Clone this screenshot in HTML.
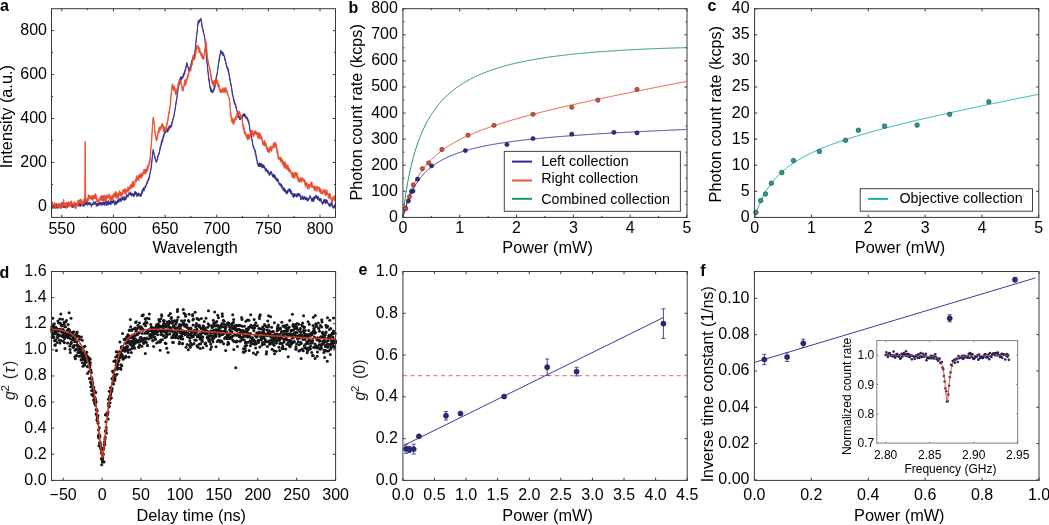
<!DOCTYPE html>
<html><head><meta charset="utf-8"><style>
html,body{margin:0;padding:0;background:#fff;}
svg{display:block;will-change:transform;}
text{font-family:"Liberation Sans", sans-serif;}
</style></head><body>
<svg width="1049" height="525" viewBox="0 0 1049 525">
<defs><clipPath id="ca"><rect x="51.5" y="8.7" width="284.0" height="208.70000000000002"/></clipPath></defs>
<rect width="1049" height="525" fill="#fff"/>
<g clip-path="url(#ca)">
<polygon points="51,205.89 51.45,206.31 51.9,206.36 52.35,205.45 52.8,204.9 53.25,204.78 53.7,204.56 54.15,206.17 54.6,206.46 55.05,206.58 55.5,205.86 55.95,204.64 56.4,205.51 56.85,204.03 57.3,204.58 57.75,205.8 58.2,204.84 58.65,203.99 59.1,203.44 59.55,205.27 60,204.33 60.45,204.95 60.9,206.09 61.35,205.01 61.8,202.07 62.25,203.07 62.7,203.84 63.15,203.94 63.6,205.99 64.05,206.03 64.5,206.33 64.95,205.7 65.4,205.72 65.85,206.11 66.3,206.51 66.75,204.55 67.2,203.62 67.65,202.76 68.1,203.96 68.55,203.29 69,203.78 69.45,203.96 69.9,203.3 70.35,202.72 70.8,203.42 71.25,204.85 71.7,205.11 72.15,204.21 72.6,204.75 73.05,204.44 73.5,205.65 73.95,203.79 74.4,204.73 74.85,205.01 75.3,204.83 75.75,203.13 76.2,203.07 76.65,204.51 77.1,203.81 77.55,202.9 78,204.25 78.45,204.07 78.9,203.66 79.35,201.91 79.8,203.43 80.25,203.84 80.7,202.95 81.15,203.87 81.6,202.82 82.05,203.88 82.5,204.22 82.95,203.9 83.4,204.13 83.85,204.45 84.3,203 84.75,202.64 85.2,202.85 85.65,201.75 86.1,201.35 86.55,202.9 87,202.31 87.45,201.72 87.9,202.47 88.35,202.6 88.8,202.08 89.25,202.58 89.7,203.59 90.15,202.32 90.6,202.75 91.05,204.15 91.5,204.17 91.95,204.2 92.4,203.3 92.85,203.48 93.3,202.25 93.75,201.58 94.2,201.56 94.65,202.55 95.1,201.79 95.55,201.84 96,203.58 96.45,203.29 96.9,203.17 97.35,204.82 97.8,203.12 98.25,202.25 98.7,202.25 99.15,201.77 99.6,203.53 100.05,202.78 100.5,201.86 100.95,203.65 101.4,202.42 101.85,203.85 102.3,202.44 102.75,202.46 103.2,201.77 103.65,202.69 104.1,202.83 104.55,201.85 105,203.17 105.45,202.2 105.9,200.27 106.35,201.4 106.8,203.65 107.25,201.32 107.7,202.29 108.15,200.6 108.6,200.51 109.05,202.32 109.5,202.6 109.95,202.48 110.4,201.08 110.85,201.27 111.3,201.81 111.75,200.27 112.2,201.25 112.65,201.05 113.1,201.21 113.55,199.56 114,200.5 114.45,201.95 114.9,202.54 115.35,200.71 115.8,201.8 116.25,201.82 116.7,201.31 117.15,200.52 117.6,200.09 118.05,201.01 118.5,198.81 118.95,198.97 119.4,199.54 119.85,198.02 120.3,198.05 120.75,198.55 121.2,199.49 121.65,197.96 122.1,197.29 122.55,196.74 123,197.95 123.45,198.42 123.9,196.36 124.35,196.42 124.8,198.01 125.25,198.9 125.7,197.01 126.15,196.25 126.6,194.47 127.05,195.7 127.5,194.79 127.95,194.76 128.4,194.48 128.85,192.62 129.3,192.98 129.75,193.1 130.2,192.88 130.65,191.73 131.1,192.92 131.55,194.26 132,193.3 132.45,194.26 132.9,193.6 133.35,194.05 133.8,194.67 134.25,192.86 134.7,191.61 135.15,191.36 135.6,191.73 136.05,191.85 136.5,192.98 136.95,192.84 137.4,193.52 137.85,193.15 138.3,192.77 138.75,193.2 139.2,194.24 139.65,194.46 140.1,193.62 140.55,194.09 141,194.1 141.45,192.51 141.9,190.82 142.35,189.37 142.8,189.49 143.25,188.09 143.7,187.39 144.15,188.48 144.6,187.66 145.05,185.87 145.5,185.73 145.95,184.78 146.4,183.35 146.85,182.61 147.3,180.78 147.75,180.1 148.2,178.8 148.65,177.78 149.1,176.32 149.55,175.07 150,172.71 150.45,170.04 150.9,168.14 151.35,163.72 151.8,160.26 152.25,156.62 152.7,152.58 153.15,149.15 153.6,151.11 154.05,153.28 154.5,155.46 154.95,155.97 155.4,158.73 155.85,159.49 156.3,160.08 156.75,159.82 157.2,159.42 157.65,156.8 158.1,155.09 158.55,153.16 159,152.65 159.45,151.05 159.9,147.43 160.35,146.16 160.8,144.41 161.25,142.09 161.7,140.13 162.15,140.16 162.6,137.99 163.05,136.69 163.5,135.21 163.95,133.37 164.4,132.82 164.85,130.53 165.3,130.92 165.75,130.81 166.2,130.63 166.65,129.63 167.1,130.43 167.55,128.42 168,129.59 168.45,128.71 168.9,126.3 169.35,126.87 169.8,125.36 170.25,125.29 170.7,126.18 171.15,125.44 171.6,124.01 172.05,121.21 172.5,120.72 172.95,118.72 173.4,117.12 173.85,115.72 174.3,112.33 174.75,111.03 175.2,108.11 175.65,103.85 176.1,101.47 176.55,99 177,96.03 177.45,93.01 177.9,89.09 178.35,84.66 178.8,83.36 179.25,81.89 179.7,79.36 180.15,78.19 180.6,76.73 181.05,76.39 181.5,77.14 181.95,77.87 182.4,76.73 182.85,76.3 183.3,73.84 183.75,73.77 184.2,72.11 184.65,70.37 185.1,70.13 185.55,67.57 186,65.99 186.45,64.13 186.9,62.3 187.35,63.75 187.8,65.64 188.25,66.82 188.7,67.41 189.15,67.93 189.6,67.67 190.05,68.05 190.5,66.73 190.95,64.02 191.4,62.05 191.85,60.03 192.3,59.37 192.75,58.14 193.2,56.17 193.65,56.19 194.1,54.55 194.55,54.7 195,49.93 195.45,47.26 195.9,42.04 196.35,36.43 196.8,33.93 197.25,29.58 197.7,23.55 198.15,20.65 198.6,20.3 199.05,20.85 199.5,19.51 199.95,19.63 200.4,19.35 200.85,18.04 201.3,19.92 201.75,22.19 202.2,25.66 202.65,28.07 203.1,29.21 203.55,32.26 204,33.84 204.45,35.05 204.9,38.42 205.35,42.45 205.8,47.58 206.25,53.77 206.7,57.9 207.15,62.16 207.6,67.24 208.05,71.71 208.5,75.47 208.95,78.33 209.4,81.06 209.85,85.93 210.3,86.15 210.75,87.19 211.2,89.29 211.65,88.96 212.1,90.29 212.55,90.96 213,90.89 213.45,89.9 213.9,87.88 214.35,87.35 214.8,85.22 215.25,83.97 215.7,80.56 216.15,76.53 216.6,75.51 217.05,73.04 217.5,70.48 217.95,67.5 218.4,63.58 218.85,60.87 219.3,57.01 219.75,55.03 220.2,52.95 220.65,49.93 221.1,51.17 221.55,51.24 222,51.1 222.45,53.15 222.9,53.39 223.35,52.48 223.8,54.16 224.25,55.61 224.7,56.08 225.15,59.69 225.6,59.73 226.05,62.62 226.5,64.69 226.95,66.02 227.4,67.41 227.85,67.28 228.3,69.11 228.75,71.56 229.2,73.78 229.65,77.07 230.1,78.18 230.55,82.14 231,83.22 231.45,86.31 231.9,88.43 232.35,92.37 232.8,94.47 233.25,96.88 233.7,98.2 234.15,99.78 234.6,101.41 235.05,103.19 235.5,103.54 235.95,105.59 236.4,107.81 236.85,109.93 237.3,111.71 237.75,112.75 238.2,115.32 238.65,115.71 239.1,115.92 239.55,116.87 240,117.23 240.45,118.01 240.9,118.1 241.35,117.82 241.8,117.12 242.25,116.02 242.7,114.48 243.15,113.96 243.6,113.94 244.05,113.84 244.5,113.83 244.95,113.57 245.4,114.66 245.85,116.36 246.3,116.33 246.75,117.72 247.2,117.26 247.65,117.95 248.1,119.45 248.55,120.12 249,122.15 249.45,124.44 249.9,128.71 250.35,131.66 250.8,132.82 251.25,134.05 251.7,137.72 252.15,139.54 252.6,142.39 253.05,145.09 253.5,145.67 253.95,147.77 254.4,148.37 254.85,149.51 255.3,149.88 255.75,152.78 256.2,155.17 256.65,156.7 257.1,160.45 257.55,161.33 258,163.41 258.45,164 258.9,163.26 259.35,162.93 259.8,163.31 260.25,163.5 260.7,163.19 261.15,163.02 261.6,163.51 262.05,164.25 262.5,165.32 262.95,164.48 263.4,165.67 263.85,164.66 264.3,167.04 264.75,166.32 265.2,168.55 265.65,168.86 266.1,168.78 266.55,168.57 267,169.58 267.45,170.45 267.9,170.12 268.35,170.91 268.8,173.17 269.25,172.88 269.7,172.95 270.15,171.76 270.6,171.66 271.05,171.83 271.5,171.35 271.95,172.97 272.4,174.85 272.85,174.17 273.3,175.07 273.75,173.99 274.2,174.55 274.65,175.73 275.1,175.18 275.55,176.55 276,177.55 276.45,178.35 276.9,177.83 277.35,179.01 277.8,179.14 278.25,179.25 278.7,182.01 279.15,182.99 279.6,183.1 280.05,183.02 280.5,183.54 280.95,184.04 281.4,184.34 281.85,184.39 282.3,186.3 282.75,186.87 283.2,187.48 283.65,189.13 284.1,187.47 284.55,188.45 285,189.1 285.45,189.5 285.9,190.58 286.35,191.57 286.8,190.96 287.25,190.06 287.7,189.98 288.15,190.75 288.6,189.73 289.05,188.31 289.5,188.41 289.95,189.26 290.4,189.61 290.85,190.3 291.3,190.39 291.75,192.5 292.2,193.3 292.65,193.05 293.1,194.31 293.55,195.24 294,193.06 294.45,193.48 294.9,194.19 295.35,194.22 295.8,194.2 296.25,194.24 296.7,194.59 297.15,193.63 297.6,194.26 298.05,193.12 298.5,193.08 298.95,194.13 299.4,194.26 299.85,193.56 300.3,195.53 300.75,195.53 301.2,197.09 301.65,197.16 302.1,196.94 302.55,195.51 303,197.19 303.45,196.87 303.9,197.52 304.35,196.96 304.8,196.02 305.25,197.64 305.7,197.6 306.15,197.13 306.6,197.9 307.05,197.88 307.5,198.58 307.95,197.85 308.4,198.47 308.85,198.96 309.3,197.74 309.75,195.4 310.2,195.64 310.65,196.47 311.1,197.72 311.55,198.3 312,199.09 312.45,197.78 312.9,198.65 313.35,197.52 313.8,197.12 314.25,196.64 314.7,196.73 315.15,195.8 315.6,195.82 316.05,196.74 316.5,195.02 316.95,197.09 317.4,196.65 317.85,196.37 318.3,196.31 318.75,197.65 319.2,198.41 319.65,198.47 320.1,198.7 320.55,198.24 321,198.16 321.45,200.89 321.9,201.12 322.35,202.16 322.8,202.02 323.25,201.87 323.7,199.53 324.15,199.96 324.6,199.41 325.05,199.35 325.5,200.13 325.95,199.34 326.4,200.15 326.85,199.89 327.3,200.24 327.75,202.65 328.2,202.69 328.65,203.82 329.1,203.61 329.55,204.61 330,203.57 330.45,204.03 330.9,203.7 331.35,201.64 331.8,202.93 332.25,204.43 332.7,205.49 333.15,206.29 333.6,206.74 334.05,205.83 334.5,204.84 334.95,204.15 335.4,203.38 335.85,203.48 335.85,205.52 335.4,204.74 334.95,206.82 334.5,207.63 334.05,206.64 333.6,208.61 333.15,207.92 332.7,207.41 332.25,205.34 331.8,206.03 331.35,205.5 330.9,204.64 330.45,205.85 330,206.99 329.55,206.37 329.1,205.62 328.65,205.42 328.2,204.04 327.75,203.83 327.3,203.36 326.85,202.38 326.4,202.22 325.95,203.74 325.5,203.23 325.05,202.97 324.6,200.95 324.15,202.9 323.7,202.66 323.25,202.94 322.8,204.52 322.35,204.21 321.9,203.29 321.45,201.69 321,201.6 320.55,200.28 320.1,201.25 319.65,201.02 319.2,201.12 318.75,199.16 318.3,198.56 317.85,200.06 317.4,198.95 316.95,198.57 316.5,197.58 316.05,198.33 315.6,197.34 315.15,198.33 314.7,199.21 314.25,199.47 313.8,201.55 313.35,200.1 312.9,201.64 312.45,200.7 312,201.74 311.55,200.88 311.1,198.9 310.65,197.94 310.2,197.12 309.75,198.08 309.3,198.95 308.85,200.07 308.4,200.66 307.95,200.97 307.5,201.21 307.05,199.51 306.6,199.88 306.15,200.24 305.7,200.03 305.25,199.66 304.8,198.57 304.35,198.99 303.9,199.22 303.45,199.92 303,198.4 302.55,198.66 302.1,199.57 301.65,198.84 301.2,198.71 300.75,199.99 300.3,197.42 299.85,196.5 299.4,195.33 298.95,195.04 298.5,196.19 298.05,195.76 297.6,195.88 297.15,196.78 296.7,197.23 296.25,197.24 295.8,195.83 295.35,195.69 294.9,196.6 294.45,196.45 294,197.49 293.55,197.72 293.1,196.31 292.65,196.45 292.2,194.81 291.75,193.68 291.3,194.12 290.85,194.01 290.4,191.99 289.95,191.63 289.5,191.97 289.05,191.1 288.6,190.99 288.15,191.49 287.7,193.6 287.25,193.21 286.8,194.28 286.35,192.94 285.9,193.36 285.45,190.78 285,192.23 284.55,190.82 284.1,190.74 283.65,190.83 283.2,191.03 282.75,188.62 282.3,187.13 281.85,188.28 281.4,186.91 280.95,186.89 280.5,184.7 280.05,185.47 279.6,185.19 279.15,184.27 278.7,183.44 278.25,181.93 277.8,182.01 277.35,179.8 276.9,181.21 276.45,179.73 276,180.31 275.55,179.15 275.1,177.21 274.65,178.41 274.2,177.07 273.75,176.93 273.3,177.52 272.85,176.73 272.4,176.57 271.95,174.97 271.5,173.65 271.05,173.14 270.6,173.55 270.15,174.88 269.7,175.02 269.25,175.86 268.8,174.16 268.35,173.5 267.9,173.6 267.45,172.97 267,171.32 266.55,170.57 266.1,170.95 265.65,171.73 265.2,169.79 264.75,169.26 264.3,168.49 263.85,167.77 263.4,166.72 262.95,167.92 262.5,166.95 262.05,168.24 261.6,166.37 261.15,166.07 260.7,166.8 260.25,166.58 259.8,165.9 259.35,166.9 258.9,166.08 258.45,166.82 258,164.69 257.55,164.93 257.1,162.05 256.65,159.99 256.2,158.21 255.75,155.53 255.3,154.32 254.85,151.45 254.4,150.07 253.95,148.56 253.5,148.6 253.05,146.84 252.6,144.39 252.15,141.21 251.7,139.25 251.25,137.06 250.8,136.28 250.35,132.56 249.9,130.46 249.45,127.32 249,124.05 248.55,123.55 248.1,121.2 247.65,120.91 247.2,120.11 246.75,118.58 246.3,117.84 245.85,118.43 245.4,117.64 244.95,116.77 244.5,116.42 244.05,114.98 243.6,116.58 243.15,115.28 242.7,116.36 242.25,118.88 241.8,118.05 241.35,118.79 240.9,119.19 240.45,119.5 240,118.97 239.55,119.63 239.1,118.27 238.65,117.24 238.2,117.63 237.75,114.81 237.3,113.55 236.85,110.77 236.4,109.29 235.95,108.16 235.5,106.21 235.05,104.71 234.6,104.41 234.15,102.98 233.7,101.19 233.25,98.39 232.8,96.59 232.35,94.99 231.9,91.21 231.45,88.46 231,85.77 230.55,84.32 230.1,80.94 229.65,80.07 229.2,75.88 228.75,73.92 228.3,72.05 227.85,71.03 227.4,69.23 226.95,67.73 226.5,66.94 226.05,65.06 225.6,62.04 225.15,60.45 224.7,60.35 224.25,56.74 223.8,55.62 223.35,55.96 222.9,55.1 222.45,55.44 222,53.29 221.55,53.23 221.1,53.81 220.65,54 220.2,54.14 219.75,58.43 219.3,59.92 218.85,63.41 218.4,65.61 217.95,68.39 217.5,72.41 217.05,75.39 216.6,76.91 216.15,79.83 215.7,83.93 215.25,86.14 214.8,88.3 214.35,89.93 213.9,89.93 213.45,91.44 213,92.94 212.55,92.57 212.1,92.49 211.65,92.12 211.2,92.17 210.75,91.59 210.3,89.47 209.85,87.85 209.4,84.52 208.95,81.43 208.5,77.53 208.05,72.96 207.6,70.05 207.15,63.84 206.7,61.08 206.25,55.39 205.8,49.65 205.35,44.14 204.9,39.38 204.45,37.32 204,35.04 203.55,33.61 203.1,31.77 202.65,29.26 202.2,28.05 201.75,24.97 201.3,22.25 200.85,20.74 200.4,20.81 199.95,20.58 199.5,21.26 199.05,23.15 198.6,22.28 198.15,24.7 197.7,26.3 197.25,32 196.8,35.47 196.35,39.43 195.9,43.4 195.45,48.15 195,53.43 194.55,55.4 194.1,56.64 193.65,58.18 193.2,60.12 192.75,59.32 192.3,61.35 191.85,61.73 191.4,63.9 190.95,67.69 190.5,68.06 190.05,70.18 189.6,70.97 189.15,71.16 188.7,70.97 188.25,68.73 187.8,66.87 187.35,66.31 186.9,65.63 186.45,66.51 186,68.53 185.55,70.48 185.1,71.77 184.65,74.58 184.2,73.43 183.75,75.7 183.3,77.24 182.85,78.25 182.4,78.49 181.95,79.41 181.5,79.1 181.05,80.85 180.6,79.73 180.15,82.13 179.7,83.78 179.25,85.28 178.8,85.88 178.35,87.46 177.9,91.51 177.45,95.03 177,97.61 176.55,100.75 176.1,104.27 175.65,106.34 175.2,109.47 174.75,111.73 174.3,114.63 173.85,117.71 173.4,118.48 172.95,120.26 172.5,122.35 172.05,124.71 171.6,126.07 171.15,127.32 170.7,127.3 170.25,128.1 169.8,128.02 169.35,129.42 168.9,129.36 168.45,130.08 168,132.2 167.55,131.93 167.1,131.92 166.65,131.8 166.2,131.36 165.75,133.07 165.3,132.7 164.85,133.63 164.4,134.19 163.95,137.01 163.5,136.87 163.05,139.38 162.6,141.98 162.15,142.25 161.7,143.71 161.25,145.5 160.8,146.63 160.35,149.43 159.9,150.1 159.45,153.58 159,154.84 158.55,154.92 158.1,156.67 157.65,159.17 157.2,160.3 156.75,162.26 156.3,162.63 155.85,161.75 155.4,159.75 154.95,158.93 154.5,157.1 154.05,154.35 153.6,152.05 153.15,151.24 152.7,154.5 152.25,158.61 151.8,163.3 151.35,167.88 150.9,170.18 150.45,172.72 150,174.12 149.55,177.2 149.1,179.14 148.65,180.42 148.2,180.58 147.75,182.36 147.3,183.9 146.85,184.35 146.4,185.08 145.95,186.76 145.5,187.98 145.05,187.7 144.6,188.76 144.15,191.19 143.7,191.06 143.25,190.64 142.8,191.16 142.35,193.6 141.9,193.16 141.45,195.32 141,196.6 140.55,195.19 140.1,196.48 139.65,196.03 139.2,195.19 138.75,196.2 138.3,194.35 137.85,194.89 137.4,195.13 136.95,196.94 136.5,195.08 136.05,194.67 135.6,194.13 135.15,194.89 134.7,194.05 134.25,196.16 133.8,196.88 133.35,196.72 132.9,196.16 132.45,195.1 132,195.15 131.55,195.26 131.1,196.22 130.65,194.31 130.2,194.59 129.75,194.18 129.3,195.11 128.85,194.93 128.4,195.24 127.95,197.47 127.5,196.05 127.05,196.65 126.6,197.34 126.15,199.57 125.7,199.48 125.25,200.27 124.8,199.58 124.35,200.43 123.9,198.97 123.45,200.13 123,200.08 122.55,199.14 122.1,200.15 121.65,199.33 121.2,201.77 120.75,201 120.3,200.78 119.85,201.33 119.4,200.28 118.95,202.4 118.5,202.14 118.05,202.01 117.6,202.76 117.15,203.15 116.7,204.41 116.25,202.88 115.8,204.19 115.35,203.37 114.9,205.42 114.45,203.66 114,203.24 113.55,203.08 113.1,202.09 112.65,203.38 112.2,203.33 111.75,203.38 111.3,203.09 110.85,205.27 110.4,204.26 109.95,203.97 109.5,203.71 109.05,204.67 108.6,204.82 108.15,203.54 107.7,204.61 107.25,204.19 106.8,205.98 106.35,205.13 105.9,203.55 105.45,203.32 105,205.13 104.55,205.7 104.1,204.12 103.65,204.73 103.2,204.73 102.75,204.81 102.3,204.62 101.85,205.65 101.4,205.1 100.95,204.4 100.5,204.69 100.05,204.59 99.6,204.56 99.15,205.37 98.7,204.56 98.25,205.61 97.8,206.08 97.35,206.13 96.9,205.4 96.45,206.41 96,205.25 95.55,204.77 95.1,203.65 94.65,203.26 94.2,204.49 93.75,204.11 93.3,204.8 92.85,204.47 92.4,205.06 91.95,205.18 91.5,207.19 91.05,205.25 90.6,205.11 90.15,204.59 89.7,204.83 89.25,205.1 88.8,204.29 88.35,204.62 87.9,205 87.45,205.47 87,204.33 86.55,204.2 86.1,204.73 85.65,203.58 85.2,205.44 84.75,205.09 84.3,206.08 83.85,206.25 83.4,206.36 82.95,206.07 82.5,206.26 82.05,205.05 81.6,204.83 81.15,205.07 80.7,205.88 80.25,206.85 79.8,204.67 79.35,205.88 78.9,205.97 78.45,206.39 78,206.09 77.55,204.81 77.1,205.49 76.65,205.45 76.2,206.72 75.75,206.3 75.3,206.74 74.85,206.29 74.4,206.18 73.95,206.09 73.5,206.83 73.05,208.02 72.6,207.53 72.15,207.35 71.7,206.71 71.25,205.98 70.8,205.93 70.35,205.96 69.9,205.48 69.45,205.7 69,206.08 68.55,206.87 68.1,206.99 67.65,206.41 67.2,207.75 66.75,208.19 66.3,207.8 65.85,208.02 65.4,207.78 64.95,207.26 64.5,207.56 64.05,207.95 63.6,207.37 63.15,207.56 62.7,206.72 62.25,204.82 61.8,205.99 61.35,207.67 60.9,207.47 60.45,208.33 60,208.37 59.55,206.09 59.1,206.28 58.65,206.66 58.2,207.58 57.75,208.67 57.3,207.4 56.85,207.44 56.4,208.1 55.95,208.04 55.5,208.44 55.05,207.76 54.6,207.81 54.15,207.36 53.7,207.33 53.25,207.17 52.8,208.42 52.35,208.21 51.9,207.54 51.45,208.08 51,207.83" fill="#2e2c8c" stroke="#2e2c8c" stroke-width="0.8" stroke-linejoin="round"/>
<polygon points="51,203.99 51.45,202.44 51.9,203.3 52.35,201.61 52.8,204.12 53.25,204.37 53.7,204.4 54.15,205.5 54.6,202.7 55.05,202.85 55.5,204.82 55.95,203.32 56.4,203.08 56.85,203.69 57.3,203.82 57.75,204.34 58.2,203.15 58.65,203.52 59.1,204.11 59.55,204.07 60,204.63 60.45,203.56 60.9,203.73 61.35,204.01 61.8,203.6 62.25,203.53 62.7,204.21 63.15,203.07 63.6,199.29 64.05,202.28 64.5,203.44 64.95,203.17 65.4,202.53 65.85,205.28 66.3,204.25 66.75,202.22 67.2,204.17 67.65,203.44 68.1,202.02 68.55,201.36 69,204.07 69.45,203.39 69.9,202.09 70.35,201.63 70.8,201.88 71.25,200.68 71.7,200.99 72.15,203.42 72.6,203.14 73.05,202.85 73.5,203.43 73.95,203.14 74.4,202.27 74.85,201.23 75.3,204.33 75.75,205.02 76.2,203.71 76.65,203.7 77.1,203 77.55,202.31 78,199.83 78.45,202.14 78.9,200.57 79.35,201.06 79.8,199.18 80.25,198.98 80.7,198.93 81.15,199.34 81.6,200.61 82.05,201.74 82.5,201.87 82.95,201.15 83.4,199.53 83.85,199.22 84.3,199.78 84.75,198.73 85.2,197.25 85.65,197.84 86.1,200.01 86.55,199.61 87,198.44 87.45,198.26 87.9,197.7 88.35,194.9 88.8,194.46 89.25,195.67 89.7,195.55 90.15,195.59 90.6,196.05 91.05,196.2 91.5,195.89 91.95,196.03 92.4,196.79 92.85,194.97 93.3,195.05 93.75,196.5 94.2,196.21 94.65,194.57 95.1,195.02 95.55,193.37 96,195.45 96.45,195.24 96.9,196.74 97.35,199.25 97.8,199.69 98.25,199.59 98.7,199.17 99.15,198.96 99.6,198.27 100.05,196.97 100.5,197.29 100.95,195.52 101.4,195.79 101.85,195.6 102.3,196.55 102.75,195.16 103.2,197.72 103.65,195.58 104.1,196.93 104.55,194.84 105,195.73 105.45,196.27 105.9,196.59 106.35,194.86 106.8,196.12 107.25,195.69 107.7,195.39 108.15,194.83 108.6,194.08 109.05,194.46 109.5,194.12 109.95,196.9 110.4,196.2 110.85,196.61 111.3,196.24 111.75,195.89 112.2,194.66 112.65,196.53 113.1,195.48 113.55,193.03 114,193.31 114.45,194.46 114.9,192.88 115.35,191.55 115.8,192.33 116.25,191.52 116.7,193.14 117.15,194.92 117.6,193.23 118.05,193.47 118.5,193.91 118.95,192.8 119.4,190.41 119.85,191.55 120.3,192.66 120.75,191.88 121.2,192.33 121.65,193.91 122.1,192.57 122.55,190.14 123,190.99 123.45,189.15 123.9,189.91 124.35,189.64 124.8,188.43 125.25,190.2 125.7,188.89 126.15,189.39 126.6,189.38 127.05,189.92 127.5,188.45 127.95,186.56 128.4,187.35 128.85,188.64 129.3,187.27 129.75,186.52 130.2,185.42 130.65,185.16 131.1,183.95 131.55,185.17 132,183.35 132.45,181.72 132.9,181.05 133.35,181.37 133.8,183.54 134.25,183.41 134.7,182.33 135.15,179.94 135.6,179.02 136.05,178.38 136.5,175.62 136.95,177.39 137.4,177.63 137.85,176.66 138.3,175.12 138.75,176.17 139.2,174.57 139.65,176.08 140.1,173.47 140.55,174.24 141,173.97 141.45,173.76 141.9,173.77 142.35,172.46 142.8,173.52 143.25,171.72 143.7,170.22 144.15,168.96 144.6,169.72 145.05,171.57 145.5,169.06 145.95,169.17 146.4,169.86 146.85,168.37 147.3,165.97 147.75,164.89 148.2,165.53 148.65,164.94 149.1,161.07 149.55,160.03 150,157.84 150.45,154.25 150.9,146.57 151.35,142.7 151.8,134.15 152.25,127.55 152.7,121.31 153.15,116.96 153.6,117.14 154.05,121.33 154.5,125.37 154.95,130.58 155.4,133.03 155.85,137.17 156.3,137.8 156.75,137.76 157.2,133.88 157.65,134.45 158.1,131.05 158.55,130.52 159,127.31 159.45,129.69 159.9,126.84 160.35,127.1 160.8,127.05 161.25,124.84 161.7,124 162.15,123.49 162.6,123.46 163.05,126.18 163.5,125.19 163.95,125.78 164.4,128.02 164.85,128.19 165.3,127 165.75,128.4 166.2,128.17 166.65,123.93 167.1,122.14 167.55,119.9 168,116.52 168.45,114.4 168.9,111.26 169.35,110.12 169.8,107.05 170.25,104.8 170.7,98.45 171.15,92.17 171.6,89.29 172.05,84.59 172.5,83.74 172.95,84.75 173.4,85.75 173.85,88.2 174.3,85.9 174.75,88.78 175.2,88.14 175.65,89.81 176.1,91.41 176.55,89.8 177,88.36 177.45,88.2 177.9,85.67 178.35,81.87 178.8,81.76 179.25,78.89 179.7,79.94 180.15,79.55 180.6,79.94 181.05,81.88 181.5,83.72 181.95,86.18 182.4,87.38 182.85,87.28 183.3,87.36 183.75,85.48 184.2,83.26 184.65,79.63 185.1,80.99 185.55,80.47 186,78.86 186.45,79.41 186.9,78.21 187.35,76.08 187.8,74.18 188.25,74.61 188.7,71.24 189.15,70.41 189.6,69.27 190.05,68.21 190.5,67.82 190.95,67.15 191.4,65.45 191.85,63.8 192.3,58.99 192.75,57.58 193.2,54.9 193.65,56.78 194.1,56.31 194.55,55.78 195,55.29 195.45,51.95 195.9,49.42 196.35,47.65 196.8,46.01 197.25,45.32 197.7,45.64 198.15,45.33 198.6,48.02 199.05,49.62 199.5,47.48 199.95,48.53 200.4,51.78 200.85,53.06 201.3,54.73 201.75,52.49 202.2,55.47 202.65,54.61 203.1,55.94 203.55,58.07 204,56.04 204.45,51.44 204.9,48.38 205.35,43.18 205.8,40.89 206.25,42.02 206.7,47.75 207.15,53.64 207.6,57.54 208.05,59.31 208.5,62.75 208.95,64.94 209.4,65.75 209.85,67.55 210.3,71.09 210.75,72.2 211.2,74.7 211.65,78.08 212.1,80.3 212.55,82.24 213,80.81 213.45,81.84 213.9,80.34 214.35,81.67 214.8,80.16 215.25,80.39 215.7,80.2 216.15,78.75 216.6,78.22 217.05,80.53 217.5,79.88 217.95,83.54 218.4,83.39 218.85,84.28 219.3,84.78 219.75,88.47 220.2,88.7 220.65,89.16 221.1,90.69 221.55,89.56 222,89.8 222.45,88.51 222.9,87.66 223.35,88.61 223.8,89.75 224.25,87.73 224.7,89.3 225.15,89.75 225.6,87.13 226.05,87.74 226.5,89.17 226.95,90.69 227.4,91.85 227.85,94.07 228.3,95.3 228.75,96.55 229.2,97.92 229.65,99.87 230.1,104.99 230.55,109.98 231,113.79 231.45,117.41 231.9,117.19 232.35,118.6 232.8,118.77 233.25,120.64 233.7,119.46 234.15,118.28 234.6,120.81 235.05,118.75 235.5,116.36 235.95,116.76 236.4,115.84 236.85,113.32 237.3,112.95 237.75,112.04 238.2,112.26 238.65,110.99 239.1,113.45 239.55,111.28 240,113.19 240.45,114.18 240.9,115.34 241.35,115.68 241.8,117.54 242.25,117.72 242.7,121.61 243.15,125.2 243.6,125.16 244.05,127.32 244.5,128.78 244.95,132.17 245.4,132.28 245.85,132.31 246.3,134.97 246.75,135.09 247.2,135.95 247.65,134.2 248.1,136.47 248.55,134.04 249,137.2 249.45,134.49 249.9,135.03 250.35,133.93 250.8,132.38 251.25,129.8 251.7,132.33 252.15,130.41 252.6,130.26 253.05,132.87 253.5,132.73 253.95,133.03 254.4,130.79 254.85,132.47 255.3,131.49 255.75,130.36 256.2,132.18 256.65,132.81 257.1,132.04 257.55,132.93 258,133.44 258.45,132.51 258.9,134.77 259.35,132.62 259.8,134.95 260.25,133.44 260.7,134.98 261.15,135.6 261.6,136.53 262.05,136.96 262.5,140.22 262.95,140.55 263.4,143.17 263.85,141.72 264.3,140.34 264.75,140.72 265.2,143.88 265.65,142.33 266.1,144.06 266.55,145.34 267,146.61 267.45,147.67 267.9,148.87 268.35,147.85 268.8,148.81 269.25,150.08 269.7,147.35 270.15,147.36 270.6,145.59 271.05,148.19 271.5,146.55 271.95,146.64 272.4,146.59 272.85,146.04 273.3,142.87 273.75,144.77 274.2,143.84 274.65,142.49 275.1,142.36 275.55,142.04 276,144.56 276.45,144.53 276.9,147.26 277.35,149.48 277.8,150.65 278.25,155.38 278.7,156.09 279.15,157.66 279.6,157.81 280.05,157.52 280.5,156.82 280.95,158.94 281.4,157.77 281.85,159.01 282.3,160.5 282.75,159.64 283.2,162.4 283.65,161.63 284.1,162.27 284.55,163.95 285,161.51 285.45,162.49 285.9,164.17 286.35,164.73 286.8,164.84 287.25,164.97 287.7,165.51 288.15,165.12 288.6,167.18 289.05,168.41 289.5,168.84 289.95,168.8 290.4,170.3 290.85,170.58 291.3,173.03 291.75,173.5 292.2,173.76 292.65,171.68 293.1,173.58 293.55,174.83 294,173.1 294.45,172.14 294.9,172.83 295.35,174.55 295.8,172.11 296.25,174.04 296.7,172.34 297.15,172.98 297.6,174.35 298.05,176.99 298.5,177.69 298.95,179.52 299.4,178.18 299.85,179.84 300.3,178.45 300.75,177.4 301.2,177.47 301.65,179.16 302.1,179.91 302.55,177.4 303,179.28 303.45,178.63 303.9,179.91 304.35,180.35 304.8,179.39 305.25,181.13 305.7,181.46 306.15,182.28 306.6,184.12 307.05,184.83 307.5,182.9 307.95,185.72 308.4,184.36 308.85,185.57 309.3,184.19 309.75,185.08 310.2,184.16 310.65,182.48 311.1,183.34 311.55,182.08 312,181.76 312.45,185.17 312.9,185.56 313.35,186.34 313.8,186.21 314.25,186.57 314.7,185.42 315.15,186.72 315.6,187.33 316.05,186.64 316.5,186.27 316.95,187.55 317.4,186.65 317.85,185.93 318.3,187.21 318.75,188.97 319.2,187.32 319.65,187.25 320.1,188.76 320.55,189.77 321,188.63 321.45,190.96 321.9,191.61 322.35,190.99 322.8,191.57 323.25,188.9 323.7,190.77 324.15,190.65 324.6,190.54 325.05,189.34 325.5,190.73 325.95,192.46 326.4,192.01 326.85,189.66 327.3,191.87 327.75,192.74 328.2,193.67 328.65,193.97 329.1,195.08 329.55,193.25 330,193.09 330.45,195.17 330.9,195.48 331.35,198.96 331.8,199.73 332.25,198.66 332.7,197.37 333.15,196.75 333.6,197.9 334.05,195.35 334.5,197.83 334.95,197.05 335.4,197.02 335.85,199.58 335.85,203.21 335.4,201.68 334.95,201.06 334.5,200.43 334.05,199.05 333.6,199 333.15,199.16 332.7,201.83 332.25,203.89 331.8,202.28 331.35,201.07 330.9,198.67 330.45,198.56 330,196.94 329.55,196.99 329.1,199.05 328.65,196.62 328.2,197.61 327.75,194.79 327.3,194.33 326.85,193.9 326.4,194.78 325.95,195.92 325.5,193.62 325.05,195.72 324.6,193.37 324.15,191.97 323.7,192.33 323.25,192.99 322.8,194 322.35,194.39 321.9,193.36 321.45,193.54 321,191.41 320.55,193.61 320.1,191.46 319.65,192.2 319.2,191.75 318.75,190.34 318.3,189.2 317.85,188.8 317.4,188.75 316.95,191.59 316.5,190.51 316.05,190.58 315.6,189.61 315.15,190.87 314.7,188.08 314.25,190.31 313.8,188.94 313.35,188.18 312.9,186.97 312.45,186.82 312,187.46 311.55,185.51 311.1,187.54 310.65,185.35 310.2,185.27 309.75,187.21 309.3,189.22 308.85,188.19 308.4,187.28 307.95,187.01 307.5,189.33 307.05,186.29 306.6,185.29 306.15,186.36 305.7,187.26 305.25,185.6 304.8,184.7 304.35,181.97 303.9,181.79 303.45,181.23 303,180.86 302.55,181.03 302.1,181.44 301.65,181.04 301.2,182.51 300.75,181.29 300.3,180.33 299.85,182.03 299.4,182.31 298.95,181.62 298.5,182.04 298.05,180.98 297.6,179.34 297.15,178.16 296.7,176.94 296.25,175.57 295.8,175.79 295.35,175.55 294.9,178.49 294.45,176.98 294,178.49 293.55,177.95 293.1,177.17 292.65,176.84 292.2,177.84 291.75,175.17 291.3,174.73 290.85,173.33 290.4,171.8 289.95,172.79 289.5,170.93 289.05,169.79 288.6,171.4 288.15,170.76 287.7,169.21 287.25,169.6 286.8,169.9 286.35,168.46 285.9,167.99 285.45,168.34 285,166.73 284.55,165.93 284.1,168.44 283.65,165.75 283.2,165.62 282.75,163.27 282.3,164.69 281.85,162.12 281.4,161.52 280.95,160.45 280.5,162.29 280.05,159.87 279.6,159.4 279.15,160.06 278.7,158.69 278.25,159.06 277.8,157.21 277.35,153.67 276.9,152.57 276.45,149.34 276,147.81 275.55,144.55 275.1,146.25 274.65,144.84 274.2,148.14 273.75,146.28 273.3,147.64 272.85,147.48 272.4,147.92 271.95,149.96 271.5,151.4 271.05,151.17 270.6,150.95 270.15,150.37 269.7,150.76 269.25,152.76 268.8,152.96 268.35,152.19 267.9,151.02 267.45,151.82 267,150.71 266.55,148.77 266.1,146.77 265.65,146.12 265.2,145.39 264.75,146.22 264.3,146.06 263.85,144.3 263.4,144.52 262.95,145.49 262.5,143.64 262.05,140.04 261.6,139.31 261.15,139.51 260.7,138.61 260.25,137.11 259.8,138.07 259.35,139.08 258.9,138.71 258.45,138.65 258,136.78 257.55,137.74 257.1,135.11 256.65,135.03 256.2,134.15 255.75,134.41 255.3,134.05 254.85,134.44 254.4,134.55 253.95,135.15 253.5,136.64 253.05,137.13 252.6,135.47 252.15,134.8 251.7,135.63 251.25,134.88 250.8,135.51 250.35,135.43 249.9,138.43 249.45,139.21 249,138.58 248.55,139.32 248.1,139.19 247.65,140.22 247.2,137.57 246.75,138.46 246.3,137.37 245.85,136.2 245.4,134.48 244.95,134.49 244.5,133.79 244.05,132.66 243.6,130.59 243.15,128.25 242.7,126.02 242.25,121.29 241.8,119.35 241.35,117.59 240.9,118.23 240.45,117.71 240,115.49 239.55,115.04 239.1,114.52 238.65,115.42 238.2,115.58 237.75,115.45 237.3,116.31 236.85,118.04 236.4,119.29 235.95,119.84 235.5,119.68 235.05,120.94 234.6,121.88 234.15,123.54 233.7,123.74 233.25,124.77 232.8,123.15 232.35,122.71 231.9,121.28 231.45,122.24 231,117.29 230.55,113.91 230.1,107.79 229.65,102.78 229.2,99.68 228.75,98.29 228.3,96.58 227.85,95.69 227.4,95.48 226.95,92.43 226.5,91.67 226.05,91.76 225.6,92.53 225.15,91.37 224.7,92.25 224.25,92.36 223.8,92.99 223.35,91.27 222.9,92.03 222.45,91.51 222,91.65 221.55,92.98 221.1,92.41 220.65,92.91 220.2,92.76 219.75,90.35 219.3,90.5 218.85,87.15 218.4,85.83 217.95,87.13 217.5,83.25 217.05,84.13 216.6,82.82 216.15,83.71 215.7,83.35 215.25,85.14 214.8,83.93 214.35,83.74 213.9,84.34 213.45,86.71 213,84.57 212.55,84.38 212.1,84.26 211.65,81.23 211.2,80.52 210.75,76.71 210.3,74.4 209.85,71.47 209.4,69.73 208.95,66.39 208.5,65.25 208.05,62.22 207.6,61.28 207.15,57.56 206.7,50.45 206.25,45.89 205.8,44.78 205.35,48.77 204.9,49.39 204.45,54.19 204,58.97 203.55,59.33 203.1,59.65 202.65,59.13 202.2,58.1 201.75,57.45 201.3,56.07 200.85,55.6 200.4,53.76 199.95,52.22 199.5,52.84 199.05,53.1 198.6,49.42 198.15,49.36 197.7,47.37 197.25,48.7 196.8,48.93 196.35,50.5 195.9,53.45 195.45,55.94 195,58.67 194.55,59.18 194.1,60.29 193.65,58.34 193.2,60.09 192.75,60.54 192.3,65.18 191.85,64.95 191.4,66.8 190.95,70.99 190.5,69.97 190.05,71.77 189.6,71.42 189.15,72.56 188.7,75.18 188.25,76.41 187.8,79.2 187.35,78.65 186.9,79.99 186.45,83.72 186,82.52 185.55,85.78 185.1,84.97 184.65,84.5 184.2,86.6 183.75,87.85 183.3,91.09 182.85,91.31 182.4,89.26 181.95,89.93 181.5,85.71 181.05,84.1 180.6,82.6 180.15,82.31 179.7,82.08 179.25,83.73 178.8,85.14 178.35,87.06 177.9,87.94 177.45,90.29 177,92.79 176.55,93.68 176.1,94.41 175.65,95.04 175.2,93.05 174.75,90.47 174.3,90.46 173.85,89.73 173.4,90.7 172.95,88.33 172.5,88.66 172.05,89.31 171.6,91.34 171.15,96.69 170.7,104.78 170.25,106.1 169.8,109.12 169.35,111.92 168.9,115.14 168.45,118.66 168,120.84 167.55,122.18 167.1,124.94 166.65,127.93 166.2,131.81 165.75,130.46 165.3,130.21 164.85,131.05 164.4,129.47 163.95,130.42 163.5,131.81 163.05,129.5 162.6,127.5 162.15,126.82 161.7,125.73 161.25,128.64 160.8,128.43 160.35,130.12 159.9,130.65 159.45,131.28 159,133.15 158.55,131.9 158.1,133.47 157.65,136.74 157.2,139.5 156.75,140.82 156.3,141.07 155.85,138.86 155.4,136.12 154.95,134.19 154.5,127.33 154.05,123.17 153.6,119.94 153.15,118.65 152.7,125.4 152.25,130.91 151.8,139.48 151.35,143.96 150.9,150.52 150.45,158.03 150,161.97 149.55,164.98 149.1,165.15 148.65,166.89 148.2,168.94 147.75,170.07 147.3,171.57 146.85,171.65 146.4,172.39 145.95,173.19 145.5,174.33 145.05,173.95 144.6,173.82 144.15,171.93 143.7,172.22 143.25,174.11 142.8,176.42 142.35,175.57 141.9,176.8 141.45,178.24 141,177.88 140.55,178.3 140.1,176.7 139.65,177.26 139.2,178.3 138.75,181.22 138.3,179.88 137.85,179.37 137.4,179.23 136.95,179.41 136.5,182.02 136.05,179.55 135.6,180.96 135.15,182.4 134.7,185.54 134.25,184.6 133.8,187.16 133.35,185.77 132.9,187.51 132.45,187.54 132,187.19 131.55,187.98 131.1,188.72 130.65,188.52 130.2,189.28 129.75,188.53 129.3,190.58 128.85,190.01 128.4,189.99 127.95,192.45 127.5,190.38 127.05,191.18 126.6,192.28 126.15,193.61 125.7,194.71 125.25,191.89 124.8,192.49 124.35,193.89 123.9,191.2 123.45,192.3 123,192.55 122.55,195.39 122.1,194.56 121.65,195.1 121.2,197.45 120.75,195.93 120.3,195.54 119.85,195.02 119.4,194.29 118.95,197.3 118.5,197.28 118.05,196.21 117.6,199.06 117.15,198.97 116.7,197.77 116.25,197.27 115.8,197.56 115.35,196.94 114.9,197.64 114.45,195.83 114,195.49 113.55,197.52 113.1,198.86 112.65,199.54 112.2,198.84 111.75,200.58 111.3,198.19 110.85,199.68 110.4,200.62 109.95,200.38 109.5,198.34 109.05,196.77 108.6,197.76 108.15,198.5 107.7,197.67 107.25,198.17 106.8,198.75 106.35,201.29 105.9,199.02 105.45,200.36 105,198.23 104.55,200.78 104.1,200.49 103.65,202.05 103.2,199.59 102.75,201.11 102.3,199.96 101.85,200.51 101.4,199.81 100.95,200.94 100.5,199.2 100.05,199.6 99.6,200.23 99.15,200.05 98.7,202.08 98.25,203.67 97.8,202.17 97.35,200.48 96.9,201.77 96.45,200.69 96,198 95.55,196.71 95.1,198.97 94.65,198.79 94.2,197.58 93.75,197.97 93.3,199.21 92.85,200.66 92.4,198.92 91.95,199.96 91.5,198.89 91.05,199.15 90.6,198.83 90.15,199.38 89.7,198.59 89.25,198.45 88.8,198.22 88.35,200.87 87.9,200.01 87.45,201.88 87,201.88 86.55,200.86 86.1,201.84 85.65,201.62 85.2,201.97 84.75,203.13 84.3,202.66 83.85,204.17 83.4,202.03 82.95,204.31 82.5,203.25 82.05,205.38 81.6,204.86 81.15,202.03 80.7,200.93 80.25,203.61 79.8,203.66 79.35,203.07 78.9,203.21 78.45,205.99 78,203.73 77.55,203.4 77.1,205.69 76.65,207.27 76.2,207.54 75.75,209.12 75.3,208.62 74.85,206.99 74.4,204.55 73.95,207.17 73.5,205.75 73.05,205.02 72.6,204.54 72.15,205.36 71.7,207.18 71.25,207.57 70.8,204.23 70.35,203.96 69.9,205.56 69.45,206.22 69,205.27 68.55,205.5 68.1,206.57 67.65,207.45 67.2,206.86 66.75,208.01 66.3,206.75 65.85,208.22 65.4,206.93 64.95,206.06 64.5,204.89 64.05,204.52 63.6,203.62 63.15,205.97 62.7,207.58 62.25,207.21 61.8,208.11 61.35,206.26 60.9,208.89 60.45,207.83 60,205.84 59.55,206.76 59.1,207.44 58.65,208.11 58.2,207.46 57.75,206.01 57.3,207.45 56.85,205.25 56.4,205.63 55.95,206.48 55.5,207.65 55.05,207.67 54.6,206.7 54.15,206.81 53.7,208.13 53.25,208.8 52.8,207.16 52.35,206.93 51.9,207.6 51.45,206.47 51,206.52" fill="#ea4a2c" stroke="#ea4a2c" stroke-width="0.8" stroke-linejoin="round"/>
<polyline points="84.7,201 85.2,141.5 85.7,199" fill="none" stroke="#ea4a2c" stroke-width="1.0" stroke-linejoin="round"/>
</g>
<path d="M61.83 217.4v-2.7M61.83 8.7v2.7M113.46 217.4v-2.7M113.46 8.7v2.7M165.1 217.4v-2.7M165.1 8.7v2.7M216.74 217.4v-2.7M216.74 8.7v2.7M268.37 217.4v-2.7M268.37 8.7v2.7M320.01 217.4v-2.7M320.01 8.7v2.7M87.65 217.4v-1.5M87.65 8.7v1.5M139.28 217.4v-1.5M139.28 8.7v1.5M190.92 217.4v-1.5M190.92 8.7v1.5M242.55 217.4v-1.5M242.55 8.7v1.5M294.19 217.4v-1.5M294.19 8.7v1.5M51.5 206.42h2.7M335.5 206.42h-2.7M51.5 162.48h2.7M335.5 162.48h-2.7M51.5 118.54h2.7M335.5 118.54h-2.7M51.5 74.61h2.7M335.5 74.61h-2.7M51.5 30.67h2.7M335.5 30.67h-2.7M51.5 184.45h1.5M335.5 184.45h-1.5M51.5 140.51h1.5M335.5 140.51h-1.5M51.5 96.57h1.5M335.5 96.57h-1.5M51.5 52.64h1.5M335.5 52.64h-1.5" stroke="#3a3a3a" stroke-width="1" fill="none"/>
<rect x="51.5" y="8.7" width="284" height="208.7" stroke="#3a3a3a" stroke-width="1.0" fill="none"/>
<text x="61.83" y="233.5" font-size="16" text-anchor="middle">550</text>
<text x="113.46" y="233.5" font-size="16" text-anchor="middle">600</text>
<text x="165.1" y="233.5" font-size="16" text-anchor="middle">650</text>
<text x="216.74" y="233.5" font-size="16" text-anchor="middle">700</text>
<text x="268.37" y="233.5" font-size="16" text-anchor="middle">750</text>
<text x="320.01" y="233.5" font-size="16" text-anchor="middle">800</text>
<text x="47" y="210.92" font-size="16" text-anchor="end">0</text>
<text x="47" y="166.98" font-size="16" text-anchor="end">200</text>
<text x="47" y="123.04" font-size="16" text-anchor="end">400</text>
<text x="47" y="79.11" font-size="16" text-anchor="end">600</text>
<text x="47" y="35.17" font-size="16" text-anchor="end">800</text>
<text x="195.1" y="252.5" font-size="16.3" text-anchor="middle">Wavelength</text>
<text x="12" y="116.7" font-size="16.3" text-anchor="middle" transform="rotate(-90 12 116.7)">Intensity (a.u.)</text>
<text x="0" y="10.5" font-size="16" font-weight="bold">a</text>
<polyline points="402.9,217.4 403.61,210.33 404.32,204.45 405.04,199.15 405.75,194.28 406.46,189.76 407.17,185.54 407.88,181.58 408.6,177.85 409.31,174.32 410.02,170.98 410.73,167.81 411.44,164.79 412.16,161.92 412.87,159.17 413.58,156.54 414.29,154.03 415,151.62 415.72,149.31 416.43,147.09 417.14,144.95 417.85,142.9 418.56,140.92 419.28,139.01 419.99,137.17 420.7,135.39 421.41,133.67 422.12,132.01 422.84,130.4 423.55,128.85 424.26,127.34 424.97,125.88 425.68,124.46 426.4,123.08 427.11,121.75 427.82,120.45 428.53,119.19 429.25,117.97 429.96,116.77 430.67,115.62 431.38,114.49 432.09,113.39 432.81,112.32 433.52,111.28 434.23,110.26 434.94,109.27 435.65,108.3 436.37,107.36 437.08,106.44 437.79,105.54 438.5,104.66 439.21,103.8 439.93,102.96 440.64,102.14 441.35,101.34 442.06,100.56 442.77,99.79 443.49,99.04 444.2,98.3 444.91,97.59 445.62,96.88 446.33,96.19 447.05,95.52 447.76,94.85 448.47,94.21 449.18,93.57 449.89,92.95 450.61,92.34 451.32,91.74 452.03,91.15 452.74,90.57 453.45,90.01 454.17,89.45 454.88,88.9 455.59,88.37 456.3,87.84 457.01,87.33 457.73,86.82 458.44,86.32 459.15,85.83 459.86,85.35 460.57,84.88 461.29,84.41 462,83.95 462.71,83.51 463.42,83.06 464.13,82.63 464.85,82.2 465.56,81.78 466.27,81.37 466.98,80.96 467.69,80.56 468.41,80.16 469.12,79.78 469.83,79.39 470.54,79.02 471.25,78.65 471.97,78.28 472.68,77.92 473.39,77.57 474.1,77.22 474.82,76.87 475.53,76.54 476.24,76.2 476.95,75.87 477.66,75.55 478.38,75.23 479.09,74.91 479.8,74.6 480.51,74.3 481.22,74 481.94,73.7 482.65,73.4 483.36,73.12 484.07,72.83 484.78,72.55 485.5,72.27 486.21,72 486.92,71.73 487.63,71.46 488.34,71.2 489.06,70.94 489.77,70.68 490.48,70.43 491.19,70.18 491.9,69.93 492.62,69.69 493.33,69.44 494.04,69.21 494.75,68.97 495.46,68.74 496.18,68.51 496.89,68.29 497.6,68.06 498.31,67.84 499.02,67.63 499.74,67.41 500.45,67.2 501.16,66.99 501.87,66.78 502.58,66.58 503.3,66.37 504.01,66.17 504.72,65.98 505.43,65.78 506.14,65.59 506.86,65.4 507.57,65.21 508.28,65.02 508.99,64.84 509.7,64.66 510.42,64.48 511.13,64.3 511.84,64.12 512.55,63.95 513.26,63.77 513.98,63.6 514.69,63.44 515.4,63.27 516.11,63.1 516.82,62.94 517.54,62.78 518.25,62.62 518.96,62.46 519.67,62.31 520.38,62.15 521.1,62 521.81,61.85 522.52,61.7 523.23,61.55 523.95,61.41 524.66,61.26 525.37,61.12 526.08,60.98 526.79,60.84 527.51,60.7 528.22,60.56 528.93,60.43 529.64,60.29 530.35,60.16 531.07,60.03 531.78,59.9 532.49,59.77 533.2,59.64 533.91,59.51 534.63,59.39 535.34,59.26 536.05,59.14 536.76,59.02 537.47,58.9 538.19,58.78 538.9,58.66 539.61,58.55 540.32,58.43 541.03,58.31 541.75,58.2 542.46,58.09 543.17,57.98 543.88,57.87 544.59,57.76 545.31,57.65 546.02,57.54 546.73,57.44 547.44,57.33 548.15,57.23 548.87,57.13 549.58,57.02 550.29,56.92 551,56.82 551.71,56.72 552.43,56.63 553.14,56.53 553.85,56.43 554.56,56.34 555.27,56.24 555.99,56.15 556.7,56.06 557.41,55.96 558.12,55.87 558.83,55.78 559.55,55.69 560.26,55.61 560.97,55.52 561.68,55.43 562.39,55.34 563.11,55.26 563.82,55.17 564.53,55.09 565.24,55.01 565.95,54.93 566.67,54.84 567.38,54.76 568.09,54.68 568.8,54.6 569.52,54.53 570.23,54.45 570.94,54.37 571.65,54.29 572.36,54.22 573.08,54.14 573.79,54.07 574.5,53.99 575.21,53.92 575.92,53.85 576.64,53.78 577.35,53.7 578.06,53.63 578.77,53.56 579.48,53.49 580.2,53.43 580.91,53.36 581.62,53.29 582.33,53.22 583.04,53.16 583.76,53.09 584.47,53.02 585.18,52.96 585.89,52.9 586.6,52.83 587.32,52.77 588.03,52.71 588.74,52.64 589.45,52.58 590.16,52.52 590.88,52.46 591.59,52.4 592.3,52.34 593.01,52.28 593.72,52.22 594.44,52.17 595.15,52.11 595.86,52.05 596.57,52 597.28,51.94 598,51.88 598.71,51.83 599.42,51.77 600.13,51.72 600.84,51.67 601.56,51.61 602.27,51.56 602.98,51.51 603.69,51.46 604.4,51.41 605.12,51.35 605.83,51.3 606.54,51.25 607.25,51.2 607.96,51.16 608.68,51.11 609.39,51.06 610.1,51.01 610.81,50.96 611.52,50.91 612.24,50.87 612.95,50.82 613.66,50.78 614.37,50.73 615.08,50.68 615.8,50.64 616.51,50.6 617.22,50.55 617.93,50.51 618.65,50.46 619.36,50.42 620.07,50.38 620.78,50.34 621.49,50.29 622.21,50.25 622.92,50.21 623.63,50.17 624.34,50.13 625.05,50.09 625.77,50.05 626.48,50.01 627.19,49.97 627.9,49.93 628.61,49.89 629.33,49.86 630.04,49.82 630.75,49.78 631.46,49.74 632.17,49.71 632.89,49.67 633.6,49.63 634.31,49.6 635.02,49.56 635.73,49.53 636.45,49.49 637.16,49.46 637.87,49.42 638.58,49.39 639.29,49.35 640.01,49.32 640.72,49.29 641.43,49.25 642.14,49.22 642.85,49.19 643.57,49.15 644.28,49.12 644.99,49.09 645.7,49.06 646.41,49.03 647.13,49 647.84,48.97 648.55,48.94 649.26,48.91 649.97,48.88 650.69,48.85 651.4,48.82 652.11,48.79 652.82,48.76 653.53,48.73 654.25,48.7 654.96,48.67 655.67,48.65 656.38,48.62 657.09,48.59 657.81,48.56 658.52,48.54 659.23,48.51 659.94,48.48 660.65,48.46 661.37,48.43 662.08,48.41 662.79,48.38 663.5,48.35 664.22,48.33 664.93,48.3 665.64,48.28 666.35,48.26 667.06,48.23 667.78,48.21 668.49,48.18 669.2,48.16 669.91,48.14 670.62,48.11 671.34,48.09 672.05,48.07 672.76,48.05 673.47,48.02 674.18,48 674.9,47.98 675.61,47.96 676.32,47.94 677.03,47.91 677.74,47.89 678.46,47.87 679.17,47.85 679.88,47.83 680.59,47.81 681.3,47.79 682.02,47.77 682.73,47.75 683.44,47.73 684.15,47.71 684.86,47.69 685.58,47.67 686.29,47.65 687,47.64" fill="none" stroke="#1a9a5c" stroke-width="1.0" stroke-linejoin="round"/>
<polyline points="402.9,217.4 403.61,214.37 404.32,211.52 405.04,208.82 405.75,206.27 406.46,203.85 407.17,201.55 407.88,199.36 408.6,197.28 409.31,195.29 410.02,193.4 410.73,191.58 411.44,189.84 412.16,188.18 412.87,186.58 413.58,185.05 414.29,183.57 415,182.15 415.72,180.78 416.43,179.46 417.14,178.19 417.85,176.96 418.56,175.77 419.28,174.63 419.99,173.51 420.7,172.44 421.41,171.39 422.12,170.38 422.84,169.4 423.55,168.44 424.26,167.52 424.97,166.62 425.68,165.74 426.4,164.89 427.11,164.05 427.82,163.24 428.53,162.46 429.25,161.69 429.96,160.93 430.67,160.2 431.38,159.48 432.09,158.78 432.81,158.1 433.52,157.43 434.23,156.78 434.94,156.13 435.65,155.51 436.37,154.89 437.08,154.29 437.79,153.7 438.5,153.12 439.21,152.55 439.93,152 440.64,151.45 441.35,150.91 442.06,150.39 442.77,149.87 443.49,149.36 444.2,148.86 444.91,148.37 445.62,147.88 446.33,147.41 447.05,146.94 447.76,146.48 448.47,146.03 449.18,145.58 449.89,145.14 450.61,144.71 451.32,144.28 452.03,143.86 452.74,143.44 453.45,143.03 454.17,142.63 454.88,142.23 455.59,141.84 456.3,141.45 457.01,141.06 457.73,140.69 458.44,140.31 459.15,139.94 459.86,139.58 460.57,139.22 461.29,138.86 462,138.51 462.71,138.16 463.42,137.82 464.13,137.48 464.85,137.14 465.56,136.81 466.27,136.48 466.98,136.16 467.69,135.83 468.41,135.51 469.12,135.2 469.83,134.89 470.54,134.58 471.25,134.27 471.97,133.96 472.68,133.66 473.39,133.37 474.1,133.07 474.82,132.78 475.53,132.49 476.24,132.2 476.95,131.91 477.66,131.63 478.38,131.35 479.09,131.07 479.8,130.8 480.51,130.52 481.22,130.25 481.94,129.98 482.65,129.71 483.36,129.45 484.07,129.19 484.78,128.92 485.5,128.66 486.21,128.41 486.92,128.15 487.63,127.9 488.34,127.65 489.06,127.4 489.77,127.15 490.48,126.9 491.19,126.65 491.9,126.41 492.62,126.17 493.33,125.93 494.04,125.69 494.75,125.45 495.46,125.22 496.18,124.98 496.89,124.75 497.6,124.52 498.31,124.28 499.02,124.06 499.74,123.83 500.45,123.6 501.16,123.38 501.87,123.15 502.58,122.93 503.3,122.71 504.01,122.49 504.72,122.27 505.43,122.05 506.14,121.83 506.86,121.62 507.57,121.4 508.28,121.19 508.99,120.97 509.7,120.76 510.42,120.55 511.13,120.34 511.84,120.13 512.55,119.93 513.26,119.72 513.98,119.51 514.69,119.31 515.4,119.1 516.11,118.9 516.82,118.7 517.54,118.5 518.25,118.3 518.96,118.1 519.67,117.9 520.38,117.7 521.1,117.5 521.81,117.3 522.52,117.11 523.23,116.91 523.95,116.72 524.66,116.53 525.37,116.33 526.08,116.14 526.79,115.95 527.51,115.76 528.22,115.57 528.93,115.38 529.64,115.19 530.35,115 531.07,114.81 531.78,114.63 532.49,114.44 533.2,114.26 533.91,114.07 534.63,113.89 535.34,113.7 536.05,113.52 536.76,113.34 537.47,113.16 538.19,112.97 538.9,112.79 539.61,112.61 540.32,112.43 541.03,112.25 541.75,112.07 542.46,111.9 543.17,111.72 543.88,111.54 544.59,111.37 545.31,111.19 546.02,111.01 546.73,110.84 547.44,110.66 548.15,110.49 548.87,110.32 549.58,110.14 550.29,109.97 551,109.8 551.71,109.62 552.43,109.45 553.14,109.28 553.85,109.11 554.56,108.94 555.27,108.77 555.99,108.6 556.7,108.43 557.41,108.26 558.12,108.1 558.83,107.93 559.55,107.76 560.26,107.59 560.97,107.43 561.68,107.26 562.39,107.09 563.11,106.93 563.82,106.76 564.53,106.6 565.24,106.43 565.95,106.27 566.67,106.11 567.38,105.94 568.09,105.78 568.8,105.62 569.52,105.45 570.23,105.29 570.94,105.13 571.65,104.97 572.36,104.81 573.08,104.65 573.79,104.48 574.5,104.32 575.21,104.16 575.92,104 576.64,103.84 577.35,103.69 578.06,103.53 578.77,103.37 579.48,103.21 580.2,103.05 580.91,102.89 581.62,102.74 582.33,102.58 583.04,102.42 583.76,102.27 584.47,102.11 585.18,101.95 585.89,101.8 586.6,101.64 587.32,101.49 588.03,101.33 588.74,101.18 589.45,101.02 590.16,100.87 590.88,100.71 591.59,100.56 592.3,100.4 593.01,100.25 593.72,100.1 594.44,99.94 595.15,99.79 595.86,99.64 596.57,99.49 597.28,99.33 598,99.18 598.71,99.03 599.42,98.88 600.13,98.73 600.84,98.58 601.56,98.43 602.27,98.28 602.98,98.12 603.69,97.97 604.4,97.82 605.12,97.67 605.83,97.52 606.54,97.37 607.25,97.23 607.96,97.08 608.68,96.93 609.39,96.78 610.1,96.63 610.81,96.48 611.52,96.33 612.24,96.19 612.95,96.04 613.66,95.89 614.37,95.74 615.08,95.59 615.8,95.45 616.51,95.3 617.22,95.15 617.93,95.01 618.65,94.86 619.36,94.71 620.07,94.57 620.78,94.42 621.49,94.28 622.21,94.13 622.92,93.98 623.63,93.84 624.34,93.69 625.05,93.55 625.77,93.4 626.48,93.26 627.19,93.11 627.9,92.97 628.61,92.82 629.33,92.68 630.04,92.54 630.75,92.39 631.46,92.25 632.17,92.1 632.89,91.96 633.6,91.82 634.31,91.67 635.02,91.53 635.73,91.39 636.45,91.24 637.16,91.1 637.87,90.96 638.58,90.82 639.29,90.67 640.01,90.53 640.72,90.39 641.43,90.25 642.14,90.11 642.85,89.96 643.57,89.82 644.28,89.68 644.99,89.54 645.7,89.4 646.41,89.26 647.13,89.12 647.84,88.97 648.55,88.83 649.26,88.69 649.97,88.55 650.69,88.41 651.4,88.27 652.11,88.13 652.82,87.99 653.53,87.85 654.25,87.71 654.96,87.57 655.67,87.43 656.38,87.29 657.09,87.15 657.81,87.01 658.52,86.87 659.23,86.73 659.94,86.6 660.65,86.46 661.37,86.32 662.08,86.18 662.79,86.04 663.5,85.9 664.22,85.76 664.93,85.62 665.64,85.49 666.35,85.35 667.06,85.21 667.78,85.07 668.49,84.93 669.2,84.8 669.91,84.66 670.62,84.52 671.34,84.38 672.05,84.25 672.76,84.11 673.47,83.97 674.18,83.83 674.9,83.7 675.61,83.56 676.32,83.42 677.03,83.28 677.74,83.15 678.46,83.01 679.17,82.87 679.88,82.74 680.59,82.6 681.3,82.47 682.02,82.33 682.73,82.19 683.44,82.06 684.15,81.92 684.86,81.78 685.58,81.65 686.29,81.51 687,81.38" fill="none" stroke="#e4573c" stroke-width="1.0" stroke-linejoin="round"/>
<polyline points="402.9,217.4 403.61,214.62 404.32,212 405.04,209.53 405.75,207.21 406.46,205.02 407.17,202.94 407.88,200.97 408.6,199.1 409.31,197.33 410.02,195.64 410.73,194.03 411.44,192.49 412.16,191.03 412.87,189.62 413.58,188.28 414.29,187 415,185.77 415.72,184.59 416.43,183.45 417.14,182.36 417.85,181.31 418.56,180.3 419.28,179.32 419.99,178.39 420.7,177.48 421.41,176.61 422.12,175.76 422.84,174.94 423.55,174.15 424.26,173.39 424.97,172.65 425.68,171.93 426.4,171.24 427.11,170.56 427.82,169.91 428.53,169.27 429.25,168.66 429.96,168.06 430.67,167.47 431.38,166.91 432.09,166.36 432.81,165.82 433.52,165.3 434.23,164.79 434.94,164.29 435.65,163.81 436.37,163.34 437.08,162.88 437.79,162.43 438.5,161.99 439.21,161.56 439.93,161.15 440.64,160.74 441.35,160.34 442.06,159.95 442.77,159.57 443.49,159.19 444.2,158.83 444.91,158.47 445.62,158.12 446.33,157.78 447.05,157.45 447.76,157.12 448.47,156.8 449.18,156.48 449.89,156.17 450.61,155.87 451.32,155.57 452.03,155.28 452.74,154.99 453.45,154.71 454.17,154.44 454.88,154.17 455.59,153.9 456.3,153.64 457.01,153.38 457.73,153.13 458.44,152.88 459.15,152.64 459.86,152.4 460.57,152.17 461.29,151.94 462,151.71 462.71,151.48 463.42,151.26 464.13,151.05 464.85,150.84 465.56,150.63 466.27,150.42 466.98,150.22 467.69,150.02 468.41,149.82 469.12,149.62 469.83,149.43 470.54,149.24 471.25,149.06 471.97,148.87 472.68,148.69 473.39,148.52 474.1,148.34 474.82,148.17 475.53,148 476.24,147.83 476.95,147.66 477.66,147.5 478.38,147.34 479.09,147.18 479.8,147.02 480.51,146.86 481.22,146.71 481.94,146.56 482.65,146.41 483.36,146.26 484.07,146.12 484.78,145.97 485.5,145.83 486.21,145.69 486.92,145.55 487.63,145.41 488.34,145.28 489.06,145.14 489.77,145.01 490.48,144.88 491.19,144.75 491.9,144.62 492.62,144.5 493.33,144.37 494.04,144.25 494.75,144.13 495.46,144.01 496.18,143.89 496.89,143.77 497.6,143.65 498.31,143.54 499.02,143.42 499.74,143.31 500.45,143.2 501.16,143.08 501.87,142.97 502.58,142.87 503.3,142.76 504.01,142.65 504.72,142.55 505.43,142.44 506.14,142.34 506.86,142.24 507.57,142.13 508.28,142.03 508.99,141.93 509.7,141.83 510.42,141.74 511.13,141.64 511.84,141.54 512.55,141.45 513.26,141.36 513.98,141.26 514.69,141.17 515.4,141.08 516.11,140.99 516.82,140.9 517.54,140.81 518.25,140.72 518.96,140.63 519.67,140.55 520.38,140.46 521.1,140.37 521.81,140.29 522.52,140.2 523.23,140.12 523.95,140.04 524.66,139.96 525.37,139.88 526.08,139.79 526.79,139.71 527.51,139.64 528.22,139.56 528.93,139.48 529.64,139.4 530.35,139.32 531.07,139.25 531.78,139.17 532.49,139.1 533.2,139.02 533.91,138.95 534.63,138.87 535.34,138.8 536.05,138.73 536.76,138.66 537.47,138.59 538.19,138.52 538.9,138.45 539.61,138.38 540.32,138.31 541.03,138.24 541.75,138.17 542.46,138.1 543.17,138.03 543.88,137.97 544.59,137.9 545.31,137.83 546.02,137.77 546.73,137.7 547.44,137.64 548.15,137.57 548.87,137.51 549.58,137.45 550.29,137.38 551,137.32 551.71,137.26 552.43,137.2 553.14,137.14 553.85,137.07 554.56,137.01 555.27,136.95 555.99,136.89 556.7,136.83 557.41,136.78 558.12,136.72 558.83,136.66 559.55,136.6 560.26,136.54 560.97,136.48 561.68,136.43 562.39,136.37 563.11,136.31 563.82,136.26 564.53,136.2 565.24,136.15 565.95,136.09 566.67,136.04 567.38,135.98 568.09,135.93 568.8,135.87 569.52,135.82 570.23,135.77 570.94,135.71 571.65,135.66 572.36,135.61 573.08,135.56 573.79,135.5 574.5,135.45 575.21,135.4 575.92,135.35 576.64,135.3 577.35,135.25 578.06,135.2 578.77,135.15 579.48,135.1 580.2,135.05 580.91,135 581.62,134.95 582.33,134.9 583.04,134.85 583.76,134.81 584.47,134.76 585.18,134.71 585.89,134.66 586.6,134.62 587.32,134.57 588.03,134.52 588.74,134.47 589.45,134.43 590.16,134.38 590.88,134.34 591.59,134.29 592.3,134.24 593.01,134.2 593.72,134.15 594.44,134.11 595.15,134.06 595.86,134.02 596.57,133.97 597.28,133.93 598,133.89 598.71,133.84 599.42,133.8 600.13,133.76 600.84,133.71 601.56,133.67 602.27,133.63 602.98,133.58 603.69,133.54 604.4,133.5 605.12,133.46 605.83,133.41 606.54,133.37 607.25,133.33 607.96,133.29 608.68,133.25 609.39,133.21 610.1,133.17 610.81,133.13 611.52,133.09 612.24,133.04 612.95,133 613.66,132.96 614.37,132.92 615.08,132.88 615.8,132.84 616.51,132.81 617.22,132.77 617.93,132.73 618.65,132.69 619.36,132.65 620.07,132.61 620.78,132.57 621.49,132.53 622.21,132.49 622.92,132.46 623.63,132.42 624.34,132.38 625.05,132.34 625.77,132.3 626.48,132.27 627.19,132.23 627.9,132.19 628.61,132.16 629.33,132.12 630.04,132.08 630.75,132.04 631.46,132.01 632.17,131.97 632.89,131.94 633.6,131.9 634.31,131.86 635.02,131.83 635.73,131.79 636.45,131.76 637.16,131.72 637.87,131.68 638.58,131.65 639.29,131.61 640.01,131.58 640.72,131.54 641.43,131.51 642.14,131.47 642.85,131.44 643.57,131.4 644.28,131.37 644.99,131.34 645.7,131.3 646.41,131.27 647.13,131.23 647.84,131.2 648.55,131.17 649.26,131.13 649.97,131.1 650.69,131.06 651.4,131.03 652.11,131 652.82,130.96 653.53,130.93 654.25,130.9 654.96,130.86 655.67,130.83 656.38,130.8 657.09,130.77 657.81,130.73 658.52,130.7 659.23,130.67 659.94,130.64 660.65,130.6 661.37,130.57 662.08,130.54 662.79,130.51 663.5,130.48 664.22,130.44 664.93,130.41 665.64,130.38 666.35,130.35 667.06,130.32 667.78,130.29 668.49,130.26 669.2,130.22 669.91,130.19 670.62,130.16 671.34,130.13 672.05,130.1 672.76,130.07 673.47,130.04 674.18,130.01 674.9,129.98 675.61,129.95 676.32,129.92 677.03,129.89 677.74,129.86 678.46,129.83 679.17,129.8 679.88,129.77 680.59,129.74 681.3,129.71 682.02,129.68 682.73,129.65 683.44,129.62 684.15,129.59 684.86,129.56 685.58,129.53 686.29,129.5 687,129.47" fill="none" stroke="#3a3a96" stroke-width="1.0" stroke-linejoin="round"/>
<g fill="#2c2a80" stroke="#1c1a50" stroke-width="0.5"><circle cx="405.6" cy="208.6" r="2.15"/><circle cx="408.4" cy="201" r="2.15"/><circle cx="413" cy="191.1" r="2.15"/><circle cx="411.5" cy="191.5" r="2.15"/><circle cx="417.5" cy="179.2" r="2.15"/><circle cx="431.6" cy="165.9" r="2.15"/><circle cx="465.4" cy="150.6" r="2.15"/><circle cx="506.9" cy="144.6" r="2.15"/><circle cx="533" cy="138.6" r="2.15"/><circle cx="571.8" cy="134.2" r="2.15"/><circle cx="613.9" cy="132.4" r="2.15"/><circle cx="637" cy="132.9" r="2.15"/></g>
<g fill="#d4503a" stroke="#5a2014" stroke-width="0.55"><circle cx="405.6" cy="208.6" r="2.15"/><circle cx="409.5" cy="196.7" r="2.15"/><circle cx="413.3" cy="185" r="2.15"/><circle cx="422.4" cy="168.7" r="2.15"/><circle cx="428.7" cy="162.9" r="2.15"/><circle cx="441.9" cy="149.5" r="2.15"/><circle cx="468" cy="135.2" r="2.15"/><circle cx="494" cy="125.4" r="2.15"/><circle cx="533" cy="114.3" r="2.15"/><circle cx="571.8" cy="107.3" r="2.15"/><circle cx="597.9" cy="100.2" r="2.15"/><circle cx="637" cy="89.4" r="2.15"/></g>
<path d="M402.9 217.4v-2.7M402.9 8.7v2.7M459.72 217.4v-2.7M459.72 8.7v2.7M516.54 217.4v-2.7M516.54 8.7v2.7M573.36 217.4v-2.7M573.36 8.7v2.7M630.18 217.4v-2.7M630.18 8.7v2.7M687 217.4v-2.7M687 8.7v2.7M431.31 217.4v-1.5M431.31 8.7v1.5M488.13 217.4v-1.5M488.13 8.7v1.5M544.95 217.4v-1.5M544.95 8.7v1.5M601.77 217.4v-1.5M601.77 8.7v1.5M658.59 217.4v-1.5M658.59 8.7v1.5M402.9 217.4h2.7M687 217.4h-2.7M402.9 191.31h2.7M687 191.31h-2.7M402.9 165.22h2.7M687 165.22h-2.7M402.9 139.14h2.7M687 139.14h-2.7M402.9 113.05h2.7M687 113.05h-2.7M402.9 86.96h2.7M687 86.96h-2.7M402.9 60.88h2.7M687 60.88h-2.7M402.9 34.79h2.7M687 34.79h-2.7M402.9 8.7h2.7M687 8.7h-2.7M402.9 204.36h1.5M687 204.36h-1.5M402.9 178.27h1.5M687 178.27h-1.5M402.9 152.18h1.5M687 152.18h-1.5M402.9 126.09h1.5M687 126.09h-1.5M402.9 100.01h1.5M687 100.01h-1.5M402.9 73.92h1.5M687 73.92h-1.5M402.9 47.83h1.5M687 47.83h-1.5M402.9 21.74h1.5M687 21.74h-1.5" stroke="#3a3a3a" stroke-width="1" fill="none"/>
<rect x="402.9" y="8.7" width="284.1" height="208.7" stroke="#3a3a3a" stroke-width="1.0" fill="none"/>
<text x="402.9" y="233" font-size="16" text-anchor="middle">0</text>
<text x="459.72" y="233" font-size="16" text-anchor="middle">1</text>
<text x="516.54" y="233" font-size="16" text-anchor="middle">2</text>
<text x="573.36" y="233" font-size="16" text-anchor="middle">3</text>
<text x="630.18" y="233" font-size="16" text-anchor="middle">4</text>
<text x="687" y="233" font-size="16" text-anchor="middle">5</text>
<text x="397.9" y="221.9" font-size="16" text-anchor="end">0</text>
<text x="397.9" y="195.81" font-size="16" text-anchor="end">100</text>
<text x="397.9" y="169.72" font-size="16" text-anchor="end">200</text>
<text x="397.9" y="143.64" font-size="16" text-anchor="end">300</text>
<text x="397.9" y="117.55" font-size="16" text-anchor="end">400</text>
<text x="397.9" y="91.46" font-size="16" text-anchor="end">500</text>
<text x="397.9" y="65.38" font-size="16" text-anchor="end">600</text>
<text x="397.9" y="39.29" font-size="16" text-anchor="end">700</text>
<text x="397.9" y="13.2" font-size="16" text-anchor="end">800</text>
<text x="547.6" y="252.5" font-size="16.3" text-anchor="middle">Power (mW)</text>
<text x="362" y="112.4" font-size="16.2" text-anchor="middle" transform="rotate(-90 362 112.4)">Photon count rate (kcps)</text>
<text x="348.5" y="12.6" font-size="16" font-weight="bold">b</text>
<rect x="504.3" y="151.4" width="176.1" height="59.9" fill="#fff" stroke="#444" stroke-width="1"/>
<line x1="512" y1="161.6" x2="532" y2="161.6" stroke="#2e2c8c" stroke-width="2"/>
<line x1="512" y1="180.5" x2="532" y2="180.5" stroke="#e4573c" stroke-width="2"/>
<line x1="512" y1="198.8" x2="532" y2="198.8" stroke="#1a9a5c" stroke-width="2"/>
<text x="541.2" y="165.7" font-size="14.3">Left collection</text>
<text x="541.2" y="183.3" font-size="14.3">Right collection</text>
<text x="541.2" y="203.7" font-size="14.3">Combined collection</text>
<polyline points="754.6,217.4 755.31,215.15 756.02,213.02 756.74,210.99 757.45,209.05 758.16,207.2 758.87,205.43 759.59,203.73 760.3,202.11 761.01,200.56 761.72,199.06 762.44,197.62 763.15,196.24 763.86,194.91 764.57,193.63 765.28,192.39 766,191.19 766.71,190.04 767.42,188.92 768.13,187.83 768.85,186.79 769.56,185.77 770.27,184.78 770.98,183.83 771.69,182.9 772.41,182 773.12,181.12 773.83,180.26 774.54,179.43 775.26,178.62 775.97,177.83 776.68,177.06 777.39,176.31 778.11,175.58 778.82,174.86 779.53,174.16 780.24,173.48 780.95,172.81 781.67,172.16 782.38,171.52 783.09,170.89 783.8,170.28 784.52,169.68 785.23,169.09 785.94,168.51 786.65,167.94 787.36,167.39 788.08,166.84 788.79,166.31 789.5,165.78 790.21,165.26 790.93,164.76 791.64,164.26 792.35,163.77 793.06,163.28 793.78,162.81 794.49,162.34 795.2,161.88 795.91,161.43 796.62,160.98 797.34,160.54 798.05,160.11 798.76,159.68 799.47,159.26 800.19,158.85 800.9,158.44 801.61,158.03 802.32,157.64 803.04,157.24 803.75,156.85 804.46,156.47 805.17,156.09 805.88,155.72 806.6,155.35 807.31,154.98 808.02,154.62 808.73,154.27 809.45,153.91 810.16,153.57 810.87,153.22 811.58,152.88 812.29,152.54 813.01,152.21 813.72,151.88 814.43,151.55 815.14,151.23 815.86,150.91 816.57,150.59 817.28,150.28 817.99,149.97 818.71,149.66 819.42,149.35 820.13,149.05 820.84,148.75 821.55,148.45 822.27,148.16 822.98,147.86 823.69,147.57 824.4,147.29 825.12,147 825.83,146.72 826.54,146.44 827.25,146.16 827.96,145.89 828.68,145.61 829.39,145.34 830.1,145.07 830.81,144.8 831.53,144.54 832.24,144.27 832.95,144.01 833.66,143.75 834.38,143.49 835.09,143.24 835.8,142.98 836.51,142.73 837.22,142.48 837.94,142.23 838.65,141.98 839.36,141.73 840.07,141.49 840.79,141.24 841.5,141 842.21,140.76 842.92,140.52 843.64,140.28 844.35,140.05 845.06,139.81 845.77,139.58 846.48,139.34 847.2,139.11 847.91,138.88 848.62,138.65 849.33,138.43 850.05,138.2 850.76,137.97 851.47,137.75 852.18,137.53 852.89,137.3 853.61,137.08 854.32,136.86 855.03,136.64 855.74,136.43 856.46,136.21 857.17,135.99 857.88,135.78 858.59,135.57 859.31,135.35 860.02,135.14 860.73,134.93 861.44,134.72 862.15,134.51 862.87,134.3 863.58,134.09 864.29,133.89 865,133.68 865.72,133.48 866.43,133.27 867.14,133.07 867.85,132.87 868.56,132.67 869.28,132.46 869.99,132.26 870.7,132.06 871.41,131.87 872.13,131.67 872.84,131.47 873.55,131.27 874.26,131.08 874.98,130.88 875.69,130.69 876.4,130.49 877.11,130.3 877.82,130.11 878.54,129.91 879.25,129.72 879.96,129.53 880.67,129.34 881.39,129.15 882.1,128.96 882.81,128.77 883.52,128.58 884.24,128.4 884.95,128.21 885.66,128.02 886.37,127.84 887.08,127.65 887.8,127.47 888.51,127.28 889.22,127.1 889.93,126.92 890.65,126.73 891.36,126.55 892.07,126.37 892.78,126.19 893.49,126.01 894.21,125.83 894.92,125.65 895.63,125.47 896.34,125.29 897.06,125.11 897.77,124.93 898.48,124.75 899.19,124.58 899.91,124.4 900.62,124.22 901.33,124.05 902.04,123.87 902.75,123.7 903.47,123.52 904.18,123.35 904.89,123.17 905.6,123 906.32,122.82 907.03,122.65 907.74,122.48 908.45,122.31 909.16,122.13 909.88,121.96 910.59,121.79 911.3,121.62 912.01,121.45 912.73,121.28 913.44,121.11 914.15,120.94 914.86,120.77 915.58,120.6 916.29,120.43 917,120.27 917.71,120.1 918.42,119.93 919.14,119.76 919.85,119.6 920.56,119.43 921.27,119.26 921.99,119.1 922.7,118.93 923.41,118.77 924.12,118.6 924.84,118.43 925.55,118.27 926.26,118.11 926.97,117.94 927.68,117.78 928.4,117.61 929.11,117.45 929.82,117.29 930.53,117.12 931.25,116.96 931.96,116.8 932.67,116.64 933.38,116.47 934.09,116.31 934.81,116.15 935.52,115.99 936.23,115.83 936.94,115.67 937.66,115.51 938.37,115.35 939.08,115.19 939.79,115.03 940.51,114.87 941.22,114.71 941.93,114.55 942.64,114.39 943.35,114.23 944.07,114.07 944.78,113.92 945.49,113.76 946.2,113.6 946.92,113.44 947.63,113.28 948.34,113.13 949.05,112.97 949.76,112.81 950.48,112.66 951.19,112.5 951.9,112.34 952.61,112.19 953.33,112.03 954.04,111.87 954.75,111.72 955.46,111.56 956.18,111.41 956.89,111.25 957.6,111.1 958.31,110.94 959.02,110.79 959.74,110.63 960.45,110.48 961.16,110.33 961.87,110.17 962.59,110.02 963.3,109.87 964.01,109.71 964.72,109.56 965.44,109.41 966.15,109.25 966.86,109.1 967.57,108.95 968.28,108.79 969,108.64 969.71,108.49 970.42,108.34 971.13,108.19 971.85,108.03 972.56,107.88 973.27,107.73 973.98,107.58 974.69,107.43 975.41,107.28 976.12,107.13 976.83,106.98 977.54,106.83 978.26,106.67 978.97,106.52 979.68,106.37 980.39,106.22 981.11,106.07 981.82,105.92 982.53,105.77 983.24,105.62 983.95,105.48 984.67,105.33 985.38,105.18 986.09,105.03 986.8,104.88 987.52,104.73 988.23,104.58 988.94,104.43 989.65,104.28 990.36,104.14 991.08,103.99 991.79,103.84 992.5,103.69 993.21,103.54 993.93,103.4 994.64,103.25 995.35,103.1 996.06,102.95 996.78,102.81 997.49,102.66 998.2,102.51 998.91,102.36 999.62,102.22 1000.34,102.07 1001.05,101.92 1001.76,101.78 1002.47,101.63 1003.19,101.48 1003.9,101.34 1004.61,101.19 1005.32,101.05 1006.04,100.9 1006.75,100.75 1007.46,100.61 1008.17,100.46 1008.88,100.32 1009.6,100.17 1010.31,100.02 1011.02,99.88 1011.73,99.73 1012.45,99.59 1013.16,99.44 1013.87,99.3 1014.58,99.15 1015.29,99.01 1016.01,98.86 1016.72,98.72 1017.43,98.58 1018.14,98.43 1018.86,98.29 1019.57,98.14 1020.28,98 1020.99,97.85 1021.71,97.71 1022.42,97.57 1023.13,97.42 1023.84,97.28 1024.55,97.13 1025.27,96.99 1025.98,96.85 1026.69,96.7 1027.4,96.56 1028.12,96.42 1028.83,96.27 1029.54,96.13 1030.25,95.99 1030.96,95.84 1031.68,95.7 1032.39,95.56 1033.1,95.42 1033.81,95.27 1034.53,95.13 1035.24,94.99 1035.95,94.84 1036.66,94.7 1037.38,94.56 1038.09,94.42 1038.8,94.28" fill="none" stroke="#22aaaa" stroke-width="1.0" stroke-linejoin="round"/>
<g fill="#2a9a90" stroke="#14403c" stroke-width="0.6"><circle cx="755.9" cy="212.4" r="2.3"/><circle cx="760.7" cy="200.6" r="2.3"/><circle cx="765.5" cy="194" r="2.3"/><circle cx="771.4" cy="183.3" r="2.3"/><circle cx="781.8" cy="172.6" r="2.3"/><circle cx="793.5" cy="160.6" r="2.3"/><circle cx="819.4" cy="151.5" r="2.3"/><circle cx="845.5" cy="140.3" r="2.3"/><circle cx="858.4" cy="130.2" r="2.3"/><circle cx="884.6" cy="126.1" r="2.3"/><circle cx="917.1" cy="125.1" r="2.3"/><circle cx="949.7" cy="114.3" r="2.3"/><circle cx="988.8" cy="101.7" r="2.3"/></g>
<path d="M754.6 217.4v-2.7M754.6 8.7v2.7M811.44 217.4v-2.7M811.44 8.7v2.7M868.28 217.4v-2.7M868.28 8.7v2.7M925.12 217.4v-2.7M925.12 8.7v2.7M981.96 217.4v-2.7M981.96 8.7v2.7M1038.8 217.4v-2.7M1038.8 8.7v2.7M754.6 217.4h2.7M1038.8 217.4h-2.7M754.6 191.31h2.7M1038.8 191.31h-2.7M754.6 165.22h2.7M1038.8 165.22h-2.7M754.6 139.14h2.7M1038.8 139.14h-2.7M754.6 113.05h2.7M1038.8 113.05h-2.7M754.6 86.96h2.7M1038.8 86.96h-2.7M754.6 60.88h2.7M1038.8 60.88h-2.7M754.6 34.79h2.7M1038.8 34.79h-2.7M754.6 8.7h2.7M1038.8 8.7h-2.7" stroke="#3a3a3a" stroke-width="1" fill="none"/>
<rect x="754.6" y="8.7" width="284.2" height="208.7" stroke="#3a3a3a" stroke-width="1.0" fill="none"/>
<text x="754.6" y="233" font-size="16" text-anchor="middle">0</text>
<text x="811.44" y="233" font-size="16" text-anchor="middle">1</text>
<text x="868.28" y="233" font-size="16" text-anchor="middle">2</text>
<text x="925.12" y="233" font-size="16" text-anchor="middle">3</text>
<text x="981.96" y="233" font-size="16" text-anchor="middle">4</text>
<text x="1038.8" y="233" font-size="16" text-anchor="middle">5</text>
<text x="749.6" y="221.9" font-size="16" text-anchor="end">0</text>
<text x="749.6" y="195.81" font-size="16" text-anchor="end">5</text>
<text x="749.6" y="169.72" font-size="16" text-anchor="end">10</text>
<text x="749.6" y="143.64" font-size="16" text-anchor="end">15</text>
<text x="749.6" y="117.55" font-size="16" text-anchor="end">20</text>
<text x="749.6" y="91.46" font-size="16" text-anchor="end">25</text>
<text x="749.6" y="65.38" font-size="16" text-anchor="end">30</text>
<text x="749.6" y="39.29" font-size="16" text-anchor="end">35</text>
<text x="749.6" y="13.2" font-size="16" text-anchor="end">40</text>
<text x="900" y="252.5" font-size="16.3" text-anchor="middle">Power (mW)</text>
<text x="720.6" y="114.2" font-size="16.2" text-anchor="middle" transform="rotate(-90 720.6 114.2)">Photon count rate (kcps)</text>
<text x="707.6" y="10.8" font-size="16" font-weight="bold">c</text>
<rect x="860.2" y="188.7" width="172.3" height="22.5" fill="#fff" stroke="#444" stroke-width="1"/>
<line x1="868" y1="198.9" x2="888" y2="198.9" stroke="#1fb0b0" stroke-width="2"/>
<text x="899.5" y="203" font-size="14.3">Objective collection</text>
<g fill="#161616"><circle cx="51.5" cy="329.31" r="1.5"/><circle cx="51.69" cy="326.85" r="1.5"/><circle cx="51.88" cy="331.61" r="1.5"/><circle cx="52.07" cy="336.73" r="1.5"/><circle cx="52.26" cy="333.12" r="1.5"/><circle cx="52.45" cy="337.59" r="1.5"/><circle cx="52.64" cy="328.87" r="1.5"/><circle cx="52.83" cy="318.26" r="1.5"/><circle cx="53.02" cy="333.47" r="1.5"/><circle cx="53.21" cy="334.55" r="1.5"/><circle cx="53.4" cy="325.35" r="1.5"/><circle cx="53.58" cy="326.46" r="1.5"/><circle cx="53.77" cy="328.56" r="1.5"/><circle cx="53.96" cy="337.17" r="1.5"/><circle cx="54.15" cy="329.71" r="1.5"/><circle cx="54.34" cy="323.71" r="1.5"/><circle cx="54.53" cy="340.64" r="1.5"/><circle cx="54.72" cy="333.3" r="1.5"/><circle cx="54.91" cy="345.3" r="1.5"/><circle cx="55.1" cy="340.24" r="1.5"/><circle cx="55.29" cy="344.84" r="1.5"/><circle cx="55.48" cy="331.53" r="1.5"/><circle cx="55.67" cy="340.11" r="1.5"/><circle cx="55.86" cy="327.37" r="1.5"/><circle cx="56.05" cy="328.34" r="1.5"/><circle cx="56.24" cy="331.21" r="1.5"/><circle cx="56.43" cy="350.55" r="1.5"/><circle cx="56.62" cy="334.17" r="1.5"/><circle cx="56.81" cy="330.13" r="1.5"/><circle cx="57" cy="328.82" r="1.5"/><circle cx="57.19" cy="342.47" r="1.5"/><circle cx="57.38" cy="333.77" r="1.5"/><circle cx="57.56" cy="337.95" r="1.5"/><circle cx="57.75" cy="336.57" r="1.5"/><circle cx="57.94" cy="321.1" r="1.5"/><circle cx="58.13" cy="336.62" r="1.5"/><circle cx="58.32" cy="330.23" r="1.5"/><circle cx="58.51" cy="322.67" r="1.5"/><circle cx="58.7" cy="334.86" r="1.5"/><circle cx="58.89" cy="330.99" r="1.5"/><circle cx="59.08" cy="329.19" r="1.5"/><circle cx="59.27" cy="329.61" r="1.5"/><circle cx="59.46" cy="340.33" r="1.5"/><circle cx="59.65" cy="329.59" r="1.5"/><circle cx="59.84" cy="319.02" r="1.5"/><circle cx="60.03" cy="343.12" r="1.5"/><circle cx="60.22" cy="323.24" r="1.5"/><circle cx="60.41" cy="329.42" r="1.5"/><circle cx="60.6" cy="335.77" r="1.5"/><circle cx="60.79" cy="313.95" r="1.5"/><circle cx="60.98" cy="324.25" r="1.5"/><circle cx="61.17" cy="340.54" r="1.5"/><circle cx="61.36" cy="330.05" r="1.5"/><circle cx="61.54" cy="325.96" r="1.5"/><circle cx="61.73" cy="332.35" r="1.5"/><circle cx="61.92" cy="325.2" r="1.5"/><circle cx="62.11" cy="331.46" r="1.5"/><circle cx="62.3" cy="325.46" r="1.5"/><circle cx="62.49" cy="319.15" r="1.5"/><circle cx="62.68" cy="336.7" r="1.5"/><circle cx="62.87" cy="329.51" r="1.5"/><circle cx="63.06" cy="335.09" r="1.5"/><circle cx="63.25" cy="330.29" r="1.5"/><circle cx="63.44" cy="341.22" r="1.5"/><circle cx="63.63" cy="336.28" r="1.5"/><circle cx="63.82" cy="333.2" r="1.5"/><circle cx="64.01" cy="324.25" r="1.5"/><circle cx="64.2" cy="322.3" r="1.5"/><circle cx="64.39" cy="342.77" r="1.5"/><circle cx="64.58" cy="338.49" r="1.5"/><circle cx="64.77" cy="326.7" r="1.5"/><circle cx="64.96" cy="348.56" r="1.5"/><circle cx="65.15" cy="336.05" r="1.5"/><circle cx="65.34" cy="333.14" r="1.5"/><circle cx="65.52" cy="322.08" r="1.5"/><circle cx="65.71" cy="326.86" r="1.5"/><circle cx="65.9" cy="335.35" r="1.5"/><circle cx="66.09" cy="335.81" r="1.5"/><circle cx="66.28" cy="334.95" r="1.5"/><circle cx="66.47" cy="320.46" r="1.5"/><circle cx="66.66" cy="336.65" r="1.5"/><circle cx="66.85" cy="335.75" r="1.5"/><circle cx="67.04" cy="330.48" r="1.5"/><circle cx="67.23" cy="334.5" r="1.5"/><circle cx="67.42" cy="335.26" r="1.5"/><circle cx="67.61" cy="342.94" r="1.5"/><circle cx="67.8" cy="334.01" r="1.5"/><circle cx="67.99" cy="337.7" r="1.5"/><circle cx="68.18" cy="324.62" r="1.5"/><circle cx="68.37" cy="328.98" r="1.5"/><circle cx="68.56" cy="334.69" r="1.5"/><circle cx="68.75" cy="329.16" r="1.5"/><circle cx="68.94" cy="337.59" r="1.5"/><circle cx="69.13" cy="312.8" r="1.5"/><circle cx="69.32" cy="335.16" r="1.5"/><circle cx="69.51" cy="330.5" r="1.5"/><circle cx="69.69" cy="346.02" r="1.5"/><circle cx="69.88" cy="332.77" r="1.5"/><circle cx="70.07" cy="349.61" r="1.5"/><circle cx="70.26" cy="352.62" r="1.5"/><circle cx="70.45" cy="338.63" r="1.5"/><circle cx="70.64" cy="343.67" r="1.5"/><circle cx="70.83" cy="335.15" r="1.5"/><circle cx="71.02" cy="318.33" r="1.5"/><circle cx="71.21" cy="343.66" r="1.5"/><circle cx="71.4" cy="342.15" r="1.5"/><circle cx="71.59" cy="335.56" r="1.5"/><circle cx="71.78" cy="333.41" r="1.5"/><circle cx="71.97" cy="339.07" r="1.5"/><circle cx="72.16" cy="339.5" r="1.5"/><circle cx="72.35" cy="332.3" r="1.5"/><circle cx="72.54" cy="333.99" r="1.5"/><circle cx="72.73" cy="346.84" r="1.5"/><circle cx="72.92" cy="339.28" r="1.5"/><circle cx="73.11" cy="338.56" r="1.5"/><circle cx="73.3" cy="347.62" r="1.5"/><circle cx="73.49" cy="337.15" r="1.5"/><circle cx="73.67" cy="346.44" r="1.5"/><circle cx="73.86" cy="331.8" r="1.5"/><circle cx="74.05" cy="338.4" r="1.5"/><circle cx="74.24" cy="339.4" r="1.5"/><circle cx="74.43" cy="345.14" r="1.5"/><circle cx="74.62" cy="341.53" r="1.5"/><circle cx="74.81" cy="356.96" r="1.5"/><circle cx="75" cy="350.17" r="1.5"/><circle cx="75.19" cy="338.31" r="1.5"/><circle cx="75.38" cy="358.67" r="1.5"/><circle cx="75.57" cy="334.87" r="1.5"/><circle cx="75.76" cy="356.02" r="1.5"/><circle cx="75.95" cy="336.07" r="1.5"/><circle cx="76.14" cy="349.22" r="1.5"/><circle cx="76.33" cy="336.37" r="1.5"/><circle cx="76.52" cy="341.83" r="1.5"/><circle cx="76.71" cy="355.48" r="1.5"/><circle cx="76.9" cy="333.33" r="1.5"/><circle cx="77.09" cy="332.04" r="1.5"/><circle cx="77.28" cy="344.38" r="1.5"/><circle cx="77.47" cy="346.3" r="1.5"/><circle cx="77.65" cy="345.63" r="1.5"/><circle cx="77.84" cy="352.4" r="1.5"/><circle cx="78.03" cy="336.07" r="1.5"/><circle cx="78.22" cy="349.45" r="1.5"/><circle cx="78.41" cy="345.78" r="1.5"/><circle cx="78.6" cy="351.95" r="1.5"/><circle cx="78.79" cy="350.88" r="1.5"/><circle cx="78.98" cy="356.32" r="1.5"/><circle cx="79.17" cy="336.43" r="1.5"/><circle cx="79.36" cy="348.9" r="1.5"/><circle cx="79.55" cy="339.3" r="1.5"/><circle cx="79.74" cy="347.13" r="1.5"/><circle cx="79.93" cy="353.01" r="1.5"/><circle cx="80.12" cy="350.38" r="1.5"/><circle cx="80.31" cy="352.5" r="1.5"/><circle cx="80.5" cy="348.3" r="1.5"/><circle cx="80.69" cy="351.61" r="1.5"/><circle cx="80.88" cy="351.31" r="1.5"/><circle cx="81.07" cy="360.09" r="1.5"/><circle cx="81.26" cy="355.89" r="1.5"/><circle cx="81.45" cy="336.89" r="1.5"/><circle cx="81.63" cy="355.42" r="1.5"/><circle cx="81.82" cy="358.73" r="1.5"/><circle cx="82.01" cy="348.17" r="1.5"/><circle cx="82.2" cy="340.15" r="1.5"/><circle cx="82.39" cy="362.78" r="1.5"/><circle cx="82.58" cy="353.42" r="1.5"/><circle cx="82.77" cy="357.04" r="1.5"/><circle cx="82.96" cy="366.14" r="1.5"/><circle cx="83.15" cy="347.15" r="1.5"/><circle cx="83.34" cy="353.38" r="1.5"/><circle cx="83.53" cy="353.01" r="1.5"/><circle cx="83.72" cy="359.73" r="1.5"/><circle cx="83.91" cy="350.81" r="1.5"/><circle cx="84.1" cy="358.84" r="1.5"/><circle cx="84.29" cy="356.19" r="1.5"/><circle cx="84.48" cy="363.98" r="1.5"/><circle cx="84.67" cy="365.19" r="1.5"/><circle cx="84.86" cy="346.14" r="1.5"/><circle cx="85.05" cy="360.61" r="1.5"/><circle cx="85.24" cy="354.97" r="1.5"/><circle cx="85.43" cy="357.89" r="1.5"/><circle cx="85.61" cy="361.42" r="1.5"/><circle cx="85.8" cy="362.38" r="1.5"/><circle cx="85.99" cy="354.28" r="1.5"/><circle cx="86.18" cy="361.77" r="1.5"/><circle cx="86.37" cy="361.13" r="1.5"/><circle cx="86.56" cy="360.34" r="1.5"/><circle cx="86.75" cy="352.24" r="1.5"/><circle cx="86.94" cy="356.48" r="1.5"/><circle cx="87.13" cy="359.24" r="1.5"/><circle cx="87.32" cy="366.81" r="1.5"/><circle cx="87.51" cy="373.4" r="1.5"/><circle cx="87.7" cy="356.78" r="1.5"/><circle cx="87.89" cy="357.26" r="1.5"/><circle cx="88.08" cy="365.99" r="1.5"/><circle cx="88.27" cy="361.61" r="1.5"/><circle cx="88.46" cy="360.51" r="1.5"/><circle cx="88.65" cy="360.8" r="1.5"/><circle cx="88.84" cy="360.82" r="1.5"/><circle cx="89.03" cy="371.45" r="1.5"/><circle cx="89.22" cy="357.95" r="1.5"/><circle cx="89.41" cy="378.48" r="1.5"/><circle cx="89.59" cy="364.1" r="1.5"/><circle cx="89.78" cy="367.47" r="1.5"/><circle cx="89.97" cy="365.54" r="1.5"/><circle cx="90.16" cy="359.22" r="1.5"/><circle cx="90.35" cy="362.83" r="1.5"/><circle cx="90.54" cy="382.09" r="1.5"/><circle cx="90.73" cy="386.67" r="1.5"/><circle cx="90.92" cy="370.03" r="1.5"/><circle cx="91.11" cy="383.58" r="1.5"/><circle cx="91.3" cy="377.51" r="1.5"/><circle cx="91.49" cy="372.54" r="1.5"/><circle cx="91.68" cy="390.43" r="1.5"/><circle cx="91.87" cy="394.47" r="1.5"/><circle cx="92.06" cy="379.31" r="1.5"/><circle cx="92.25" cy="381.73" r="1.5"/><circle cx="92.44" cy="384.65" r="1.5"/><circle cx="92.63" cy="383.75" r="1.5"/><circle cx="92.82" cy="390.72" r="1.5"/><circle cx="93.01" cy="396.03" r="1.5"/><circle cx="93.2" cy="388.22" r="1.5"/><circle cx="93.39" cy="394.54" r="1.5"/><circle cx="93.57" cy="399.95" r="1.5"/><circle cx="93.76" cy="387.19" r="1.5"/><circle cx="93.95" cy="391.98" r="1.5"/><circle cx="94.14" cy="390.18" r="1.5"/><circle cx="94.33" cy="400.19" r="1.5"/><circle cx="94.52" cy="399.29" r="1.5"/><circle cx="94.71" cy="402.62" r="1.5"/><circle cx="94.9" cy="403.15" r="1.5"/><circle cx="95.09" cy="397.78" r="1.5"/><circle cx="95.28" cy="405.03" r="1.5"/><circle cx="95.47" cy="399.49" r="1.5"/><circle cx="95.66" cy="400.97" r="1.5"/><circle cx="95.85" cy="392.43" r="1.5"/><circle cx="96.04" cy="413.94" r="1.5"/><circle cx="96.23" cy="402.1" r="1.5"/><circle cx="96.42" cy="409.22" r="1.5"/><circle cx="96.61" cy="410.28" r="1.5"/><circle cx="96.8" cy="419.85" r="1.5"/><circle cx="96.99" cy="415.82" r="1.5"/><circle cx="97.18" cy="410.77" r="1.5"/><circle cx="97.37" cy="416.88" r="1.5"/><circle cx="97.55" cy="417.63" r="1.5"/><circle cx="97.74" cy="421.25" r="1.5"/><circle cx="97.93" cy="415.39" r="1.5"/><circle cx="98.12" cy="423.21" r="1.5"/><circle cx="98.31" cy="435.92" r="1.5"/><circle cx="98.5" cy="430.01" r="1.5"/><circle cx="98.69" cy="437.96" r="1.5"/><circle cx="98.88" cy="445.74" r="1.5"/><circle cx="99.07" cy="434.47" r="1.5"/><circle cx="99.26" cy="427.65" r="1.5"/><circle cx="99.45" cy="435.45" r="1.5"/><circle cx="99.64" cy="442.72" r="1.5"/><circle cx="99.83" cy="443.47" r="1.5"/><circle cx="100.02" cy="436.49" r="1.5"/><circle cx="100.21" cy="442.49" r="1.5"/><circle cx="100.4" cy="444.81" r="1.5"/><circle cx="100.59" cy="447.04" r="1.5"/><circle cx="100.78" cy="448.47" r="1.5"/><circle cx="100.97" cy="447.36" r="1.5"/><circle cx="101.16" cy="450" r="1.5"/><circle cx="101.35" cy="452.76" r="1.5"/><circle cx="101.53" cy="458.44" r="1.5"/><circle cx="101.72" cy="464.82" r="1.5"/><circle cx="101.91" cy="459.18" r="1.5"/><circle cx="102.1" cy="454" r="1.5"/><circle cx="102.29" cy="461.88" r="1.5"/><circle cx="102.48" cy="458.14" r="1.5"/><circle cx="102.67" cy="457.26" r="1.5"/><circle cx="102.86" cy="460.84" r="1.5"/><circle cx="103.05" cy="449.57" r="1.5"/><circle cx="103.24" cy="449.04" r="1.5"/><circle cx="103.43" cy="454.3" r="1.5"/><circle cx="103.62" cy="448.22" r="1.5"/><circle cx="103.81" cy="447.93" r="1.5"/><circle cx="104" cy="461.88" r="1.5"/><circle cx="104.19" cy="444.77" r="1.5"/><circle cx="104.38" cy="444.18" r="1.5"/><circle cx="104.57" cy="441.71" r="1.5"/><circle cx="104.76" cy="444.81" r="1.5"/><circle cx="104.95" cy="439.5" r="1.5"/><circle cx="105.14" cy="437.25" r="1.5"/><circle cx="105.33" cy="414.63" r="1.5"/><circle cx="105.52" cy="431.18" r="1.5"/><circle cx="105.7" cy="430.95" r="1.5"/><circle cx="105.89" cy="421.71" r="1.5"/><circle cx="106.08" cy="430.07" r="1.5"/><circle cx="106.27" cy="427.52" r="1.5"/><circle cx="106.46" cy="433.08" r="1.5"/><circle cx="106.65" cy="414.02" r="1.5"/><circle cx="106.84" cy="415.38" r="1.5"/><circle cx="107.03" cy="413.9" r="1.5"/><circle cx="107.22" cy="413.54" r="1.5"/><circle cx="107.41" cy="414.93" r="1.5"/><circle cx="107.6" cy="412.76" r="1.5"/><circle cx="107.79" cy="413.8" r="1.5"/><circle cx="107.98" cy="412.02" r="1.5"/><circle cx="108.17" cy="419.01" r="1.5"/><circle cx="108.36" cy="399.17" r="1.5"/><circle cx="108.55" cy="403.2" r="1.5"/><circle cx="108.74" cy="405.36" r="1.5"/><circle cx="108.93" cy="407.06" r="1.5"/><circle cx="109.12" cy="406.05" r="1.5"/><circle cx="109.31" cy="391.22" r="1.5"/><circle cx="109.5" cy="396.49" r="1.5"/><circle cx="109.68" cy="397.86" r="1.5"/><circle cx="109.87" cy="399.15" r="1.5"/><circle cx="110.06" cy="402.67" r="1.5"/><circle cx="110.25" cy="394.95" r="1.5"/><circle cx="110.44" cy="387.8" r="1.5"/><circle cx="110.63" cy="394.65" r="1.5"/><circle cx="110.82" cy="392.45" r="1.5"/><circle cx="111.01" cy="391.29" r="1.5"/><circle cx="111.2" cy="388.04" r="1.5"/><circle cx="111.39" cy="398.07" r="1.5"/><circle cx="111.58" cy="388.14" r="1.5"/><circle cx="111.77" cy="391.19" r="1.5"/><circle cx="111.96" cy="378.64" r="1.5"/><circle cx="112.15" cy="388.67" r="1.5"/><circle cx="112.34" cy="378.66" r="1.5"/><circle cx="112.53" cy="371.28" r="1.5"/><circle cx="112.72" cy="382.75" r="1.5"/><circle cx="112.91" cy="383.8" r="1.5"/><circle cx="113.1" cy="377.48" r="1.5"/><circle cx="113.29" cy="377.92" r="1.5"/><circle cx="113.48" cy="383.9" r="1.5"/><circle cx="113.66" cy="372.98" r="1.5"/><circle cx="113.85" cy="361.3" r="1.5"/><circle cx="114.04" cy="376.34" r="1.5"/><circle cx="114.23" cy="375.16" r="1.5"/><circle cx="114.42" cy="380.32" r="1.5"/><circle cx="114.61" cy="369.93" r="1.5"/><circle cx="114.8" cy="380.3" r="1.5"/><circle cx="114.99" cy="378.6" r="1.5"/><circle cx="115.18" cy="360.83" r="1.5"/><circle cx="115.37" cy="375.78" r="1.5"/><circle cx="115.56" cy="360.8" r="1.5"/><circle cx="115.75" cy="356.9" r="1.5"/><circle cx="115.94" cy="365.38" r="1.5"/><circle cx="116.13" cy="362.59" r="1.5"/><circle cx="116.32" cy="351.75" r="1.5"/><circle cx="116.51" cy="366.81" r="1.5"/><circle cx="116.7" cy="369.12" r="1.5"/><circle cx="116.89" cy="374.13" r="1.5"/><circle cx="117.08" cy="363.29" r="1.5"/><circle cx="117.27" cy="352.09" r="1.5"/><circle cx="117.46" cy="355.36" r="1.5"/><circle cx="117.64" cy="368.94" r="1.5"/><circle cx="117.83" cy="367.78" r="1.5"/><circle cx="118.02" cy="364.65" r="1.5"/><circle cx="118.21" cy="356.66" r="1.5"/><circle cx="118.4" cy="361.42" r="1.5"/><circle cx="118.59" cy="357.77" r="1.5"/><circle cx="118.78" cy="356.67" r="1.5"/><circle cx="118.97" cy="360.7" r="1.5"/><circle cx="119.16" cy="358.29" r="1.5"/><circle cx="119.35" cy="355.97" r="1.5"/><circle cx="119.54" cy="357.73" r="1.5"/><circle cx="119.73" cy="352.82" r="1.5"/><circle cx="119.92" cy="341.96" r="1.5"/><circle cx="120.11" cy="351.29" r="1.5"/><circle cx="120.3" cy="354.98" r="1.5"/><circle cx="120.49" cy="367.95" r="1.5"/><circle cx="120.68" cy="351.64" r="1.5"/><circle cx="120.87" cy="369.22" r="1.5"/><circle cx="121.06" cy="364.72" r="1.5"/><circle cx="121.25" cy="346.88" r="1.5"/><circle cx="121.44" cy="347.65" r="1.5"/><circle cx="121.62" cy="353.92" r="1.5"/><circle cx="121.81" cy="365.67" r="1.5"/><circle cx="122" cy="354.94" r="1.5"/><circle cx="122.19" cy="356.99" r="1.5"/><circle cx="122.38" cy="346.41" r="1.5"/><circle cx="122.57" cy="333.42" r="1.5"/><circle cx="122.76" cy="349.02" r="1.5"/><circle cx="122.95" cy="356.49" r="1.5"/><circle cx="123.14" cy="359.25" r="1.5"/><circle cx="123.33" cy="350.2" r="1.5"/><circle cx="123.52" cy="350.84" r="1.5"/><circle cx="123.71" cy="358.2" r="1.5"/><circle cx="123.9" cy="347.92" r="1.5"/><circle cx="124.09" cy="357.62" r="1.5"/><circle cx="124.28" cy="339.47" r="1.5"/><circle cx="124.47" cy="339.56" r="1.5"/><circle cx="124.66" cy="339.08" r="1.5"/><circle cx="124.85" cy="351.13" r="1.5"/><circle cx="125.04" cy="343.02" r="1.5"/><circle cx="125.23" cy="347.87" r="1.5"/><circle cx="125.42" cy="349.63" r="1.5"/><circle cx="125.6" cy="348.96" r="1.5"/><circle cx="125.79" cy="356.34" r="1.5"/><circle cx="125.98" cy="357.23" r="1.5"/><circle cx="126.17" cy="339.12" r="1.5"/><circle cx="126.36" cy="346.72" r="1.5"/><circle cx="126.55" cy="343.2" r="1.5"/><circle cx="126.74" cy="336.66" r="1.5"/><circle cx="126.93" cy="348.97" r="1.5"/><circle cx="127.12" cy="350.43" r="1.5"/><circle cx="127.31" cy="342.49" r="1.5"/><circle cx="127.5" cy="340.5" r="1.5"/><circle cx="127.69" cy="346.42" r="1.5"/><circle cx="127.88" cy="334.87" r="1.5"/><circle cx="128.07" cy="341.21" r="1.5"/><circle cx="128.26" cy="352.42" r="1.5"/><circle cx="128.45" cy="349.9" r="1.5"/><circle cx="128.64" cy="335.68" r="1.5"/><circle cx="128.83" cy="338.19" r="1.5"/><circle cx="129.02" cy="357.01" r="1.5"/><circle cx="129.21" cy="330.57" r="1.5"/><circle cx="129.4" cy="336.39" r="1.5"/><circle cx="129.58" cy="330.12" r="1.5"/><circle cx="129.77" cy="343.86" r="1.5"/><circle cx="129.96" cy="342.92" r="1.5"/><circle cx="130.15" cy="349.42" r="1.5"/><circle cx="130.34" cy="319.51" r="1.5"/><circle cx="130.53" cy="341.27" r="1.5"/><circle cx="130.72" cy="326.75" r="1.5"/><circle cx="130.91" cy="344.67" r="1.5"/><circle cx="131.1" cy="337.86" r="1.5"/><circle cx="131.29" cy="352.56" r="1.5"/><circle cx="131.48" cy="341.88" r="1.5"/><circle cx="131.67" cy="330.55" r="1.5"/><circle cx="131.86" cy="348.54" r="1.5"/><circle cx="132.05" cy="329.41" r="1.5"/><circle cx="132.24" cy="335.19" r="1.5"/><circle cx="132.43" cy="346.25" r="1.5"/><circle cx="132.62" cy="341.63" r="1.5"/><circle cx="132.81" cy="341.09" r="1.5"/><circle cx="133" cy="337.55" r="1.5"/><circle cx="133.19" cy="341.33" r="1.5"/><circle cx="133.38" cy="343.53" r="1.5"/><circle cx="133.56" cy="339.07" r="1.5"/><circle cx="133.75" cy="344.79" r="1.5"/><circle cx="133.94" cy="346.76" r="1.5"/><circle cx="134.13" cy="336.43" r="1.5"/><circle cx="134.32" cy="328.64" r="1.5"/><circle cx="134.51" cy="348.21" r="1.5"/><circle cx="134.7" cy="335.49" r="1.5"/><circle cx="134.89" cy="340.67" r="1.5"/><circle cx="135.08" cy="343.19" r="1.5"/><circle cx="135.27" cy="328.03" r="1.5"/><circle cx="135.46" cy="339.11" r="1.5"/><circle cx="135.65" cy="322.41" r="1.5"/><circle cx="135.84" cy="340.95" r="1.5"/><circle cx="136.03" cy="331.23" r="1.5"/><circle cx="136.22" cy="321.67" r="1.5"/><circle cx="136.41" cy="340.3" r="1.5"/><circle cx="136.6" cy="329.14" r="1.5"/><circle cx="136.79" cy="335.1" r="1.5"/><circle cx="136.98" cy="328.73" r="1.5"/><circle cx="137.17" cy="333.95" r="1.5"/><circle cx="137.36" cy="342.36" r="1.5"/><circle cx="137.54" cy="334.14" r="1.5"/><circle cx="137.73" cy="332.75" r="1.5"/><circle cx="137.92" cy="325.16" r="1.5"/><circle cx="138.11" cy="340.39" r="1.5"/><circle cx="138.3" cy="333.14" r="1.5"/><circle cx="138.49" cy="346.88" r="1.5"/><circle cx="138.68" cy="327.22" r="1.5"/><circle cx="138.87" cy="341.39" r="1.5"/><circle cx="139.06" cy="347.26" r="1.5"/><circle cx="139.25" cy="332.76" r="1.5"/><circle cx="139.44" cy="323.05" r="1.5"/><circle cx="139.63" cy="344.64" r="1.5"/><circle cx="139.82" cy="340.95" r="1.5"/><circle cx="140.01" cy="338.01" r="1.5"/><circle cx="140.2" cy="341.11" r="1.5"/><circle cx="140.39" cy="328.57" r="1.5"/><circle cx="140.58" cy="338.28" r="1.5"/><circle cx="140.77" cy="337.49" r="1.5"/><circle cx="140.96" cy="326.64" r="1.5"/><circle cx="141.15" cy="337.61" r="1.5"/><circle cx="141.34" cy="327.72" r="1.5"/><circle cx="141.53" cy="339.25" r="1.5"/><circle cx="141.71" cy="341.17" r="1.5"/><circle cx="141.9" cy="346.25" r="1.5"/><circle cx="142.09" cy="315.63" r="1.5"/><circle cx="142.28" cy="333.59" r="1.5"/><circle cx="142.47" cy="328.87" r="1.5"/><circle cx="142.66" cy="315.42" r="1.5"/><circle cx="142.85" cy="329.44" r="1.5"/><circle cx="143.04" cy="330.29" r="1.5"/><circle cx="143.23" cy="314.86" r="1.5"/><circle cx="143.42" cy="339.19" r="1.5"/><circle cx="143.61" cy="343.42" r="1.5"/><circle cx="143.8" cy="338.86" r="1.5"/><circle cx="143.99" cy="341.48" r="1.5"/><circle cx="144.18" cy="324.2" r="1.5"/><circle cx="144.37" cy="323.55" r="1.5"/><circle cx="144.56" cy="338.26" r="1.5"/><circle cx="144.75" cy="341.77" r="1.5"/><circle cx="144.94" cy="333.15" r="1.5"/><circle cx="145.13" cy="318.65" r="1.5"/><circle cx="145.32" cy="353.48" r="1.5"/><circle cx="145.51" cy="325.73" r="1.5"/><circle cx="145.69" cy="338.97" r="1.5"/><circle cx="145.88" cy="321.4" r="1.5"/><circle cx="146.07" cy="338.92" r="1.5"/><circle cx="146.26" cy="332.32" r="1.5"/><circle cx="146.45" cy="342.4" r="1.5"/><circle cx="146.64" cy="337.99" r="1.5"/><circle cx="146.83" cy="318.37" r="1.5"/><circle cx="147.02" cy="323.03" r="1.5"/><circle cx="147.21" cy="333.13" r="1.5"/><circle cx="147.4" cy="345.5" r="1.5"/><circle cx="147.59" cy="345.45" r="1.5"/><circle cx="147.78" cy="332.99" r="1.5"/><circle cx="147.97" cy="329.96" r="1.5"/><circle cx="148.16" cy="330.38" r="1.5"/><circle cx="148.35" cy="330.44" r="1.5"/><circle cx="148.54" cy="338.94" r="1.5"/><circle cx="148.73" cy="330.17" r="1.5"/><circle cx="148.92" cy="329.92" r="1.5"/><circle cx="149.11" cy="318.87" r="1.5"/><circle cx="149.3" cy="314.07" r="1.5"/><circle cx="149.49" cy="330.68" r="1.5"/><circle cx="149.67" cy="335.88" r="1.5"/><circle cx="149.86" cy="330.05" r="1.5"/><circle cx="150.05" cy="334.53" r="1.5"/><circle cx="150.24" cy="335.64" r="1.5"/><circle cx="150.43" cy="329.95" r="1.5"/><circle cx="150.62" cy="338.11" r="1.5"/><circle cx="150.81" cy="324.41" r="1.5"/><circle cx="151" cy="330.29" r="1.5"/><circle cx="151.19" cy="327.34" r="1.5"/><circle cx="151.38" cy="330.92" r="1.5"/><circle cx="151.57" cy="335.43" r="1.5"/><circle cx="151.76" cy="337.25" r="1.5"/><circle cx="151.95" cy="331.34" r="1.5"/><circle cx="152.14" cy="333.91" r="1.5"/><circle cx="152.33" cy="327.41" r="1.5"/><circle cx="152.52" cy="329.38" r="1.5"/><circle cx="152.71" cy="340.64" r="1.5"/><circle cx="152.9" cy="328.77" r="1.5"/><circle cx="153.09" cy="340.47" r="1.5"/><circle cx="153.28" cy="334.43" r="1.5"/><circle cx="153.47" cy="331.75" r="1.5"/><circle cx="153.65" cy="346.53" r="1.5"/><circle cx="153.84" cy="328.53" r="1.5"/><circle cx="154.03" cy="328.04" r="1.5"/><circle cx="154.22" cy="330.6" r="1.5"/><circle cx="154.41" cy="336.97" r="1.5"/><circle cx="154.6" cy="332.38" r="1.5"/><circle cx="154.79" cy="337.38" r="1.5"/><circle cx="154.98" cy="331.51" r="1.5"/><circle cx="155.17" cy="333.85" r="1.5"/><circle cx="155.36" cy="328.5" r="1.5"/><circle cx="155.55" cy="339.26" r="1.5"/><circle cx="155.74" cy="327.3" r="1.5"/><circle cx="155.93" cy="328.06" r="1.5"/><circle cx="156.12" cy="330.43" r="1.5"/><circle cx="156.31" cy="332.9" r="1.5"/><circle cx="156.5" cy="324.66" r="1.5"/><circle cx="156.69" cy="343.07" r="1.5"/><circle cx="156.88" cy="325.42" r="1.5"/><circle cx="157.07" cy="327.23" r="1.5"/><circle cx="157.26" cy="326.89" r="1.5"/><circle cx="157.45" cy="326.06" r="1.5"/><circle cx="157.63" cy="334.67" r="1.5"/><circle cx="157.82" cy="331.4" r="1.5"/><circle cx="158.01" cy="323.96" r="1.5"/><circle cx="158.2" cy="325.67" r="1.5"/><circle cx="158.39" cy="327.53" r="1.5"/><circle cx="158.58" cy="341.82" r="1.5"/><circle cx="158.77" cy="324.79" r="1.5"/><circle cx="158.96" cy="319.55" r="1.5"/><circle cx="159.15" cy="320.87" r="1.5"/><circle cx="159.34" cy="327.32" r="1.5"/><circle cx="159.53" cy="342.19" r="1.5"/><circle cx="159.72" cy="321.44" r="1.5"/><circle cx="159.91" cy="330.49" r="1.5"/><circle cx="160.1" cy="350.29" r="1.5"/><circle cx="160.29" cy="326.14" r="1.5"/><circle cx="160.48" cy="341.66" r="1.5"/><circle cx="160.67" cy="340.04" r="1.5"/><circle cx="160.86" cy="334.55" r="1.5"/><circle cx="161.05" cy="318.72" r="1.5"/><circle cx="161.24" cy="332.37" r="1.5"/><circle cx="161.43" cy="327.05" r="1.5"/><circle cx="161.61" cy="314.79" r="1.5"/><circle cx="161.8" cy="316.07" r="1.5"/><circle cx="161.99" cy="330.17" r="1.5"/><circle cx="162.18" cy="331.32" r="1.5"/><circle cx="162.37" cy="339.78" r="1.5"/><circle cx="162.56" cy="335.09" r="1.5"/><circle cx="162.75" cy="325.8" r="1.5"/><circle cx="162.94" cy="326.05" r="1.5"/><circle cx="163.13" cy="328.42" r="1.5"/><circle cx="163.32" cy="321.09" r="1.5"/><circle cx="163.51" cy="335.76" r="1.5"/><circle cx="163.7" cy="329.82" r="1.5"/><circle cx="163.89" cy="323.29" r="1.5"/><circle cx="164.08" cy="324.52" r="1.5"/><circle cx="164.27" cy="320.49" r="1.5"/><circle cx="164.46" cy="326.09" r="1.5"/><circle cx="164.65" cy="331.96" r="1.5"/><circle cx="164.84" cy="326.39" r="1.5"/><circle cx="165.03" cy="337.72" r="1.5"/><circle cx="165.22" cy="343.01" r="1.5"/><circle cx="165.41" cy="324.6" r="1.5"/><circle cx="165.59" cy="329.88" r="1.5"/><circle cx="165.78" cy="326.87" r="1.5"/><circle cx="165.97" cy="343.52" r="1.5"/><circle cx="166.16" cy="332.47" r="1.5"/><circle cx="166.35" cy="334.43" r="1.5"/><circle cx="166.54" cy="336.63" r="1.5"/><circle cx="166.73" cy="348.17" r="1.5"/><circle cx="166.92" cy="332.25" r="1.5"/><circle cx="167.11" cy="322.04" r="1.5"/><circle cx="167.3" cy="326.33" r="1.5"/><circle cx="167.49" cy="334.48" r="1.5"/><circle cx="167.68" cy="329.63" r="1.5"/><circle cx="167.87" cy="323.23" r="1.5"/><circle cx="168.06" cy="352.42" r="1.5"/><circle cx="168.25" cy="330.56" r="1.5"/><circle cx="168.44" cy="325.03" r="1.5"/><circle cx="168.63" cy="323.89" r="1.5"/><circle cx="168.82" cy="315.45" r="1.5"/><circle cx="169.01" cy="321.19" r="1.5"/><circle cx="169.2" cy="326.98" r="1.5"/><circle cx="169.39" cy="327.08" r="1.5"/><circle cx="169.57" cy="323.06" r="1.5"/><circle cx="169.76" cy="334.07" r="1.5"/><circle cx="169.95" cy="329.94" r="1.5"/><circle cx="170.14" cy="322.1" r="1.5"/><circle cx="170.33" cy="313.39" r="1.5"/><circle cx="170.52" cy="330.95" r="1.5"/><circle cx="170.71" cy="330.04" r="1.5"/><circle cx="170.9" cy="328.01" r="1.5"/><circle cx="171.09" cy="318.52" r="1.5"/><circle cx="171.28" cy="329.92" r="1.5"/><circle cx="171.47" cy="317.5" r="1.5"/><circle cx="171.66" cy="337.7" r="1.5"/><circle cx="171.85" cy="331.24" r="1.5"/><circle cx="172.04" cy="331.35" r="1.5"/><circle cx="172.23" cy="323.2" r="1.5"/><circle cx="172.42" cy="321.06" r="1.5"/><circle cx="172.61" cy="342.25" r="1.5"/><circle cx="172.8" cy="337.33" r="1.5"/><circle cx="172.99" cy="326.96" r="1.5"/><circle cx="173.18" cy="335.23" r="1.5"/><circle cx="173.37" cy="342.39" r="1.5"/><circle cx="173.55" cy="321.18" r="1.5"/><circle cx="173.74" cy="325.7" r="1.5"/><circle cx="173.93" cy="325.72" r="1.5"/><circle cx="174.12" cy="333.76" r="1.5"/><circle cx="174.31" cy="321.3" r="1.5"/><circle cx="174.5" cy="331.82" r="1.5"/><circle cx="174.69" cy="320.76" r="1.5"/><circle cx="174.88" cy="337.41" r="1.5"/><circle cx="175.07" cy="336.94" r="1.5"/><circle cx="175.26" cy="328.18" r="1.5"/><circle cx="175.45" cy="335.71" r="1.5"/><circle cx="175.64" cy="324.3" r="1.5"/><circle cx="175.83" cy="327.75" r="1.5"/><circle cx="176.02" cy="337.56" r="1.5"/><circle cx="176.21" cy="329.33" r="1.5"/><circle cx="176.4" cy="332.85" r="1.5"/><circle cx="176.59" cy="322.36" r="1.5"/><circle cx="176.78" cy="335.2" r="1.5"/><circle cx="176.97" cy="333.61" r="1.5"/><circle cx="177.16" cy="319.95" r="1.5"/><circle cx="177.35" cy="311.45" r="1.5"/><circle cx="177.54" cy="309.6" r="1.5"/><circle cx="177.72" cy="329.49" r="1.5"/><circle cx="177.91" cy="328.21" r="1.5"/><circle cx="178.1" cy="317.34" r="1.5"/><circle cx="178.29" cy="331.08" r="1.5"/><circle cx="178.48" cy="338.14" r="1.5"/><circle cx="178.67" cy="329.1" r="1.5"/><circle cx="178.86" cy="326.34" r="1.5"/><circle cx="179.05" cy="336.96" r="1.5"/><circle cx="179.24" cy="343.73" r="1.5"/><circle cx="179.43" cy="342.01" r="1.5"/><circle cx="179.62" cy="324.61" r="1.5"/><circle cx="179.81" cy="336.41" r="1.5"/><circle cx="180" cy="331.32" r="1.5"/><circle cx="180.19" cy="328.4" r="1.5"/><circle cx="180.38" cy="325.04" r="1.5"/><circle cx="180.57" cy="332.95" r="1.5"/><circle cx="180.76" cy="326.06" r="1.5"/><circle cx="180.95" cy="337.57" r="1.5"/><circle cx="181.14" cy="333.21" r="1.5"/><circle cx="181.33" cy="338.7" r="1.5"/><circle cx="181.52" cy="320.87" r="1.5"/><circle cx="181.7" cy="330.47" r="1.5"/><circle cx="181.89" cy="336.37" r="1.5"/><circle cx="182.08" cy="333.18" r="1.5"/><circle cx="182.27" cy="343.87" r="1.5"/><circle cx="182.46" cy="324.5" r="1.5"/><circle cx="182.65" cy="343.5" r="1.5"/><circle cx="182.84" cy="338.89" r="1.5"/><circle cx="183.03" cy="333.45" r="1.5"/><circle cx="183.22" cy="309.39" r="1.5"/><circle cx="183.41" cy="322.44" r="1.5"/><circle cx="183.6" cy="331.28" r="1.5"/><circle cx="183.79" cy="324.48" r="1.5"/><circle cx="183.98" cy="313.36" r="1.5"/><circle cx="184.17" cy="332.33" r="1.5"/><circle cx="184.36" cy="333.44" r="1.5"/><circle cx="184.55" cy="320.39" r="1.5"/><circle cx="184.74" cy="326.34" r="1.5"/><circle cx="184.93" cy="324.89" r="1.5"/><circle cx="185.12" cy="334.65" r="1.5"/><circle cx="185.31" cy="314.55" r="1.5"/><circle cx="185.5" cy="316.34" r="1.5"/><circle cx="185.68" cy="325.81" r="1.5"/><circle cx="185.87" cy="324.84" r="1.5"/><circle cx="186.06" cy="347.27" r="1.5"/><circle cx="186.25" cy="325.25" r="1.5"/><circle cx="186.44" cy="332.14" r="1.5"/><circle cx="186.63" cy="326.96" r="1.5"/><circle cx="186.82" cy="324.91" r="1.5"/><circle cx="187.01" cy="333.39" r="1.5"/><circle cx="187.2" cy="344.55" r="1.5"/><circle cx="187.39" cy="327.55" r="1.5"/><circle cx="187.58" cy="336.73" r="1.5"/><circle cx="187.77" cy="333.34" r="1.5"/><circle cx="187.96" cy="335.62" r="1.5"/><circle cx="188.15" cy="333.46" r="1.5"/><circle cx="188.34" cy="349.73" r="1.5"/><circle cx="188.53" cy="320.6" r="1.5"/><circle cx="188.72" cy="328.58" r="1.5"/><circle cx="188.91" cy="321.5" r="1.5"/><circle cx="189.1" cy="314.34" r="1.5"/><circle cx="189.29" cy="330.52" r="1.5"/><circle cx="189.48" cy="345.61" r="1.5"/><circle cx="189.66" cy="338.12" r="1.5"/><circle cx="189.85" cy="340.71" r="1.5"/><circle cx="190.04" cy="334.9" r="1.5"/><circle cx="190.23" cy="330.11" r="1.5"/><circle cx="190.42" cy="347.32" r="1.5"/><circle cx="190.61" cy="327.96" r="1.5"/><circle cx="190.8" cy="343.28" r="1.5"/><circle cx="190.99" cy="328.36" r="1.5"/><circle cx="191.18" cy="331.73" r="1.5"/><circle cx="191.37" cy="333.43" r="1.5"/><circle cx="191.56" cy="331.45" r="1.5"/><circle cx="191.75" cy="337.17" r="1.5"/><circle cx="191.94" cy="335.93" r="1.5"/><circle cx="192.13" cy="344.78" r="1.5"/><circle cx="192.32" cy="331.14" r="1.5"/><circle cx="192.51" cy="315.67" r="1.5"/><circle cx="192.7" cy="314.57" r="1.5"/><circle cx="192.89" cy="320.02" r="1.5"/><circle cx="193.08" cy="325.12" r="1.5"/><circle cx="193.27" cy="336.54" r="1.5"/><circle cx="193.46" cy="319.06" r="1.5"/><circle cx="193.64" cy="331.44" r="1.5"/><circle cx="193.83" cy="331.56" r="1.5"/><circle cx="194.02" cy="343.43" r="1.5"/><circle cx="194.21" cy="330.26" r="1.5"/><circle cx="194.4" cy="334.62" r="1.5"/><circle cx="194.59" cy="331.73" r="1.5"/><circle cx="194.78" cy="340" r="1.5"/><circle cx="194.97" cy="334.15" r="1.5"/><circle cx="195.16" cy="312.26" r="1.5"/><circle cx="195.35" cy="331.66" r="1.5"/><circle cx="195.54" cy="333.07" r="1.5"/><circle cx="195.73" cy="326.72" r="1.5"/><circle cx="195.92" cy="325.28" r="1.5"/><circle cx="196.11" cy="340.32" r="1.5"/><circle cx="196.3" cy="332.86" r="1.5"/><circle cx="196.49" cy="323.58" r="1.5"/><circle cx="196.68" cy="328.95" r="1.5"/><circle cx="196.87" cy="345.84" r="1.5"/><circle cx="197.06" cy="318.38" r="1.5"/><circle cx="197.25" cy="336.8" r="1.5"/><circle cx="197.44" cy="330.54" r="1.5"/><circle cx="197.62" cy="335.52" r="1.5"/><circle cx="197.81" cy="318.95" r="1.5"/><circle cx="198" cy="347.35" r="1.5"/><circle cx="198.19" cy="336.79" r="1.5"/><circle cx="198.38" cy="335.64" r="1.5"/><circle cx="198.57" cy="325.82" r="1.5"/><circle cx="198.76" cy="326.3" r="1.5"/><circle cx="198.95" cy="319.81" r="1.5"/><circle cx="199.14" cy="344.3" r="1.5"/><circle cx="199.33" cy="325.15" r="1.5"/><circle cx="199.52" cy="333.77" r="1.5"/><circle cx="199.71" cy="336.85" r="1.5"/><circle cx="199.9" cy="326.93" r="1.5"/><circle cx="200.09" cy="338.97" r="1.5"/><circle cx="200.28" cy="348.52" r="1.5"/><circle cx="200.47" cy="334.46" r="1.5"/><circle cx="200.66" cy="343.77" r="1.5"/><circle cx="200.85" cy="336.78" r="1.5"/><circle cx="201.04" cy="328.38" r="1.5"/><circle cx="201.23" cy="328.89" r="1.5"/><circle cx="201.42" cy="318.39" r="1.5"/><circle cx="201.6" cy="333.13" r="1.5"/><circle cx="201.79" cy="340.67" r="1.5"/><circle cx="201.98" cy="337.74" r="1.5"/><circle cx="202.17" cy="339.09" r="1.5"/><circle cx="202.36" cy="341.56" r="1.5"/><circle cx="202.55" cy="327.96" r="1.5"/><circle cx="202.74" cy="336.87" r="1.5"/><circle cx="202.93" cy="347.86" r="1.5"/><circle cx="203.12" cy="325.84" r="1.5"/><circle cx="203.31" cy="332.51" r="1.5"/><circle cx="203.5" cy="328.66" r="1.5"/><circle cx="203.69" cy="330.74" r="1.5"/><circle cx="203.88" cy="326.42" r="1.5"/><circle cx="204.07" cy="331.32" r="1.5"/><circle cx="204.26" cy="321.47" r="1.5"/><circle cx="204.45" cy="328.16" r="1.5"/><circle cx="204.64" cy="328.45" r="1.5"/><circle cx="204.83" cy="328.31" r="1.5"/><circle cx="205.02" cy="343.69" r="1.5"/><circle cx="205.21" cy="333.07" r="1.5"/><circle cx="205.4" cy="333.86" r="1.5"/><circle cx="205.58" cy="330.03" r="1.5"/><circle cx="205.77" cy="342.93" r="1.5"/><circle cx="205.96" cy="318.3" r="1.5"/><circle cx="206.15" cy="330.91" r="1.5"/><circle cx="206.34" cy="333.56" r="1.5"/><circle cx="206.53" cy="345.86" r="1.5"/><circle cx="206.72" cy="334.12" r="1.5"/><circle cx="206.91" cy="332.56" r="1.5"/><circle cx="207.1" cy="337.74" r="1.5"/><circle cx="207.29" cy="331.08" r="1.5"/><circle cx="207.48" cy="337.13" r="1.5"/><circle cx="207.67" cy="327.33" r="1.5"/><circle cx="207.86" cy="337.84" r="1.5"/><circle cx="208.05" cy="332.21" r="1.5"/><circle cx="208.24" cy="323.85" r="1.5"/><circle cx="208.43" cy="310.75" r="1.5"/><circle cx="208.62" cy="340.22" r="1.5"/><circle cx="208.81" cy="335.76" r="1.5"/><circle cx="209" cy="338.86" r="1.5"/><circle cx="209.19" cy="325.51" r="1.5"/><circle cx="209.38" cy="341.42" r="1.5"/><circle cx="209.56" cy="335.97" r="1.5"/><circle cx="209.75" cy="332.24" r="1.5"/><circle cx="209.94" cy="340.06" r="1.5"/><circle cx="210.13" cy="339.9" r="1.5"/><circle cx="210.32" cy="335.95" r="1.5"/><circle cx="210.51" cy="349.32" r="1.5"/><circle cx="210.7" cy="343.95" r="1.5"/><circle cx="210.89" cy="335.47" r="1.5"/><circle cx="211.08" cy="330.86" r="1.5"/><circle cx="211.27" cy="333.62" r="1.5"/><circle cx="211.46" cy="346.69" r="1.5"/><circle cx="211.65" cy="335.93" r="1.5"/><circle cx="211.84" cy="325.56" r="1.5"/><circle cx="212.03" cy="327.57" r="1.5"/><circle cx="212.22" cy="332.8" r="1.5"/><circle cx="212.41" cy="339.46" r="1.5"/><circle cx="212.6" cy="326.99" r="1.5"/><circle cx="212.79" cy="336.95" r="1.5"/><circle cx="212.98" cy="341.81" r="1.5"/><circle cx="213.17" cy="338.81" r="1.5"/><circle cx="213.36" cy="320.32" r="1.5"/><circle cx="213.55" cy="330.43" r="1.5"/><circle cx="213.73" cy="322.72" r="1.5"/><circle cx="213.92" cy="336.2" r="1.5"/><circle cx="214.11" cy="324.56" r="1.5"/><circle cx="214.3" cy="337.23" r="1.5"/><circle cx="214.49" cy="333.59" r="1.5"/><circle cx="214.68" cy="311.88" r="1.5"/><circle cx="214.87" cy="326.02" r="1.5"/><circle cx="215.06" cy="336.45" r="1.5"/><circle cx="215.25" cy="333.04" r="1.5"/><circle cx="215.44" cy="329.68" r="1.5"/><circle cx="215.63" cy="322.42" r="1.5"/><circle cx="215.82" cy="336.4" r="1.5"/><circle cx="216.01" cy="346.7" r="1.5"/><circle cx="216.2" cy="334.7" r="1.5"/><circle cx="216.39" cy="332.29" r="1.5"/><circle cx="216.58" cy="331.53" r="1.5"/><circle cx="216.77" cy="321.62" r="1.5"/><circle cx="216.96" cy="329.85" r="1.5"/><circle cx="217.15" cy="325.79" r="1.5"/><circle cx="217.34" cy="341.52" r="1.5"/><circle cx="217.53" cy="325.36" r="1.5"/><circle cx="217.71" cy="315.28" r="1.5"/><circle cx="217.9" cy="326.16" r="1.5"/><circle cx="218.09" cy="330.44" r="1.5"/><circle cx="218.28" cy="331.27" r="1.5"/><circle cx="218.47" cy="317.87" r="1.5"/><circle cx="218.66" cy="340.17" r="1.5"/><circle cx="218.85" cy="333.48" r="1.5"/><circle cx="219.04" cy="328.8" r="1.5"/><circle cx="219.23" cy="326.49" r="1.5"/><circle cx="219.42" cy="336.2" r="1.5"/><circle cx="219.61" cy="330.09" r="1.5"/><circle cx="219.8" cy="334.91" r="1.5"/><circle cx="219.99" cy="331.65" r="1.5"/><circle cx="220.18" cy="333.74" r="1.5"/><circle cx="220.37" cy="342.04" r="1.5"/><circle cx="220.56" cy="332.85" r="1.5"/><circle cx="220.75" cy="325.49" r="1.5"/><circle cx="220.94" cy="340.64" r="1.5"/><circle cx="221.13" cy="334.69" r="1.5"/><circle cx="221.32" cy="327.27" r="1.5"/><circle cx="221.51" cy="341.52" r="1.5"/><circle cx="221.69" cy="331.25" r="1.5"/><circle cx="221.88" cy="341.46" r="1.5"/><circle cx="222.07" cy="323.46" r="1.5"/><circle cx="222.26" cy="313.81" r="1.5"/><circle cx="222.45" cy="316.2" r="1.5"/><circle cx="222.64" cy="334.61" r="1.5"/><circle cx="222.83" cy="326.75" r="1.5"/><circle cx="223.02" cy="331.84" r="1.5"/><circle cx="223.21" cy="332" r="1.5"/><circle cx="223.4" cy="320.16" r="1.5"/><circle cx="223.59" cy="343.69" r="1.5"/><circle cx="223.78" cy="324.22" r="1.5"/><circle cx="223.97" cy="333.29" r="1.5"/><circle cx="224.16" cy="321.35" r="1.5"/><circle cx="224.35" cy="331.38" r="1.5"/><circle cx="224.54" cy="338.44" r="1.5"/><circle cx="224.73" cy="330.66" r="1.5"/><circle cx="224.92" cy="326.91" r="1.5"/><circle cx="225.11" cy="332.67" r="1.5"/><circle cx="225.3" cy="328.97" r="1.5"/><circle cx="225.49" cy="337.26" r="1.5"/><circle cx="225.67" cy="350.49" r="1.5"/><circle cx="225.86" cy="325.63" r="1.5"/><circle cx="226.05" cy="327.29" r="1.5"/><circle cx="226.24" cy="331.82" r="1.5"/><circle cx="226.43" cy="332.48" r="1.5"/><circle cx="226.62" cy="324.56" r="1.5"/><circle cx="226.81" cy="336.81" r="1.5"/><circle cx="227" cy="338.87" r="1.5"/><circle cx="227.19" cy="334.64" r="1.5"/><circle cx="227.38" cy="323.36" r="1.5"/><circle cx="227.57" cy="344.48" r="1.5"/><circle cx="227.76" cy="323.36" r="1.5"/><circle cx="227.95" cy="338.38" r="1.5"/><circle cx="228.14" cy="342.17" r="1.5"/><circle cx="228.33" cy="322.84" r="1.5"/><circle cx="228.52" cy="333.97" r="1.5"/><circle cx="228.71" cy="343.84" r="1.5"/><circle cx="228.9" cy="336.14" r="1.5"/><circle cx="229.09" cy="325.58" r="1.5"/><circle cx="229.28" cy="323.45" r="1.5"/><circle cx="229.47" cy="336.73" r="1.5"/><circle cx="229.65" cy="329.91" r="1.5"/><circle cx="229.84" cy="327.41" r="1.5"/><circle cx="230.03" cy="338.55" r="1.5"/><circle cx="230.22" cy="330.37" r="1.5"/><circle cx="230.41" cy="333.55" r="1.5"/><circle cx="230.6" cy="337.69" r="1.5"/><circle cx="230.79" cy="337.34" r="1.5"/><circle cx="230.98" cy="332.78" r="1.5"/><circle cx="231.17" cy="333.09" r="1.5"/><circle cx="231.36" cy="337.98" r="1.5"/><circle cx="231.55" cy="336.85" r="1.5"/><circle cx="231.74" cy="324.26" r="1.5"/><circle cx="231.93" cy="331.63" r="1.5"/><circle cx="232.12" cy="326.15" r="1.5"/><circle cx="232.31" cy="323.57" r="1.5"/><circle cx="232.5" cy="328.6" r="1.5"/><circle cx="232.69" cy="314.84" r="1.5"/><circle cx="232.88" cy="340.2" r="1.5"/><circle cx="233.07" cy="326.84" r="1.5"/><circle cx="233.26" cy="336.07" r="1.5"/><circle cx="233.45" cy="322.21" r="1.5"/><circle cx="233.63" cy="319.57" r="1.5"/><circle cx="233.82" cy="349.5" r="1.5"/><circle cx="234.01" cy="341.44" r="1.5"/><circle cx="234.2" cy="328.09" r="1.5"/><circle cx="234.39" cy="327.07" r="1.5"/><circle cx="234.58" cy="327.52" r="1.5"/><circle cx="234.77" cy="334.14" r="1.5"/><circle cx="234.96" cy="329.85" r="1.5"/><circle cx="235.15" cy="328.24" r="1.5"/><circle cx="235.34" cy="334.23" r="1.5"/><circle cx="235.53" cy="325.2" r="1.5"/><circle cx="235.72" cy="367.76" r="1.5"/><circle cx="235.91" cy="328.44" r="1.5"/><circle cx="236.1" cy="342.1" r="1.5"/><circle cx="236.29" cy="325.81" r="1.5"/><circle cx="236.48" cy="335.54" r="1.5"/><circle cx="236.67" cy="340.95" r="1.5"/><circle cx="236.86" cy="330.63" r="1.5"/><circle cx="237.05" cy="341.15" r="1.5"/><circle cx="237.24" cy="341.18" r="1.5"/><circle cx="237.43" cy="346.54" r="1.5"/><circle cx="237.61" cy="333.95" r="1.5"/><circle cx="237.8" cy="329.68" r="1.5"/><circle cx="237.99" cy="325.39" r="1.5"/><circle cx="238.18" cy="334.93" r="1.5"/><circle cx="238.37" cy="325.21" r="1.5"/><circle cx="238.56" cy="333.65" r="1.5"/><circle cx="238.75" cy="334.57" r="1.5"/><circle cx="238.94" cy="329.13" r="1.5"/><circle cx="239.13" cy="325.18" r="1.5"/><circle cx="239.32" cy="336.63" r="1.5"/><circle cx="239.51" cy="335.84" r="1.5"/><circle cx="239.7" cy="335.18" r="1.5"/><circle cx="239.89" cy="333.2" r="1.5"/><circle cx="240.08" cy="341.25" r="1.5"/><circle cx="240.27" cy="325.5" r="1.5"/><circle cx="240.46" cy="337.18" r="1.5"/><circle cx="240.65" cy="330.14" r="1.5"/><circle cx="240.84" cy="340.68" r="1.5"/><circle cx="241.03" cy="331.01" r="1.5"/><circle cx="241.22" cy="330.76" r="1.5"/><circle cx="241.41" cy="337.41" r="1.5"/><circle cx="241.59" cy="317.47" r="1.5"/><circle cx="241.78" cy="330.96" r="1.5"/><circle cx="241.97" cy="319.48" r="1.5"/><circle cx="242.16" cy="326.18" r="1.5"/><circle cx="242.35" cy="339.44" r="1.5"/><circle cx="242.54" cy="337.16" r="1.5"/><circle cx="242.73" cy="330.49" r="1.5"/><circle cx="242.92" cy="333.56" r="1.5"/><circle cx="243.11" cy="333.67" r="1.5"/><circle cx="243.3" cy="352.08" r="1.5"/><circle cx="243.49" cy="348.87" r="1.5"/><circle cx="243.68" cy="335.95" r="1.5"/><circle cx="243.87" cy="352.24" r="1.5"/><circle cx="244.06" cy="331.09" r="1.5"/><circle cx="244.25" cy="340.07" r="1.5"/><circle cx="244.44" cy="326.28" r="1.5"/><circle cx="244.63" cy="335.96" r="1.5"/><circle cx="244.82" cy="331.95" r="1.5"/><circle cx="245.01" cy="345.88" r="1.5"/><circle cx="245.2" cy="348.48" r="1.5"/><circle cx="245.39" cy="342.92" r="1.5"/><circle cx="245.57" cy="350.89" r="1.5"/><circle cx="245.76" cy="342.13" r="1.5"/><circle cx="245.95" cy="321.26" r="1.5"/><circle cx="246.14" cy="342.88" r="1.5"/><circle cx="246.33" cy="328.95" r="1.5"/><circle cx="246.52" cy="345.48" r="1.5"/><circle cx="246.71" cy="331.85" r="1.5"/><circle cx="246.9" cy="336.91" r="1.5"/><circle cx="247.09" cy="334.8" r="1.5"/><circle cx="247.28" cy="329.68" r="1.5"/><circle cx="247.47" cy="320" r="1.5"/><circle cx="247.66" cy="332.76" r="1.5"/><circle cx="247.85" cy="333.35" r="1.5"/><circle cx="248.04" cy="342.32" r="1.5"/><circle cx="248.23" cy="329.62" r="1.5"/><circle cx="248.42" cy="336.4" r="1.5"/><circle cx="248.61" cy="327.62" r="1.5"/><circle cx="248.8" cy="334.78" r="1.5"/><circle cx="248.99" cy="320.23" r="1.5"/><circle cx="249.18" cy="350.62" r="1.5"/><circle cx="249.37" cy="335.8" r="1.5"/><circle cx="249.56" cy="327.27" r="1.5"/><circle cx="249.74" cy="337.34" r="1.5"/><circle cx="249.93" cy="340.95" r="1.5"/><circle cx="250.12" cy="336.67" r="1.5"/><circle cx="250.31" cy="345.77" r="1.5"/><circle cx="250.5" cy="333.55" r="1.5"/><circle cx="250.69" cy="314.63" r="1.5"/><circle cx="250.88" cy="325.21" r="1.5"/><circle cx="251.07" cy="343.6" r="1.5"/><circle cx="251.26" cy="341.69" r="1.5"/><circle cx="251.45" cy="337.88" r="1.5"/><circle cx="251.64" cy="326.4" r="1.5"/><circle cx="251.83" cy="341.3" r="1.5"/><circle cx="252.02" cy="340.24" r="1.5"/><circle cx="252.21" cy="327.41" r="1.5"/><circle cx="252.4" cy="327.59" r="1.5"/><circle cx="252.59" cy="337.7" r="1.5"/><circle cx="252.78" cy="343.77" r="1.5"/><circle cx="252.97" cy="341.02" r="1.5"/><circle cx="253.16" cy="340.38" r="1.5"/><circle cx="253.35" cy="352.88" r="1.5"/><circle cx="253.54" cy="328.59" r="1.5"/><circle cx="253.72" cy="339.85" r="1.5"/><circle cx="253.91" cy="330.81" r="1.5"/><circle cx="254.1" cy="319.51" r="1.5"/><circle cx="254.29" cy="325.19" r="1.5"/><circle cx="254.48" cy="344.14" r="1.5"/><circle cx="254.67" cy="327.69" r="1.5"/><circle cx="254.86" cy="325.35" r="1.5"/><circle cx="255.05" cy="340.88" r="1.5"/><circle cx="255.24" cy="342.58" r="1.5"/><circle cx="255.43" cy="335.71" r="1.5"/><circle cx="255.62" cy="347.88" r="1.5"/><circle cx="255.81" cy="322.86" r="1.5"/><circle cx="256" cy="354.45" r="1.5"/><circle cx="256.19" cy="343.88" r="1.5"/><circle cx="256.38" cy="337.07" r="1.5"/><circle cx="256.57" cy="336.74" r="1.5"/><circle cx="256.76" cy="333.55" r="1.5"/><circle cx="256.95" cy="332.7" r="1.5"/><circle cx="257.14" cy="336.66" r="1.5"/><circle cx="257.33" cy="325.67" r="1.5"/><circle cx="257.52" cy="352.37" r="1.5"/><circle cx="257.7" cy="334.96" r="1.5"/><circle cx="257.89" cy="340.79" r="1.5"/><circle cx="258.08" cy="333.9" r="1.5"/><circle cx="258.27" cy="333.19" r="1.5"/><circle cx="258.46" cy="342.43" r="1.5"/><circle cx="258.65" cy="340.23" r="1.5"/><circle cx="258.84" cy="328.57" r="1.5"/><circle cx="259.03" cy="332.19" r="1.5"/><circle cx="259.22" cy="340.59" r="1.5"/><circle cx="259.41" cy="318.45" r="1.5"/><circle cx="259.6" cy="316.27" r="1.5"/><circle cx="259.79" cy="346.99" r="1.5"/><circle cx="259.98" cy="332.64" r="1.5"/><circle cx="260.17" cy="314.68" r="1.5"/><circle cx="260.36" cy="328.74" r="1.5"/><circle cx="260.55" cy="333.33" r="1.5"/><circle cx="260.74" cy="336.83" r="1.5"/><circle cx="260.93" cy="339.55" r="1.5"/><circle cx="261.12" cy="336.89" r="1.5"/><circle cx="261.31" cy="339.65" r="1.5"/><circle cx="261.5" cy="329.12" r="1.5"/><circle cx="261.68" cy="338.44" r="1.5"/><circle cx="261.87" cy="338.8" r="1.5"/><circle cx="262.06" cy="345" r="1.5"/><circle cx="262.25" cy="335.63" r="1.5"/><circle cx="262.44" cy="342.52" r="1.5"/><circle cx="262.63" cy="336.72" r="1.5"/><circle cx="262.82" cy="326.79" r="1.5"/><circle cx="263.01" cy="332.3" r="1.5"/><circle cx="263.2" cy="331.18" r="1.5"/><circle cx="263.39" cy="332.4" r="1.5"/><circle cx="263.58" cy="334.83" r="1.5"/><circle cx="263.77" cy="336.36" r="1.5"/><circle cx="263.96" cy="337.84" r="1.5"/><circle cx="264.15" cy="329.17" r="1.5"/><circle cx="264.34" cy="344.17" r="1.5"/><circle cx="264.53" cy="324.46" r="1.5"/><circle cx="264.72" cy="335.1" r="1.5"/><circle cx="264.91" cy="341.48" r="1.5"/><circle cx="265.1" cy="339.38" r="1.5"/><circle cx="265.29" cy="340.92" r="1.5"/><circle cx="265.48" cy="334.12" r="1.5"/><circle cx="265.66" cy="341.27" r="1.5"/><circle cx="265.85" cy="326.16" r="1.5"/><circle cx="266.04" cy="341.81" r="1.5"/><circle cx="266.23" cy="353.94" r="1.5"/><circle cx="266.42" cy="341.42" r="1.5"/><circle cx="266.61" cy="351.82" r="1.5"/><circle cx="266.8" cy="335.83" r="1.5"/><circle cx="266.99" cy="326.9" r="1.5"/><circle cx="267.18" cy="330.26" r="1.5"/><circle cx="267.37" cy="346.41" r="1.5"/><circle cx="267.56" cy="341.74" r="1.5"/><circle cx="267.75" cy="321.1" r="1.5"/><circle cx="267.94" cy="332.98" r="1.5"/><circle cx="268.13" cy="335.55" r="1.5"/><circle cx="268.32" cy="327.01" r="1.5"/><circle cx="268.51" cy="315.67" r="1.5"/><circle cx="268.7" cy="325.08" r="1.5"/><circle cx="268.89" cy="334.49" r="1.5"/><circle cx="269.08" cy="332.75" r="1.5"/><circle cx="269.27" cy="330.63" r="1.5"/><circle cx="269.46" cy="340.64" r="1.5"/><circle cx="269.64" cy="344.27" r="1.5"/><circle cx="269.83" cy="335.26" r="1.5"/><circle cx="270.02" cy="343.39" r="1.5"/><circle cx="270.21" cy="336.2" r="1.5"/><circle cx="270.4" cy="334.93" r="1.5"/><circle cx="270.59" cy="316.71" r="1.5"/><circle cx="270.78" cy="342.65" r="1.5"/><circle cx="270.97" cy="336.74" r="1.5"/><circle cx="271.16" cy="337.09" r="1.5"/><circle cx="271.35" cy="332.22" r="1.5"/><circle cx="271.54" cy="327.28" r="1.5"/><circle cx="271.73" cy="339.78" r="1.5"/><circle cx="271.92" cy="342.47" r="1.5"/><circle cx="272.11" cy="349.14" r="1.5"/><circle cx="272.3" cy="343.35" r="1.5"/><circle cx="272.49" cy="331.48" r="1.5"/><circle cx="272.68" cy="335.48" r="1.5"/><circle cx="272.87" cy="344.1" r="1.5"/><circle cx="273.06" cy="338.9" r="1.5"/><circle cx="273.25" cy="335.63" r="1.5"/><circle cx="273.44" cy="331.81" r="1.5"/><circle cx="273.62" cy="340.72" r="1.5"/><circle cx="273.81" cy="337.95" r="1.5"/><circle cx="274" cy="350.69" r="1.5"/><circle cx="274.19" cy="345.28" r="1.5"/><circle cx="274.38" cy="322.82" r="1.5"/><circle cx="274.57" cy="353.72" r="1.5"/><circle cx="274.76" cy="338.71" r="1.5"/><circle cx="274.95" cy="334.21" r="1.5"/><circle cx="275.14" cy="339.03" r="1.5"/><circle cx="275.33" cy="342.56" r="1.5"/><circle cx="275.52" cy="336.51" r="1.5"/><circle cx="275.71" cy="336.07" r="1.5"/><circle cx="275.9" cy="336.71" r="1.5"/><circle cx="276.09" cy="351.29" r="1.5"/><circle cx="276.28" cy="337.26" r="1.5"/><circle cx="276.47" cy="343.01" r="1.5"/><circle cx="276.66" cy="340.53" r="1.5"/><circle cx="276.85" cy="334.25" r="1.5"/><circle cx="277.04" cy="330.91" r="1.5"/><circle cx="277.23" cy="328.84" r="1.5"/><circle cx="277.42" cy="340.16" r="1.5"/><circle cx="277.6" cy="328.65" r="1.5"/><circle cx="277.79" cy="326.63" r="1.5"/><circle cx="277.98" cy="326.94" r="1.5"/><circle cx="278.17" cy="324.9" r="1.5"/><circle cx="278.36" cy="337.37" r="1.5"/><circle cx="278.55" cy="337.61" r="1.5"/><circle cx="278.74" cy="329.52" r="1.5"/><circle cx="278.93" cy="347.3" r="1.5"/><circle cx="279.12" cy="334.53" r="1.5"/><circle cx="279.31" cy="340.54" r="1.5"/><circle cx="279.5" cy="339.24" r="1.5"/><circle cx="279.69" cy="350.38" r="1.5"/><circle cx="279.88" cy="343.49" r="1.5"/><circle cx="280.07" cy="336.45" r="1.5"/><circle cx="280.26" cy="329.09" r="1.5"/><circle cx="280.45" cy="328.28" r="1.5"/><circle cx="280.64" cy="336.97" r="1.5"/><circle cx="280.83" cy="337.86" r="1.5"/><circle cx="281.02" cy="343.07" r="1.5"/><circle cx="281.21" cy="333.09" r="1.5"/><circle cx="281.4" cy="338.37" r="1.5"/><circle cx="281.58" cy="331.46" r="1.5"/><circle cx="281.77" cy="322.19" r="1.5"/><circle cx="281.96" cy="336.66" r="1.5"/><circle cx="282.15" cy="348.54" r="1.5"/><circle cx="282.34" cy="343.39" r="1.5"/><circle cx="282.53" cy="348.24" r="1.5"/><circle cx="282.72" cy="346.14" r="1.5"/><circle cx="282.91" cy="325.88" r="1.5"/><circle cx="283.1" cy="334.63" r="1.5"/><circle cx="283.29" cy="348.79" r="1.5"/><circle cx="283.48" cy="331.19" r="1.5"/><circle cx="283.67" cy="326.29" r="1.5"/><circle cx="283.86" cy="339.42" r="1.5"/><circle cx="284.05" cy="341.99" r="1.5"/><circle cx="284.24" cy="339.26" r="1.5"/><circle cx="284.43" cy="334.23" r="1.5"/><circle cx="284.62" cy="331.37" r="1.5"/><circle cx="284.81" cy="326.99" r="1.5"/><circle cx="285" cy="326.75" r="1.5"/><circle cx="285.19" cy="326.98" r="1.5"/><circle cx="285.38" cy="325.57" r="1.5"/><circle cx="285.57" cy="331.25" r="1.5"/><circle cx="285.75" cy="349.01" r="1.5"/><circle cx="285.94" cy="337.69" r="1.5"/><circle cx="286.13" cy="334.1" r="1.5"/><circle cx="286.32" cy="339.75" r="1.5"/><circle cx="286.51" cy="329.28" r="1.5"/><circle cx="286.7" cy="339.59" r="1.5"/><circle cx="286.89" cy="344.18" r="1.5"/><circle cx="287.08" cy="325" r="1.5"/><circle cx="287.27" cy="331.31" r="1.5"/><circle cx="287.46" cy="334.94" r="1.5"/><circle cx="287.65" cy="329.23" r="1.5"/><circle cx="287.84" cy="328.14" r="1.5"/><circle cx="288.03" cy="333.99" r="1.5"/><circle cx="288.22" cy="356.65" r="1.5"/><circle cx="288.41" cy="342.24" r="1.5"/><circle cx="288.6" cy="340.48" r="1.5"/><circle cx="288.79" cy="344.76" r="1.5"/><circle cx="288.98" cy="335.2" r="1.5"/><circle cx="289.17" cy="327.17" r="1.5"/><circle cx="289.36" cy="340.75" r="1.5"/><circle cx="289.55" cy="346.02" r="1.5"/><circle cx="289.73" cy="320.44" r="1.5"/><circle cx="289.92" cy="340.51" r="1.5"/><circle cx="290.11" cy="346.85" r="1.5"/><circle cx="290.3" cy="334.96" r="1.5"/><circle cx="290.49" cy="333.45" r="1.5"/><circle cx="290.68" cy="342.61" r="1.5"/><circle cx="290.87" cy="330.52" r="1.5"/><circle cx="291.06" cy="340.87" r="1.5"/><circle cx="291.25" cy="344.4" r="1.5"/><circle cx="291.44" cy="335.5" r="1.5"/><circle cx="291.63" cy="330.72" r="1.5"/><circle cx="291.82" cy="342.1" r="1.5"/><circle cx="292.01" cy="334.31" r="1.5"/><circle cx="292.2" cy="337.75" r="1.5"/><circle cx="292.39" cy="314.16" r="1.5"/><circle cx="292.58" cy="342.74" r="1.5"/><circle cx="292.77" cy="325.83" r="1.5"/><circle cx="292.96" cy="337.46" r="1.5"/><circle cx="293.15" cy="338.07" r="1.5"/><circle cx="293.34" cy="324.29" r="1.5"/><circle cx="293.53" cy="329.84" r="1.5"/><circle cx="293.71" cy="326.84" r="1.5"/><circle cx="293.9" cy="334.43" r="1.5"/><circle cx="294.09" cy="341.95" r="1.5"/><circle cx="294.28" cy="341.46" r="1.5"/><circle cx="294.47" cy="333" r="1.5"/><circle cx="294.66" cy="332.44" r="1.5"/><circle cx="294.85" cy="325.84" r="1.5"/><circle cx="295.04" cy="333.77" r="1.5"/><circle cx="295.23" cy="328.6" r="1.5"/><circle cx="295.42" cy="324.92" r="1.5"/><circle cx="295.61" cy="335.86" r="1.5"/><circle cx="295.8" cy="349.2" r="1.5"/><circle cx="295.99" cy="346.74" r="1.5"/><circle cx="296.18" cy="348.84" r="1.5"/><circle cx="296.37" cy="324.37" r="1.5"/><circle cx="296.56" cy="344.09" r="1.5"/><circle cx="296.75" cy="327.3" r="1.5"/><circle cx="296.94" cy="332.53" r="1.5"/><circle cx="297.13" cy="323.42" r="1.5"/><circle cx="297.32" cy="329.18" r="1.5"/><circle cx="297.51" cy="338.12" r="1.5"/><circle cx="297.69" cy="338.92" r="1.5"/><circle cx="297.88" cy="336.63" r="1.5"/><circle cx="298.07" cy="335.91" r="1.5"/><circle cx="298.26" cy="341.63" r="1.5"/><circle cx="298.45" cy="337.61" r="1.5"/><circle cx="298.64" cy="324.36" r="1.5"/><circle cx="298.83" cy="351.12" r="1.5"/><circle cx="299.02" cy="335.3" r="1.5"/><circle cx="299.21" cy="344.72" r="1.5"/><circle cx="299.4" cy="335.9" r="1.5"/><circle cx="299.59" cy="330.63" r="1.5"/><circle cx="299.78" cy="337.89" r="1.5"/><circle cx="299.97" cy="331.2" r="1.5"/><circle cx="300.16" cy="350.29" r="1.5"/><circle cx="300.35" cy="328.52" r="1.5"/><circle cx="300.54" cy="342.34" r="1.5"/><circle cx="300.73" cy="332.46" r="1.5"/><circle cx="300.92" cy="336.02" r="1.5"/><circle cx="301.11" cy="358.38" r="1.5"/><circle cx="301.3" cy="343.62" r="1.5"/><circle cx="301.49" cy="335.75" r="1.5"/><circle cx="301.67" cy="324.99" r="1.5"/><circle cx="301.86" cy="335.23" r="1.5"/><circle cx="302.05" cy="335.48" r="1.5"/><circle cx="302.24" cy="348.97" r="1.5"/><circle cx="302.43" cy="326.03" r="1.5"/><circle cx="302.62" cy="323.01" r="1.5"/><circle cx="302.81" cy="337.37" r="1.5"/><circle cx="303" cy="339.39" r="1.5"/><circle cx="303.19" cy="350.69" r="1.5"/><circle cx="303.38" cy="330.51" r="1.5"/><circle cx="303.57" cy="315.84" r="1.5"/><circle cx="303.76" cy="331.87" r="1.5"/><circle cx="303.95" cy="327.47" r="1.5"/><circle cx="304.14" cy="333.3" r="1.5"/><circle cx="304.33" cy="345.63" r="1.5"/><circle cx="304.52" cy="326.92" r="1.5"/><circle cx="304.71" cy="347.67" r="1.5"/><circle cx="304.9" cy="339.42" r="1.5"/><circle cx="305.09" cy="335.48" r="1.5"/><circle cx="305.28" cy="330.62" r="1.5"/><circle cx="305.47" cy="334.4" r="1.5"/><circle cx="305.65" cy="334.64" r="1.5"/><circle cx="305.84" cy="343.92" r="1.5"/><circle cx="306.03" cy="348.18" r="1.5"/><circle cx="306.22" cy="337.3" r="1.5"/><circle cx="306.41" cy="343.53" r="1.5"/><circle cx="306.6" cy="348.36" r="1.5"/><circle cx="306.79" cy="348.04" r="1.5"/><circle cx="306.98" cy="341.79" r="1.5"/><circle cx="307.17" cy="352.79" r="1.5"/><circle cx="307.36" cy="348.72" r="1.5"/><circle cx="307.55" cy="351.05" r="1.5"/><circle cx="307.74" cy="336.41" r="1.5"/><circle cx="307.93" cy="334.6" r="1.5"/><circle cx="308.12" cy="321.72" r="1.5"/><circle cx="308.31" cy="349.99" r="1.5"/><circle cx="308.5" cy="343.4" r="1.5"/><circle cx="308.69" cy="330.58" r="1.5"/><circle cx="308.88" cy="339.69" r="1.5"/><circle cx="309.07" cy="340.59" r="1.5"/><circle cx="309.26" cy="324.19" r="1.5"/><circle cx="309.45" cy="340.71" r="1.5"/><circle cx="309.63" cy="347.31" r="1.5"/><circle cx="309.82" cy="348.61" r="1.5"/><circle cx="310.01" cy="335.31" r="1.5"/><circle cx="310.2" cy="335.56" r="1.5"/><circle cx="310.39" cy="349.08" r="1.5"/><circle cx="310.58" cy="345.98" r="1.5"/><circle cx="310.77" cy="333.75" r="1.5"/><circle cx="310.96" cy="333.41" r="1.5"/><circle cx="311.15" cy="343.26" r="1.5"/><circle cx="311.34" cy="333.07" r="1.5"/><circle cx="311.53" cy="333.49" r="1.5"/><circle cx="311.72" cy="352.47" r="1.5"/><circle cx="311.91" cy="340.63" r="1.5"/><circle cx="312.1" cy="334.78" r="1.5"/><circle cx="312.29" cy="342.76" r="1.5"/><circle cx="312.48" cy="355.38" r="1.5"/><circle cx="312.67" cy="340.44" r="1.5"/><circle cx="312.86" cy="332.11" r="1.5"/><circle cx="313.05" cy="325.45" r="1.5"/><circle cx="313.24" cy="355.84" r="1.5"/><circle cx="313.43" cy="317.16" r="1.5"/><circle cx="313.61" cy="347.29" r="1.5"/><circle cx="313.8" cy="330.52" r="1.5"/><circle cx="313.99" cy="328.3" r="1.5"/><circle cx="314.18" cy="330.33" r="1.5"/><circle cx="314.37" cy="337.05" r="1.5"/><circle cx="314.56" cy="347.62" r="1.5"/><circle cx="314.75" cy="333.23" r="1.5"/><circle cx="314.94" cy="344.05" r="1.5"/><circle cx="315.13" cy="358.61" r="1.5"/><circle cx="315.32" cy="315.54" r="1.5"/><circle cx="315.51" cy="332.62" r="1.5"/><circle cx="315.7" cy="323.7" r="1.5"/><circle cx="315.89" cy="345.68" r="1.5"/><circle cx="316.08" cy="326.54" r="1.5"/><circle cx="316.27" cy="325.57" r="1.5"/><circle cx="316.46" cy="325.86" r="1.5"/><circle cx="316.65" cy="338.56" r="1.5"/><circle cx="316.84" cy="348.07" r="1.5"/><circle cx="317.03" cy="339.83" r="1.5"/><circle cx="317.22" cy="356.14" r="1.5"/><circle cx="317.41" cy="352.12" r="1.5"/><circle cx="317.59" cy="337.7" r="1.5"/><circle cx="317.78" cy="346.43" r="1.5"/><circle cx="317.97" cy="339.78" r="1.5"/><circle cx="318.16" cy="339.35" r="1.5"/><circle cx="318.35" cy="322.95" r="1.5"/><circle cx="318.54" cy="328.05" r="1.5"/><circle cx="318.73" cy="338.86" r="1.5"/><circle cx="318.92" cy="328.79" r="1.5"/><circle cx="319.11" cy="344.8" r="1.5"/><circle cx="319.3" cy="341.24" r="1.5"/><circle cx="319.49" cy="331.22" r="1.5"/><circle cx="319.68" cy="348.54" r="1.5"/><circle cx="319.87" cy="340.81" r="1.5"/><circle cx="320.06" cy="349.2" r="1.5"/><circle cx="320.25" cy="337.64" r="1.5"/><circle cx="320.44" cy="325.47" r="1.5"/><circle cx="320.63" cy="344.66" r="1.5"/><circle cx="320.82" cy="336.8" r="1.5"/><circle cx="321.01" cy="345.84" r="1.5"/><circle cx="321.2" cy="347.88" r="1.5"/><circle cx="321.39" cy="348.59" r="1.5"/><circle cx="321.58" cy="326.97" r="1.5"/><circle cx="321.76" cy="319.68" r="1.5"/><circle cx="321.95" cy="321.95" r="1.5"/><circle cx="322.14" cy="344.45" r="1.5"/><circle cx="322.33" cy="333.04" r="1.5"/><circle cx="322.52" cy="341.4" r="1.5"/><circle cx="322.71" cy="332.28" r="1.5"/><circle cx="322.9" cy="336.4" r="1.5"/><circle cx="323.09" cy="336.5" r="1.5"/><circle cx="323.28" cy="333.88" r="1.5"/><circle cx="323.47" cy="343.42" r="1.5"/><circle cx="323.66" cy="342.03" r="1.5"/><circle cx="323.85" cy="352.62" r="1.5"/><circle cx="324.04" cy="342.35" r="1.5"/><circle cx="324.23" cy="350.24" r="1.5"/><circle cx="324.42" cy="339.98" r="1.5"/><circle cx="324.61" cy="357.61" r="1.5"/><circle cx="324.8" cy="338.03" r="1.5"/><circle cx="324.99" cy="335.21" r="1.5"/><circle cx="325.18" cy="350.27" r="1.5"/><circle cx="325.37" cy="345.41" r="1.5"/><circle cx="325.56" cy="346.46" r="1.5"/><circle cx="325.74" cy="332.9" r="1.5"/><circle cx="325.93" cy="325.2" r="1.5"/><circle cx="326.12" cy="332.07" r="1.5"/><circle cx="326.31" cy="341.73" r="1.5"/><circle cx="326.5" cy="327.17" r="1.5"/><circle cx="326.69" cy="351.11" r="1.5"/><circle cx="326.88" cy="326.92" r="1.5"/><circle cx="327.07" cy="344.24" r="1.5"/><circle cx="327.26" cy="361.31" r="1.5"/><circle cx="327.45" cy="317.7" r="1.5"/><circle cx="327.64" cy="326.33" r="1.5"/><circle cx="327.83" cy="347.3" r="1.5"/><circle cx="328.02" cy="337.66" r="1.5"/><circle cx="328.21" cy="340.75" r="1.5"/><circle cx="328.4" cy="338.22" r="1.5"/><circle cx="328.59" cy="350.96" r="1.5"/><circle cx="328.78" cy="344.53" r="1.5"/><circle cx="328.97" cy="335.32" r="1.5"/><circle cx="329.16" cy="337.3" r="1.5"/><circle cx="329.35" cy="329.47" r="1.5"/><circle cx="329.54" cy="338.46" r="1.5"/><circle cx="329.72" cy="320.26" r="1.5"/><circle cx="329.91" cy="344.87" r="1.5"/><circle cx="330.1" cy="337.05" r="1.5"/><circle cx="330.29" cy="354.53" r="1.5"/><circle cx="330.48" cy="349.21" r="1.5"/><circle cx="330.67" cy="328.51" r="1.5"/><circle cx="330.86" cy="346.74" r="1.5"/><circle cx="331.05" cy="334.93" r="1.5"/><circle cx="331.24" cy="339.69" r="1.5"/><circle cx="331.43" cy="347.59" r="1.5"/><circle cx="331.62" cy="342.01" r="1.5"/><circle cx="331.81" cy="343.36" r="1.5"/><circle cx="332" cy="343.15" r="1.5"/><circle cx="332.19" cy="333.21" r="1.5"/><circle cx="332.38" cy="334.03" r="1.5"/><circle cx="332.57" cy="343.9" r="1.5"/><circle cx="332.76" cy="346.56" r="1.5"/><circle cx="332.95" cy="337.03" r="1.5"/><circle cx="333.14" cy="340.11" r="1.5"/><circle cx="333.33" cy="331.07" r="1.5"/><circle cx="333.52" cy="318.03" r="1.5"/><circle cx="333.7" cy="332.57" r="1.5"/><circle cx="333.89" cy="339.62" r="1.5"/><circle cx="334.08" cy="340.74" r="1.5"/><circle cx="334.27" cy="346.24" r="1.5"/><circle cx="334.46" cy="346.65" r="1.5"/><circle cx="334.65" cy="347.43" r="1.5"/><circle cx="334.84" cy="342.57" r="1.5"/><circle cx="335.03" cy="342.83" r="1.5"/><circle cx="335.22" cy="333.46" r="1.5"/><circle cx="335.41" cy="342.63" r="1.5"/><circle cx="335.6" cy="341.02" r="1.5"/></g>
<polyline points="51.6,329.31 52.07,329.33 52.55,329.35 53.02,329.37 53.5,329.4 53.97,329.42 54.44,329.45 54.92,329.49 55.39,329.52 55.87,329.56 56.34,329.6 56.82,329.65 57.29,329.7 57.76,329.76 58.24,329.81 58.71,329.88 59.19,329.94 59.66,330.01 60.13,330.09 60.61,330.17 61.08,330.26 61.56,330.35 62.03,330.45 62.5,330.56 62.98,330.67 63.45,330.78 63.93,330.91 64.4,331.04 64.88,331.18 65.35,331.33 65.82,331.49 66.3,331.66 66.77,331.83 67.25,332.02 67.72,332.21 68.19,332.42 68.67,332.64 69.14,332.87 69.62,333.11 70.09,333.37 70.56,333.64 71.04,333.92 71.51,334.22 71.99,334.54 72.46,334.87 72.94,335.22 73.41,335.58 73.88,335.97 74.36,336.38 74.83,336.8 75.31,337.25 75.78,337.72 76.25,338.22 76.73,338.74 77.2,339.28 77.68,339.86 78.15,340.46 78.63,341.09 79.1,341.76 79.57,342.45 80.05,343.19 80.52,343.95 81,344.76 81.47,345.61 81.94,346.5 82.42,347.43 82.89,348.4 83.37,349.43 83.84,350.5 84.31,351.63 84.79,352.82 85.26,354.06 85.74,355.36 86.21,356.72 86.69,358.15 87.16,359.65 87.63,361.22 88.11,362.87 88.58,364.59 89.06,366.4 89.53,368.3 90,370.28 90.48,372.36 90.95,374.54 91.43,376.83 91.9,379.22 92.37,381.72 92.85,384.34 93.32,387.09 93.8,389.96 94.27,392.97 94.75,396.11 95.22,399.4 95.69,402.83 96.17,406.42 96.64,410.17 97.12,414.07 97.59,418.14 98.06,422.36 98.54,426.74 99.01,431.26 99.49,435.9 99.96,440.6 100.43,445.27 100.91,449.76 101.38,453.74 101.86,456.65 102.33,457.75 102.81,456.65 103.28,453.75 103.75,449.77 104.23,445.29 104.7,440.61 105.18,435.91 105.65,431.27 106.12,426.76 106.6,422.38 107.07,418.15 107.55,414.08 108.02,410.18 108.49,406.43 108.97,402.84 109.44,399.41 109.92,396.12 110.39,392.97 110.87,389.97 111.34,387.1 111.81,384.35 112.29,381.73 112.76,379.22 113.24,376.83 113.71,374.55 114.18,372.37 114.66,370.29 115.13,368.3 115.61,366.41 116.08,364.6 116.55,362.87 117.03,361.22 117.5,359.65 117.98,358.15 118.45,356.72 118.93,355.36 119.4,354.06 119.87,352.82 120.35,351.64 120.82,350.51 121.3,349.43 121.77,348.41 122.24,347.43 122.72,346.5 123.19,345.61 123.67,344.76 124.14,343.96 124.62,343.19 125.09,342.46 125.56,341.76 126.04,341.09 126.51,340.46 126.99,339.86 127.46,339.28 127.93,338.74 128.41,338.22 128.88,337.72 129.36,337.25 129.83,336.8 130.3,336.38 130.78,335.97 131.25,335.58 131.73,335.22 132.2,334.87 132.68,334.54 133.15,334.22 133.62,333.92 134.1,333.64 134.57,333.37 135.05,333.11 135.52,332.87 135.99,332.64 136.47,332.42 136.94,332.21 137.42,332.02 137.89,331.83 138.36,331.66 138.84,331.49 139.31,331.33 139.79,331.18 140.26,331.04 140.74,330.91 141.21,330.78 141.68,330.67 142.16,330.56 142.63,330.45 143.11,330.35 143.58,330.26 144.05,330.17 144.53,330.09 145,330.01 145.48,329.94 145.95,329.88 146.42,329.81 146.9,329.76 147.37,329.7 147.85,329.65 148.32,329.61 148.8,329.56 149.27,329.52 149.74,329.49 150.22,329.45 150.69,329.42 151.17,329.4 151.64,329.37 152.11,329.35 152.59,329.33 153.06,329.31 153.54,329.3 154.01,329.28 154.48,329.27 154.96,329.26 155.43,329.26 155.91,329.25 156.38,329.25 156.86,329.25 157.33,329.25 157.8,329.25 158.28,329.25 158.75,329.25 159.23,329.26 159.7,329.26 160.17,329.27 160.65,329.28 161.12,329.29 161.6,329.3 162.07,329.31 162.54,329.32 163.02,329.34 163.49,329.35 163.97,329.36 164.44,329.38 164.92,329.4 165.39,329.41 165.86,329.43 166.34,329.45 166.81,329.47 167.29,329.49 167.76,329.51 168.23,329.53 168.71,329.55 169.18,329.57 169.66,329.59 170.13,329.61 170.61,329.64 171.08,329.66 171.55,329.68 172.03,329.71 172.5,329.73 172.98,329.76 173.45,329.78 173.92,329.81 174.4,329.83 174.87,329.86 175.35,329.88 175.82,329.91 176.29,329.93 176.77,329.96 177.24,329.99 177.72,330.01 178.19,330.04 178.67,330.07 179.14,330.1 179.61,330.12 180.09,330.15 180.56,330.18 181.04,330.21 181.51,330.23 181.98,330.26 182.46,330.29 182.93,330.32 183.41,330.35 183.88,330.38 184.35,330.41 184.83,330.43 185.3,330.46 185.78,330.49 186.25,330.52 186.73,330.55 187.2,330.58 187.67,330.61 188.15,330.64 188.62,330.67 189.1,330.7 189.57,330.73 190.04,330.76 190.52,330.78 190.99,330.81 191.47,330.84 191.94,330.87 192.41,330.9 192.89,330.93 193.36,330.96 193.84,330.99 194.31,331.02 194.79,331.05 195.26,331.08 195.73,331.11 196.21,331.14 196.68,331.17 197.16,331.2 197.63,331.23 198.1,331.26 198.58,331.29 199.05,331.32 199.53,331.35 200,331.38 200.47,331.41 200.95,331.44 201.42,331.47 201.9,331.5 202.37,331.53 202.85,331.56 203.32,331.59 203.79,331.62 204.27,331.65 204.74,331.68 205.22,331.71 205.69,331.74 206.16,331.77 206.64,331.8 207.11,331.83 207.59,331.86 208.06,331.89 208.53,331.92 209.01,331.95 209.48,331.98 209.96,332.01 210.43,332.04 210.91,332.07 211.38,332.1 211.85,332.13 212.33,332.16 212.8,332.19 213.28,332.22 213.75,332.25 214.22,332.28 214.7,332.31 215.17,332.34 215.65,332.37 216.12,332.4 216.59,332.43 217.07,332.46 217.54,332.49 218.02,332.52 218.49,332.55 218.97,332.58 219.44,332.61 219.91,332.64 220.39,332.67 220.86,332.7 221.34,332.73 221.81,332.75 222.28,332.78 222.76,332.81 223.23,332.84 223.71,332.87 224.18,332.9 224.66,332.93 225.13,332.96 225.6,332.99 226.08,333.02 226.55,333.05 227.03,333.08 227.5,333.11 227.97,333.14 228.45,333.17 228.92,333.2 229.4,333.23 229.87,333.26 230.34,333.29 230.82,333.32 231.29,333.35 231.77,333.37 232.24,333.4 232.72,333.43 233.19,333.46 233.66,333.49 234.14,333.52 234.61,333.55 235.09,333.58 235.56,333.61 236.03,333.64 236.51,333.67 236.98,333.7 237.46,333.73 237.93,333.75 238.4,333.78 238.88,333.81 239.35,333.84 239.83,333.87 240.3,333.9 240.78,333.93 241.25,333.96 241.72,333.99 242.2,334.02 242.67,334.05 243.15,334.07 243.62,334.1 244.09,334.13 244.57,334.16 245.04,334.19 245.52,334.22 245.99,334.25 246.46,334.28 246.94,334.31 247.41,334.33 247.89,334.36 248.36,334.39 248.84,334.42 249.31,334.45 249.78,334.48 250.26,334.51 250.73,334.54 251.21,334.56 251.68,334.59 252.15,334.62 252.63,334.65 253.1,334.68 253.58,334.71 254.05,334.74 254.52,334.77 255,334.79 255.47,334.82 255.95,334.85 256.42,334.88 256.9,334.91 257.37,334.94 257.84,334.97 258.32,334.99 258.79,335.02 259.27,335.05 259.74,335.08 260.21,335.11 260.69,335.14 261.16,335.16 261.64,335.19 262.11,335.22 262.58,335.25 263.06,335.28 263.53,335.31 264.01,335.33 264.48,335.36 264.96,335.39 265.43,335.42 265.9,335.45 266.38,335.48 266.85,335.5 267.33,335.53 267.8,335.56 268.27,335.59 268.75,335.62 269.22,335.65 269.7,335.67 270.17,335.7 270.65,335.73 271.12,335.76 271.59,335.79 272.07,335.81 272.54,335.84 273.02,335.87 273.49,335.9 273.96,335.93 274.44,335.95 274.91,335.98 275.39,336.01 275.86,336.04 276.33,336.07 276.81,336.09 277.28,336.12 277.76,336.15 278.23,336.18 278.71,336.2 279.18,336.23 279.65,336.26 280.13,336.29 280.6,336.32 281.08,336.34 281.55,336.37 282.02,336.4 282.5,336.43 282.97,336.45 283.45,336.48 283.92,336.51 284.39,336.54 284.87,336.57 285.34,336.59 285.82,336.62 286.29,336.65 286.77,336.68 287.24,336.7 287.71,336.73 288.19,336.76 288.66,336.79 289.14,336.81 289.61,336.84 290.08,336.87 290.56,336.9 291.03,336.92 291.51,336.95 291.98,336.98 292.45,337.01 292.93,337.03 293.4,337.06 293.88,337.09 294.35,337.12 294.83,337.14 295.3,337.17 295.77,337.2 296.25,337.22 296.72,337.25 297.2,337.28 297.67,337.31 298.14,337.33 298.62,337.36 299.09,337.39 299.57,337.42 300.04,337.44 300.51,337.47 300.99,337.5 301.46,337.52 301.94,337.55 302.41,337.58 302.89,337.61 303.36,337.63 303.83,337.66 304.31,337.69 304.78,337.71 305.26,337.74 305.73,337.77 306.2,337.79 306.68,337.82 307.15,337.85 307.63,337.88 308.1,337.9 308.57,337.93 309.05,337.96 309.52,337.98 310,338.01 310.47,338.04 310.95,338.06 311.42,338.09 311.89,338.12 312.37,338.14 312.84,338.17 313.32,338.2 313.79,338.22 314.26,338.25 314.74,338.28 315.21,338.3 315.69,338.33 316.16,338.36 316.64,338.38 317.11,338.41 317.58,338.44 318.06,338.46 318.53,338.49 319.01,338.52 319.48,338.54 319.95,338.57 320.43,338.6 320.9,338.62 321.38,338.65 321.85,338.68 322.32,338.7 322.8,338.73 323.27,338.76 323.75,338.78 324.22,338.81 324.7,338.84 325.17,338.86 325.64,338.89 326.12,338.91 326.59,338.94 327.07,338.97 327.54,338.99 328.01,339.02 328.49,339.05 328.96,339.07 329.44,339.1 329.91,339.13 330.38,339.15 330.86,339.18 331.33,339.2 331.81,339.23 332.28,339.26 332.76,339.28 333.23,339.31 333.7,339.33 334.18,339.36 334.65,339.39 335.13,339.41 335.6,339.44" fill="none" stroke="#cf3a22" stroke-width="1.5" stroke-linejoin="round"/>
<path d="M63.18 480.4v-2.7M63.18 271.5v2.7M102.09 480.4v-2.7M102.09 271.5v2.7M141.01 480.4v-2.7M141.01 271.5v2.7M179.93 480.4v-2.7M179.93 271.5v2.7M218.85 480.4v-2.7M218.85 271.5v2.7M257.76 480.4v-2.7M257.76 271.5v2.7M296.68 480.4v-2.7M296.68 271.5v2.7M335.6 480.4v-2.7M335.6 271.5v2.7M51.5 480.4h2.7M335.6 480.4h-2.7M51.5 454.29h2.7M335.6 454.29h-2.7M51.5 428.17h2.7M335.6 428.17h-2.7M51.5 402.06h2.7M335.6 402.06h-2.7M51.5 375.95h2.7M335.6 375.95h-2.7M51.5 349.84h2.7M335.6 349.84h-2.7M51.5 323.73h2.7M335.6 323.73h-2.7M51.5 297.61h2.7M335.6 297.61h-2.7M51.5 271.5h2.7M335.6 271.5h-2.7" stroke="#3a3a3a" stroke-width="1" fill="none"/>
<rect x="51.5" y="271.5" width="284.1" height="208.9" stroke="#3a3a3a" stroke-width="1.0" fill="none"/>
<text x="63.18" y="499.8" font-size="16" text-anchor="middle">−50</text>
<text x="102.09" y="499.8" font-size="16" text-anchor="middle">0</text>
<text x="141.01" y="499.8" font-size="16" text-anchor="middle">50</text>
<text x="179.93" y="499.8" font-size="16" text-anchor="middle">100</text>
<text x="218.85" y="499.8" font-size="16" text-anchor="middle">150</text>
<text x="257.76" y="499.8" font-size="16" text-anchor="middle">200</text>
<text x="296.68" y="499.8" font-size="16" text-anchor="middle">250</text>
<text x="335.6" y="499.8" font-size="16" text-anchor="middle">300</text>
<text x="46.6" y="484.9" font-size="16" text-anchor="end">0.0</text>
<text x="46.6" y="458.79" font-size="16" text-anchor="end">0.2</text>
<text x="46.6" y="432.67" font-size="16" text-anchor="end">0.4</text>
<text x="46.6" y="406.56" font-size="16" text-anchor="end">0.6</text>
<text x="46.6" y="380.45" font-size="16" text-anchor="end">0.8</text>
<text x="46.6" y="354.34" font-size="16" text-anchor="end">1.0</text>
<text x="46.6" y="328.23" font-size="16" text-anchor="end">1.2</text>
<text x="46.6" y="302.11" font-size="16" text-anchor="end">1.4</text>
<text x="46.6" y="276" font-size="16" text-anchor="end">1.6</text>
<text x="191.3" y="520.8" font-size="16.3" text-anchor="middle">Delay time (ns)</text>
<g transform="translate(15.4 400.1) rotate(-90)" fill="#222" font-size="16"><text x="0" y="0" font-style="italic">g</text><text x="8.6" y="-6.6" font-size="11.5">2</text><text x="20.9" y="0" letter-spacing="1">(<tspan font-style="italic">τ</tspan>)</text></g>
<text x="-0.5" y="277.6" font-size="16" font-weight="bold">d</text>
<line x1="402.9" y1="375.6" x2="687.2" y2="375.6" stroke="#d88a84" stroke-width="1.2" stroke-dasharray="4.2 3.4"/>
<line x1="403.4" y1="445.7" x2="663.4" y2="317.5" stroke="#3c3c9a" stroke-width="1.0"/>
<path d="M406 444.3V453.3M404 444.3h4M404 453.3h4M409.4 446.5V452.5M407.4 446.5h4M407.4 452.5h4M413.7 444.1V454.1M411.7 444.1h4M411.7 454.1h4M446 411.5V419.9M444 411.5h4M444 419.9h4M547.2 359V375.4M545.2 359h4M545.2 375.4h4M576.6 367.3V375.9M574.6 367.3h4M574.6 375.9h4M663.4 308.8V338.4M661.4 308.8h4M661.4 338.4h4" stroke="#4a4a9a" stroke-width="1" fill="none"/>
<g fill="#2a2874" stroke="#20205a" stroke-width="0.5"><circle cx="406" cy="448.8" r="2.6"/><circle cx="409.4" cy="449.5" r="2.6"/><circle cx="413.7" cy="449.1" r="2.6"/><circle cx="418.9" cy="436.3" r="2.6"/><circle cx="446" cy="415.7" r="2.6"/><circle cx="460.5" cy="413.5" r="2.6"/><circle cx="504.1" cy="396.5" r="2.6"/><circle cx="547.2" cy="367.2" r="2.6"/><circle cx="576.6" cy="371.6" r="2.6"/><circle cx="663.4" cy="323.6" r="2.6"/></g>
<path d="M402.9 480.4v-2.7M402.9 271.5v2.7M434.49 480.4v-2.7M434.49 271.5v2.7M466.08 480.4v-2.7M466.08 271.5v2.7M497.67 480.4v-2.7M497.67 271.5v2.7M529.26 480.4v-2.7M529.26 271.5v2.7M560.84 480.4v-2.7M560.84 271.5v2.7M592.43 480.4v-2.7M592.43 271.5v2.7M624.02 480.4v-2.7M624.02 271.5v2.7M655.61 480.4v-2.7M655.61 271.5v2.7M687.2 480.4v-2.7M687.2 271.5v2.7M402.9 480.4h2.7M687.2 480.4h-2.7M402.9 438.62h2.7M687.2 438.62h-2.7M402.9 396.84h2.7M687.2 396.84h-2.7M402.9 355.06h2.7M687.2 355.06h-2.7M402.9 313.28h2.7M687.2 313.28h-2.7M402.9 271.5h2.7M687.2 271.5h-2.7" stroke="#3a3a3a" stroke-width="1" fill="none"/>
<rect x="402.9" y="271.5" width="284.3" height="208.9" stroke="#3a3a3a" stroke-width="1.0" fill="none"/>
<text x="402.9" y="499.8" font-size="16" text-anchor="middle">0.0</text>
<text x="434.49" y="499.8" font-size="16" text-anchor="middle">0.5</text>
<text x="466.08" y="499.8" font-size="16" text-anchor="middle">1.0</text>
<text x="497.67" y="499.8" font-size="16" text-anchor="middle">1.5</text>
<text x="529.26" y="499.8" font-size="16" text-anchor="middle">2.0</text>
<text x="560.84" y="499.8" font-size="16" text-anchor="middle">2.5</text>
<text x="592.43" y="499.8" font-size="16" text-anchor="middle">3.0</text>
<text x="624.02" y="499.8" font-size="16" text-anchor="middle">3.5</text>
<text x="655.61" y="499.8" font-size="16" text-anchor="middle">4.0</text>
<text x="687.2" y="499.8" font-size="16" text-anchor="middle">4.5</text>
<text x="397.9" y="484.9" font-size="16" text-anchor="end">0.0</text>
<text x="397.9" y="443.12" font-size="16" text-anchor="end">0.2</text>
<text x="397.9" y="401.34" font-size="16" text-anchor="end">0.4</text>
<text x="397.9" y="359.56" font-size="16" text-anchor="end">0.6</text>
<text x="397.9" y="317.78" font-size="16" text-anchor="end">0.8</text>
<text x="397.9" y="276" font-size="16" text-anchor="end">1.0</text>
<text x="547.6" y="520.6" font-size="16.3" text-anchor="middle">Power (mW)</text>
<g transform="translate(365.3 400.5) rotate(-90)" fill="#222" font-size="16"><text x="0" y="0" font-style="italic">g</text><text x="8.6" y="-6.6" font-size="11.5">2</text><text x="21.5" y="0">(0)</text></g>
<text x="358.5" y="274.6" font-size="16" font-weight="bold">e</text>
<line x1="754.4" y1="362.4" x2="1035.4" y2="277.9" stroke="#3c3c9a" stroke-width="1.0"/>
<path d="M764.3 354.3V364.7M762.3 354.3h4M762.3 364.7h4M787.1 352.5V361.5M785.1 352.5h4M785.1 361.5h4M803.3 339.1V347.5M801.3 339.1h4M801.3 347.5h4M949.7 314.8V321.8M947.7 314.8h4M947.7 321.8h4M1015 277.7V281.7M1013 277.7h4M1013 281.7h4" stroke="#4a4a9a" stroke-width="1" fill="none"/>
<g fill="#2a2874" stroke="#20205a" stroke-width="0.5"><circle cx="764.3" cy="359.5" r="2.6"/><circle cx="787.1" cy="357" r="2.6"/><circle cx="803.3" cy="343.3" r="2.6"/><circle cx="949.7" cy="318.3" r="2.6"/><circle cx="1015" cy="279.7" r="2.6"/></g>
<path d="M754.4 480.4v-2.7M754.4 271.5v2.7M811.32 480.4v-2.7M811.32 271.5v2.7M868.24 480.4v-2.7M868.24 271.5v2.7M925.16 480.4v-2.7M925.16 271.5v2.7M982.08 480.4v-2.7M982.08 271.5v2.7M1039 480.4v-2.7M1039 271.5v2.7M754.4 479.9h2.7M1039 479.9h-2.7M754.4 443.58h2.7M1039 443.58h-2.7M754.4 407.26h2.7M1039 407.26h-2.7M754.4 370.94h2.7M1039 370.94h-2.7M754.4 334.62h2.7M1039 334.62h-2.7M754.4 298.3h2.7M1039 298.3h-2.7" stroke="#3a3a3a" stroke-width="1" fill="none"/>
<rect x="754.4" y="271.5" width="284.6" height="208.9" stroke="#3a3a3a" stroke-width="1.0" fill="none"/>
<text x="754.4" y="499.8" font-size="16" text-anchor="middle">0.0</text>
<text x="811.32" y="499.8" font-size="16" text-anchor="middle">0.2</text>
<text x="868.24" y="499.8" font-size="16" text-anchor="middle">0.4</text>
<text x="925.16" y="499.8" font-size="16" text-anchor="middle">0.6</text>
<text x="982.08" y="499.8" font-size="16" text-anchor="middle">0.8</text>
<text x="1039" y="499.8" font-size="16" text-anchor="middle">1.0</text>
<text x="749.5" y="484.4" font-size="16" text-anchor="end">0.00</text>
<text x="749.5" y="448.08" font-size="16" text-anchor="end">0.02</text>
<text x="749.5" y="411.76" font-size="16" text-anchor="end">0.04</text>
<text x="749.5" y="375.44" font-size="16" text-anchor="end">0.06</text>
<text x="749.5" y="339.12" font-size="16" text-anchor="end">0.08</text>
<text x="749.5" y="302.8" font-size="16" text-anchor="end">0.10</text>
<text x="899.3" y="520.6" font-size="16.3" text-anchor="middle">Power (mW)</text>
<text x="712.8" y="384.3" font-size="15.9" text-anchor="middle" transform="rotate(-90 712.8 384.3)">Inverse time constant (1/ns)</text>
<text x="700.2" y="276.3" font-size="16" font-weight="bold">f</text>
<rect x="876.8" y="340.6" width="140.9" height="102.5" fill="#fff"/>
<g fill="#23235e"><circle cx="885.61" cy="355.1" r="1.3"/><circle cx="886.34" cy="352.31" r="1.3"/><circle cx="887.07" cy="354.7" r="1.3"/><circle cx="887.79" cy="357.06" r="1.3"/><circle cx="888.52" cy="355.47" r="1.3"/><circle cx="889.25" cy="352.93" r="1.3"/><circle cx="889.98" cy="353.5" r="1.3"/><circle cx="890.71" cy="355.34" r="1.3"/><circle cx="891.44" cy="355.25" r="1.3"/><circle cx="892.17" cy="355.57" r="1.3"/><circle cx="892.9" cy="356.48" r="1.3"/><circle cx="893.63" cy="351.58" r="1.3"/><circle cx="894.36" cy="355.34" r="1.3"/><circle cx="895.09" cy="357.58" r="1.3"/><circle cx="895.82" cy="356.3" r="1.3"/><circle cx="896.55" cy="353.95" r="1.3"/><circle cx="897.28" cy="354.12" r="1.3"/><circle cx="898.01" cy="355.64" r="1.3"/><circle cx="898.74" cy="356.69" r="1.3"/><circle cx="899.47" cy="355.34" r="1.3"/><circle cx="900.2" cy="358.66" r="1.3"/><circle cx="900.93" cy="357.94" r="1.3"/><circle cx="901.66" cy="353.83" r="1.3"/><circle cx="902.39" cy="356.34" r="1.3"/><circle cx="903.11" cy="354.67" r="1.3"/><circle cx="903.84" cy="353.03" r="1.3"/><circle cx="904.57" cy="354.15" r="1.3"/><circle cx="905.3" cy="355.39" r="1.3"/><circle cx="906.03" cy="351.27" r="1.3"/><circle cx="906.76" cy="354.13" r="1.3"/><circle cx="907.49" cy="356.14" r="1.3"/><circle cx="908.22" cy="354.02" r="1.3"/><circle cx="908.95" cy="354.66" r="1.3"/><circle cx="909.68" cy="357.15" r="1.3"/><circle cx="910.41" cy="355.34" r="1.3"/><circle cx="911.14" cy="355.81" r="1.3"/><circle cx="911.87" cy="359.35" r="1.3"/><circle cx="912.6" cy="355.85" r="1.3"/><circle cx="913.33" cy="356.08" r="1.3"/><circle cx="914.06" cy="356.39" r="1.3"/><circle cx="914.79" cy="358.77" r="1.3"/><circle cx="915.52" cy="356.26" r="1.3"/><circle cx="916.25" cy="355.66" r="1.3"/><circle cx="916.98" cy="355.4" r="1.3"/><circle cx="917.7" cy="357.83" r="1.3"/><circle cx="918.43" cy="354.39" r="1.3"/><circle cx="919.16" cy="358.03" r="1.3"/><circle cx="919.89" cy="356.11" r="1.3"/><circle cx="920.62" cy="353.14" r="1.3"/><circle cx="921.35" cy="357.08" r="1.3"/><circle cx="922.08" cy="356.75" r="1.3"/><circle cx="922.81" cy="353.68" r="1.3"/><circle cx="923.54" cy="356.57" r="1.3"/><circle cx="924.27" cy="356.43" r="1.3"/><circle cx="925" cy="355.46" r="1.3"/><circle cx="925.73" cy="353.88" r="1.3"/><circle cx="926.46" cy="360.3" r="1.3"/><circle cx="927.19" cy="357.66" r="1.3"/><circle cx="927.92" cy="358.07" r="1.3"/><circle cx="928.65" cy="358.29" r="1.3"/><circle cx="929.38" cy="357.91" r="1.3"/><circle cx="930.11" cy="357.97" r="1.3"/><circle cx="930.84" cy="355.84" r="1.3"/><circle cx="931.57" cy="358.27" r="1.3"/><circle cx="932.3" cy="356.42" r="1.3"/><circle cx="933.02" cy="356.02" r="1.3"/><circle cx="933.75" cy="358.4" r="1.3"/><circle cx="934.48" cy="356.91" r="1.3"/><circle cx="935.21" cy="354.21" r="1.3"/><circle cx="935.94" cy="357.05" r="1.3"/><circle cx="936.67" cy="359.25" r="1.3"/><circle cx="937.4" cy="358.53" r="1.3"/><circle cx="938.13" cy="360.68" r="1.3"/><circle cx="938.86" cy="358.97" r="1.3"/><circle cx="939.59" cy="358.58" r="1.3"/><circle cx="940.32" cy="362.84" r="1.3"/><circle cx="941.05" cy="362.93" r="1.3"/><circle cx="941.78" cy="362.05" r="1.3"/><circle cx="942.51" cy="367.47" r="1.3"/><circle cx="943.24" cy="369.28" r="1.3"/><circle cx="943.97" cy="375.98" r="1.3"/><circle cx="944.7" cy="381.49" r="1.3"/><circle cx="945.43" cy="388.42" r="1.3"/><circle cx="946.16" cy="391.29" r="1.3"/><circle cx="946.89" cy="401.5" r="1.3"/><circle cx="947.61" cy="400.93" r="1.3"/><circle cx="948.34" cy="394.66" r="1.3"/><circle cx="949.07" cy="385.8" r="1.3"/><circle cx="949.8" cy="377.06" r="1.3"/><circle cx="950.53" cy="372.45" r="1.3"/><circle cx="951.26" cy="364.88" r="1.3"/><circle cx="951.99" cy="365.48" r="1.3"/><circle cx="952.72" cy="361" r="1.3"/><circle cx="953.45" cy="361.65" r="1.3"/><circle cx="954.18" cy="359.83" r="1.3"/><circle cx="954.91" cy="362.81" r="1.3"/><circle cx="955.64" cy="359.58" r="1.3"/><circle cx="956.37" cy="358.89" r="1.3"/><circle cx="957.1" cy="358.76" r="1.3"/><circle cx="957.83" cy="362.02" r="1.3"/><circle cx="958.56" cy="355.93" r="1.3"/><circle cx="959.29" cy="358.08" r="1.3"/><circle cx="960.02" cy="357.95" r="1.3"/><circle cx="960.75" cy="357.42" r="1.3"/><circle cx="961.48" cy="357.2" r="1.3"/><circle cx="962.2" cy="355.85" r="1.3"/><circle cx="962.93" cy="358.93" r="1.3"/><circle cx="963.66" cy="358.17" r="1.3"/><circle cx="964.39" cy="355.75" r="1.3"/><circle cx="965.12" cy="355.95" r="1.3"/><circle cx="965.85" cy="356.87" r="1.3"/><circle cx="966.58" cy="357.18" r="1.3"/><circle cx="967.31" cy="357.61" r="1.3"/><circle cx="968.04" cy="356.08" r="1.3"/><circle cx="968.77" cy="353.68" r="1.3"/><circle cx="969.5" cy="357.9" r="1.3"/><circle cx="970.23" cy="352.94" r="1.3"/><circle cx="970.96" cy="354.2" r="1.3"/><circle cx="971.69" cy="356.64" r="1.3"/><circle cx="972.42" cy="354.25" r="1.3"/><circle cx="973.15" cy="358.51" r="1.3"/><circle cx="973.88" cy="358.99" r="1.3"/><circle cx="974.61" cy="358.12" r="1.3"/><circle cx="975.34" cy="356.43" r="1.3"/><circle cx="976.07" cy="356.25" r="1.3"/><circle cx="976.8" cy="356.59" r="1.3"/><circle cx="977.52" cy="355.4" r="1.3"/><circle cx="978.25" cy="359.64" r="1.3"/><circle cx="978.98" cy="354.62" r="1.3"/><circle cx="979.71" cy="358.25" r="1.3"/><circle cx="980.44" cy="356.79" r="1.3"/><circle cx="981.17" cy="356.31" r="1.3"/><circle cx="981.9" cy="357.71" r="1.3"/><circle cx="982.63" cy="358.11" r="1.3"/><circle cx="983.36" cy="357.4" r="1.3"/><circle cx="984.09" cy="355.5" r="1.3"/><circle cx="984.82" cy="354.35" r="1.3"/><circle cx="985.55" cy="354.39" r="1.3"/><circle cx="986.28" cy="357.35" r="1.3"/><circle cx="987.01" cy="356.95" r="1.3"/><circle cx="987.74" cy="357.19" r="1.3"/><circle cx="988.47" cy="354.58" r="1.3"/><circle cx="989.2" cy="359.3" r="1.3"/><circle cx="989.93" cy="353.06" r="1.3"/><circle cx="990.66" cy="356.34" r="1.3"/><circle cx="991.39" cy="356.9" r="1.3"/><circle cx="992.11" cy="354.76" r="1.3"/><circle cx="992.84" cy="353.43" r="1.3"/><circle cx="993.57" cy="354.74" r="1.3"/><circle cx="994.3" cy="353.38" r="1.3"/><circle cx="995.03" cy="355.13" r="1.3"/><circle cx="995.76" cy="353.04" r="1.3"/><circle cx="996.49" cy="353" r="1.3"/><circle cx="997.22" cy="355.56" r="1.3"/><circle cx="997.95" cy="352.63" r="1.3"/><circle cx="998.68" cy="355.05" r="1.3"/><circle cx="999.41" cy="355.2" r="1.3"/><circle cx="1000.14" cy="357.11" r="1.3"/><circle cx="1000.87" cy="355.9" r="1.3"/><circle cx="1001.6" cy="353.87" r="1.3"/><circle cx="1002.33" cy="357.85" r="1.3"/><circle cx="1003.06" cy="354.11" r="1.3"/><circle cx="1003.79" cy="354.68" r="1.3"/><circle cx="1004.52" cy="354.81" r="1.3"/><circle cx="1005.25" cy="359.54" r="1.3"/><circle cx="1005.98" cy="355.53" r="1.3"/><circle cx="1006.71" cy="354.1" r="1.3"/><circle cx="1007.43" cy="356.78" r="1.3"/><circle cx="1008.16" cy="355.16" r="1.3"/><circle cx="1008.89" cy="359.85" r="1.3"/></g>
<polyline points="885.61,355.33 885.85,355.33 886.1,355.33 886.35,355.33 886.59,355.33 886.84,355.33 887.09,355.33 887.34,355.33 887.58,355.33 887.83,355.33 888.08,355.34 888.32,355.34 888.57,355.34 888.82,355.34 889.07,355.34 889.31,355.34 889.56,355.34 889.81,355.34 890.05,355.34 890.3,355.34 890.55,355.34 890.79,355.34 891.04,355.35 891.29,355.35 891.54,355.35 891.78,355.35 892.03,355.35 892.28,355.35 892.52,355.35 892.77,355.35 893.02,355.35 893.27,355.35 893.51,355.35 893.76,355.36 894.01,355.36 894.25,355.36 894.5,355.36 894.75,355.36 894.99,355.36 895.24,355.36 895.49,355.36 895.74,355.36 895.98,355.37 896.23,355.37 896.48,355.37 896.72,355.37 896.97,355.37 897.22,355.37 897.47,355.37 897.71,355.37 897.96,355.38 898.21,355.38 898.45,355.38 898.7,355.38 898.95,355.38 899.2,355.38 899.44,355.38 899.69,355.39 899.94,355.39 900.18,355.39 900.43,355.39 900.68,355.39 900.92,355.39 901.17,355.4 901.42,355.4 901.67,355.4 901.91,355.4 902.16,355.4 902.41,355.4 902.65,355.41 902.9,355.41 903.15,355.41 903.4,355.41 903.64,355.41 903.89,355.41 904.14,355.42 904.38,355.42 904.63,355.42 904.88,355.42 905.12,355.42 905.37,355.43 905.62,355.43 905.87,355.43 906.11,355.43 906.36,355.44 906.61,355.44 906.85,355.44 907.1,355.44 907.35,355.45 907.6,355.45 907.84,355.45 908.09,355.45 908.34,355.46 908.58,355.46 908.83,355.46 909.08,355.46 909.32,355.47 909.57,355.47 909.82,355.47 910.07,355.48 910.31,355.48 910.56,355.48 910.81,355.49 911.05,355.49 911.3,355.49 911.55,355.5 911.8,355.5 912.04,355.5 912.29,355.51 912.54,355.51 912.78,355.51 913.03,355.52 913.28,355.52 913.53,355.53 913.77,355.53 914.02,355.54 914.27,355.54 914.51,355.54 914.76,355.55 915.01,355.55 915.25,355.56 915.5,355.56 915.75,355.57 916,355.57 916.24,355.58 916.49,355.58 916.74,355.59 916.98,355.59 917.23,355.6 917.48,355.61 917.73,355.61 917.97,355.62 918.22,355.63 918.47,355.63 918.71,355.64 918.96,355.65 919.21,355.65 919.45,355.66 919.7,355.67 919.95,355.67 920.2,355.68 920.44,355.69 920.69,355.7 920.94,355.71 921.18,355.72 921.43,355.73 921.68,355.73 921.93,355.74 922.17,355.75 922.42,355.76 922.67,355.78 922.91,355.79 923.16,355.8 923.41,355.81 923.65,355.82 923.9,355.83 924.15,355.84 924.4,355.86 924.64,355.87 924.89,355.89 925.14,355.9 925.38,355.91 925.63,355.93 925.88,355.95 926.13,355.96 926.37,355.98 926.62,356 926.87,356.01 927.11,356.03 927.36,356.05 927.61,356.07 927.86,356.09 928.1,356.12 928.35,356.14 928.6,356.16 928.84,356.19 929.09,356.21 929.34,356.24 929.58,356.27 929.83,356.29 930.08,356.32 930.33,356.35 930.57,356.39 930.82,356.42 931.07,356.46 931.31,356.49 931.56,356.53 931.81,356.57 932.06,356.62 932.3,356.66 932.55,356.71 932.8,356.76 933.04,356.81 933.29,356.86 933.54,356.92 933.78,356.98 934.03,357.04 934.28,357.11 934.53,357.18 934.77,357.26 935.02,357.33 935.27,357.42 935.51,357.51 935.76,357.6 936.01,357.7 936.26,357.81 936.5,357.92 936.75,358.04 937,358.17 937.24,358.31 937.49,358.46 937.74,358.61 937.98,358.78 938.23,358.97 938.48,359.16 938.73,359.37 938.97,359.6 939.22,359.85 939.47,360.12 939.71,360.41 939.96,360.73 940.21,361.08 940.46,361.46 940.7,361.87 940.95,362.32 941.2,362.82 941.44,363.38 941.69,363.98 941.94,364.66 942.19,365.4 942.43,366.23 942.68,367.15 942.93,368.18 943.17,369.33 943.42,370.61 943.67,372.04 943.91,373.63 944.16,375.4 944.41,377.36 944.66,379.52 944.9,381.88 945.15,384.41 945.4,387.1 945.64,389.87 945.89,392.63 946.14,395.25 946.39,397.59 946.63,399.46 946.88,400.7 947.13,401.21 947.37,400.93 947.62,399.88 947.87,398.18 948.11,395.96 948.36,393.4 948.61,390.67 948.86,387.89 949.1,385.17 949.35,382.59 949.6,380.18 949.84,377.96 950.09,375.94 950.34,374.12 950.59,372.48 950.83,371 951.08,369.68 951.33,368.5 951.57,367.44 951.82,366.49 952.07,365.63 952.31,364.86 952.56,364.17 952.81,363.54 953.06,362.98 953.3,362.46 953.55,362 953.8,361.57 954.04,361.18 954.29,360.83 954.54,360.5 954.79,360.2 955.03,359.93 955.28,359.67 955.53,359.44 955.77,359.22 956.02,359.02 956.27,358.83 956.52,358.66 956.76,358.5 957.01,358.35 957.26,358.21 957.5,358.08 957.75,357.95 958,357.84 958.24,357.73 958.49,357.63 958.74,357.53 958.99,357.44 959.23,357.36 959.48,357.28 959.73,357.2 959.97,357.13 960.22,357.06 960.47,357 960.72,356.94 960.96,356.88 961.21,356.82 961.46,356.77 961.7,356.72 961.95,356.67 962.2,356.63 962.44,356.59 962.69,356.54 962.94,356.51 963.19,356.47 963.43,356.43 963.68,356.4 963.93,356.36 964.17,356.33 964.42,356.3 964.67,356.27 964.92,356.25 965.16,356.22 965.41,356.19 965.66,356.17 965.9,356.14 966.15,356.12 966.4,356.1 966.64,356.08 966.89,356.06 967.14,356.04 967.39,356.02 967.63,356 967.88,355.98 968.13,355.97 968.37,355.95 968.62,355.93 968.87,355.92 969.12,355.9 969.36,355.89 969.61,355.88 969.86,355.86 970.1,355.85 970.35,355.84 970.6,355.82 970.85,355.81 971.09,355.8 971.34,355.79 971.59,355.78 971.83,355.77 972.08,355.76 972.33,355.75 972.57,355.74 972.82,355.73 973.07,355.72 973.32,355.71 973.56,355.7 973.81,355.69 974.06,355.69 974.3,355.68 974.55,355.67 974.8,355.66 975.05,355.65 975.29,355.65 975.54,355.64 975.79,355.63 976.03,355.63 976.28,355.62 976.53,355.61 976.77,355.61 977.02,355.6 977.27,355.6 977.52,355.59 977.76,355.59 978.01,355.58 978.26,355.57 978.5,355.57 978.75,355.56 979,355.56 979.25,355.55 979.49,355.55 979.74,355.55 979.99,355.54 980.23,355.54 980.48,355.53 980.73,355.53 980.97,355.52 981.22,355.52 981.47,355.52 981.72,355.51 981.96,355.51 982.21,355.5 982.46,355.5 982.7,355.5 982.95,355.49 983.2,355.49 983.45,355.49 983.69,355.48 983.94,355.48 984.19,355.48 984.43,355.47 984.68,355.47 984.93,355.47 985.18,355.47 985.42,355.46 985.67,355.46 985.92,355.46 986.16,355.45 986.41,355.45 986.66,355.45 986.9,355.45 987.15,355.44 987.4,355.44 987.65,355.44 987.89,355.44 988.14,355.43 988.39,355.43 988.63,355.43 988.88,355.43 989.13,355.43 989.38,355.42 989.62,355.42 989.87,355.42 990.12,355.42 990.36,355.42 990.61,355.41 990.86,355.41 991.1,355.41 991.35,355.41 991.6,355.41 991.85,355.4 992.09,355.4 992.34,355.4 992.59,355.4 992.83,355.4 993.08,355.4 993.33,355.39 993.58,355.39 993.82,355.39 994.07,355.39 994.32,355.39 994.56,355.39 994.81,355.38 995.06,355.38 995.3,355.38 995.55,355.38 995.8,355.38 996.05,355.38 996.29,355.38 996.54,355.37 996.79,355.37 997.03,355.37 997.28,355.37 997.53,355.37 997.78,355.37 998.02,355.37 998.27,355.37 998.52,355.37 998.76,355.36 999.01,355.36 999.26,355.36 999.51,355.36 999.75,355.36 1000,355.36 1000.25,355.36 1000.49,355.36 1000.74,355.36 1000.99,355.35 1001.23,355.35 1001.48,355.35 1001.73,355.35 1001.98,355.35 1002.22,355.35 1002.47,355.35 1002.72,355.35 1002.96,355.35 1003.21,355.35 1003.46,355.34 1003.71,355.34 1003.95,355.34 1004.2,355.34 1004.45,355.34 1004.69,355.34 1004.94,355.34 1005.19,355.34 1005.43,355.34 1005.68,355.34 1005.93,355.34 1006.18,355.34 1006.42,355.33 1006.67,355.33 1006.92,355.33 1007.16,355.33 1007.41,355.33 1007.66,355.33 1007.91,355.33 1008.15,355.33 1008.4,355.33 1008.65,355.33 1008.89,355.33" fill="none" stroke="#e0503a" stroke-width="1.0" stroke-linejoin="round"/>
<path d="M885.61 443.1v-1.5M885.61 340.6v1.5M929.64 443.1v-1.5M929.64 340.6v1.5M973.67 443.1v-1.5M973.67 340.6v1.5M1017.7 443.1v-1.5M1017.7 340.6v1.5M876.8 443.1h1.5M1017.7 443.1h-1.5M876.8 413.81h1.5M1017.7 413.81h-1.5M876.8 384.53h1.5M1017.7 384.53h-1.5M876.8 355.24h1.5M1017.7 355.24h-1.5" stroke="#808080" stroke-width="1" fill="none"/>
<rect x="876.8" y="340.6" width="140.9" height="102.5" stroke="#808080" stroke-width="1.0" fill="none"/>
<text x="885.61" y="458.6" font-size="12" text-anchor="middle">2.80</text>
<text x="929.64" y="458.6" font-size="12" text-anchor="middle">2.85</text>
<text x="973.67" y="458.6" font-size="12" text-anchor="middle">2.90</text>
<text x="1017.7" y="458.6" font-size="12" text-anchor="middle">2.95</text>
<text x="874.3" y="447.3" font-size="12" text-anchor="end">0.7</text>
<text x="874.3" y="418.01" font-size="12" text-anchor="end">0.8</text>
<text x="874.3" y="388.73" font-size="12" text-anchor="end">0.9</text>
<text x="874.3" y="359.44" font-size="12" text-anchor="end">1.0</text>
<text x="950.4" y="472.8" font-size="12" text-anchor="middle">Frequency (GHz)</text>
<text x="851.3" y="396.4" font-size="12" text-anchor="middle" transform="rotate(-90 851.3 396.4)">Normalized count rate</text>
</svg></body></html>
